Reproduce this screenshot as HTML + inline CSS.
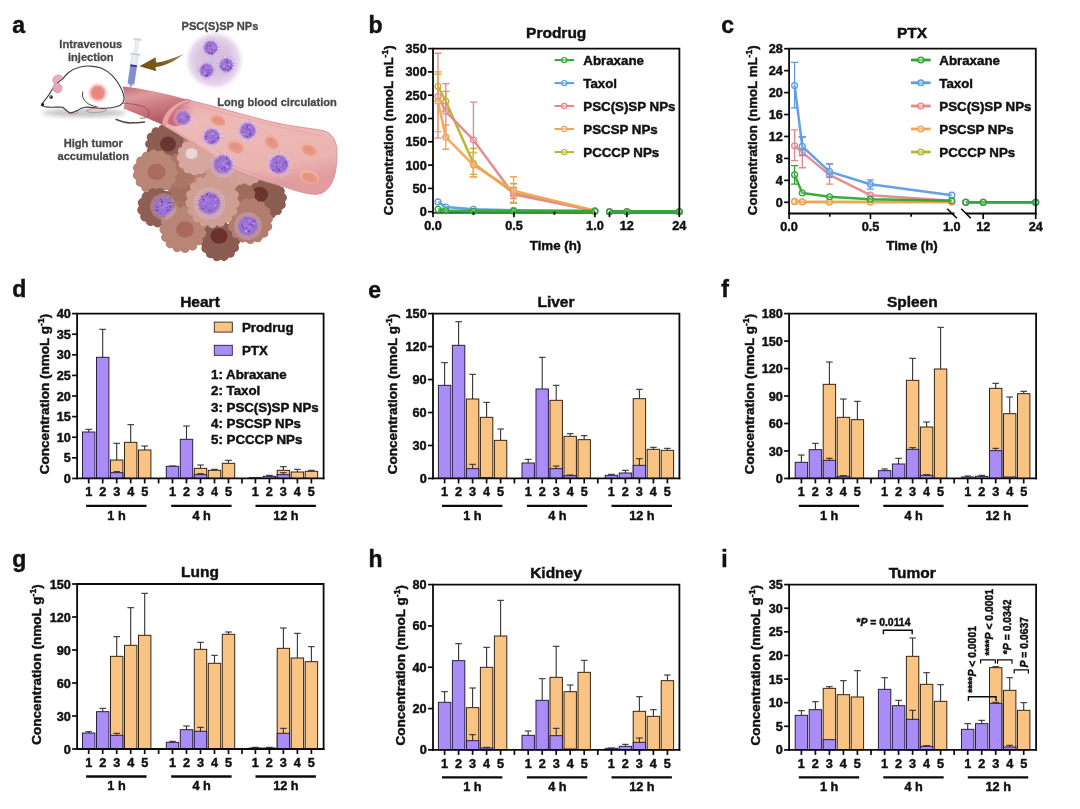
<!DOCTYPE html>
<html lang="en"><head><meta charset="utf-8"><title>Figure</title>
<style>html,body{margin:0;padding:0;background:#fff}svg{display:block}text{stroke:#111;stroke-width:.45px}text.g{stroke:#484848;stroke-width:.3px}</style></head>
<body>
<svg width="1080" height="809" viewBox="0 0 1080 809" font-family="'Liberation Sans', Arial, Helvetica, sans-serif" font-weight="bold">
<rect width="1080" height="809" fill="#fff"/>
<defs>
<radialGradient id="npg" cx="0.45" cy="0.45" r="0.6"><stop offset="0" stop-color="#a27ad8"/><stop offset="0.7" stop-color="#976ccf"/><stop offset="1" stop-color="#b08edc"/></radialGradient>
<radialGradient id="rbcg" cx="0.4" cy="0.4" r="0.7"><stop offset="0" stop-color="#e68e7e"/><stop offset="1" stop-color="#ea9e8e"/></radialGradient>
<radialGradient id="halo" cx="0.5" cy="0.5" r="0.5"><stop offset="0" stop-color="#d6bede"/><stop offset="0.55" stop-color="#dac4e2"/><stop offset="0.8" stop-color="#e7d8ec"/><stop offset="1" stop-color="#f7f0f8" stop-opacity="0"/></radialGradient>
<radialGradient id="spot" cx="0.5" cy="0.5" r="0.5"><stop offset="0" stop-color="#e8807c"/><stop offset="0.55" stop-color="#ea8a86"/><stop offset="1" stop-color="#f6c8c6" stop-opacity="0"/></radialGradient>
<linearGradient id="tube" x1="0" y1="0" x2="0.35" y2="1"><stop offset="0" stop-color="#c26872"/><stop offset="0.3" stop-color="#dd9a9c"/><stop offset="0.55" stop-color="#cf7f86"/><stop offset="1" stop-color="#b35a66"/></linearGradient>
<linearGradient id="lumen" x1="0" y1="0" x2="0.3" y2="1"><stop offset="0" stop-color="#e6a7a7"/><stop offset="0.25" stop-color="#edbab7"/><stop offset="0.8" stop-color="#ebb4b1"/><stop offset="1" stop-color="#e09c9e"/></linearGradient>
<linearGradient id="arrowg" x1="1" y1="0" x2="0" y2="0"><stop offset="0" stop-color="#a08a60"/><stop offset="0.5" stop-color="#7d5a1c"/><stop offset="1" stop-color="#74500f"/></linearGradient>
<linearGradient id="ringin" x1="0" y1="0.5" x2="1" y2="0.3"><stop offset="0" stop-color="#c9687a"/><stop offset="0.55" stop-color="#d27a88" stop-opacity="0.85"/><stop offset="1" stop-color="#e39aa0" stop-opacity="0.15"/></linearGradient>
<filter id="soft" x="-5%" y="-5%" width="110%" height="110%"><feGaussianBlur stdDeviation="0.45"/></filter>
<filter id="blur2" x="-20%" y="-20%" width="140%" height="140%"><feGaussianBlur stdDeviation="2"/></filter>
</defs>
<text x="12.2" y="33.3" font-size="23" fill="#111">a</text>
<g filter="url(#soft)">
<circle cx="214.4" cy="60.4" r="30.5" fill="url(#halo)"/>
<g opacity="1.0"><circle cx="210.8" cy="47.8" r="9.8" fill="#e6daf4" opacity="0.22"/>
<path d="M216.4 47.5L221.0 47.2M216.2 49.2L219.5 50.0M215.9 50.1L219.3 51.6M215.2 51.2L218.8 53.9M214.8 51.7L216.9 53.7M213.3 52.8L215.0 56.1M212.3 53.2L213.1 55.9M211.4 53.4L211.9 57.7M210.5 53.4L210.2 58.2M208.7 53.0L207.7 55.7M208.4 52.8L206.7 56.4M206.8 51.7L204.2 54.2M206.4 51.3L203.5 53.6M205.9 50.5L203.0 52.0M205.3 49.0L201.6 49.9M205.2 48.0L201.9 48.2M205.3 46.9L201.6 46.3M205.6 45.7L203.0 44.6M206.5 44.3L203.4 41.8M207.1 43.6L205.1 41.1M208.4 42.7L206.4 38.6M208.7 42.6L207.5 39.3M210.4 42.2L210.1 37.9M211.8 42.3L212.4 38.7M212.8 42.6L214.3 38.6M213.4 42.9L215.4 39.3M214.8 43.9L218.1 40.7M215.3 44.5L218.6 42.1M215.7 45.1L218.6 43.6M216.3 46.9L219.9 46.3" stroke="#b896e0" stroke-width="0.6" fill="none" opacity="0.8"/>
<path d="M218.1 47.8 L216.7 48.5 L218.3 49.7 L216.4 49.9 L217.4 51.3 L215.6 51.1 L216.5 52.8 L214.8 52.3 L215.1 54.0 L213.5 52.9 L213.5 54.9 L212.1 53.2 L211.7 54.9 L210.8 53.8 L209.8 55.7 L209.4 53.6 L208.2 54.8 L208.2 52.8 L206.5 54.0 L206.7 52.5 L205.0 53.0 L205.9 51.2 L203.8 51.5 L205.5 49.8 L203.4 49.6 L204.6 48.5 L203.2 47.8 L205.0 47.1 L203.7 46.0 L205.3 45.7 L203.7 44.1 L206.2 44.7 L204.9 42.6 L206.8 43.2 L206.3 41.3 L208.0 42.4 L208.0 40.5 L209.4 42.1 L209.9 40.2 L210.8 42.0 L211.7 40.7 L212.3 41.8 L213.5 40.7 L213.4 42.8 L215.1 41.6 L214.7 43.4 L216.4 42.9 L215.5 44.5 L217.5 44.3 L216.4 45.7 L218.2 46.0 L216.6 47.1Z" fill="url(#npg)"/>
<circle cx="213.7" cy="48.3" r="0.6" fill="#6438ae"/><circle cx="211.6" cy="49.5" r="0.7" fill="#7a4cc4"/><circle cx="212.1" cy="45.0" r="0.9" fill="#b486dc"/><circle cx="216.0" cy="50.3" r="0.7" fill="#7a4cc4"/><circle cx="210.9" cy="44.7" r="0.5" fill="#6438ae"/><circle cx="212.1" cy="50.8" r="0.6" fill="#7646c0"/><circle cx="208.3" cy="47.4" r="0.6" fill="#b486dc"/><circle cx="209.4" cy="52.8" r="0.7" fill="#6a3cb6"/><circle cx="214.6" cy="48.4" r="0.7" fill="#bc94e6"/><circle cx="210.6" cy="50.9" r="0.8" fill="#bc94e6"/><circle cx="214.8" cy="46.9" r="0.9" fill="#bc94e6"/><circle cx="213.1" cy="48.1" r="0.8" fill="#bc94e6"/><circle cx="206.7" cy="49.3" r="0.7" fill="#7a4cc4"/><circle cx="211.9" cy="53.8" r="0.9" fill="#6438ae"/><circle cx="206.6" cy="49.2" r="0.5" fill="#b486dc"/><circle cx="207.7" cy="46.2" r="0.8" fill="#6a3cb6"/><circle cx="210.6" cy="45.6" r="0.6" fill="#6a3cb6"/><circle cx="208.8" cy="53.2" r="0.6" fill="#7646c0"/>
</g>
<g opacity="1.0"><circle cx="226.4" cy="65.2" r="9.8" fill="#e6daf4" opacity="0.22"/>
<path d="M232.0 65.6L236.8 66.0M231.9 66.0L234.9 66.4M231.4 67.7L235.3 69.7M230.8 68.6L233.6 70.7M230.1 69.4L232.8 72.5M229.1 70.1L230.7 72.8M228.2 70.5L229.3 73.9M226.8 70.8L227.1 75.7M225.4 70.7L224.7 74.6M224.7 70.5L223.7 73.7M224.0 70.2L222.7 72.8M222.7 69.4L220.4 72.0M221.9 68.6L218.2 71.4M221.3 67.5L217.6 69.1M221.0 66.6L218.2 67.3M220.8 65.4L217.7 65.4M220.9 64.0L216.1 63.0M221.3 62.8L218.5 61.4M222.1 61.6L218.6 58.8M222.8 60.9L219.8 57.3M223.8 60.2L221.7 56.3M224.5 59.9L222.9 55.3M226.2 59.6L226.1 56.5M227.2 59.7L227.8 55.4M228.1 59.9L229.3 56.1M229.2 60.3L231.6 56.2M230.1 61.0L233.2 57.7M230.9 61.8L234.6 59.0M231.7 63.3L235.2 61.9M231.9 64.1L236.5 63.2" stroke="#b896e0" stroke-width="0.6" fill="none" opacity="0.8"/>
<path d="M234.2 65.2 L232.2 65.9 L233.5 66.9 L231.8 67.2 L233.3 68.8 L231.0 68.4 L232.3 70.5 L230.2 69.5 L230.9 71.7 L229.1 70.3 L229.2 72.7 L227.8 71.1 L227.3 72.7 L226.4 71.1 L225.5 72.8 L225.0 71.0 L223.8 72.1 L223.8 70.2 L222.1 71.4 L222.3 69.8 L220.7 70.3 L221.8 68.4 L219.4 68.8 L220.8 67.3 L218.7 67.1 L220.8 65.9 L218.6 65.2 L220.9 64.5 L218.9 63.4 L221.1 63.2 L219.9 61.8 L221.3 61.7 L221.0 60.4 L222.5 60.8 L221.9 58.7 L223.8 60.2 L223.8 58.4 L224.9 59.2 L225.5 57.8 L226.4 59.2 L227.3 58.1 L227.8 59.6 L229.0 58.4 L229.2 59.9 L230.5 59.3 L230.5 60.6 L231.7 60.5 L231.4 61.8 L232.7 61.9 L231.7 63.2 L234.0 63.3 L232.0 64.5Z" fill="url(#npg)"/>
<circle cx="228.5" cy="69.9" r="0.7" fill="#6a3cb6"/><circle cx="227.2" cy="62.3" r="0.9" fill="#6a3cb6"/><circle cx="223.7" cy="69.2" r="0.8" fill="#6a3cb6"/><circle cx="225.4" cy="69.4" r="0.6" fill="#6438ae"/><circle cx="226.9" cy="59.9" r="0.9" fill="#7a4cc4"/><circle cx="222.4" cy="68.0" r="0.6" fill="#bc94e6"/><circle cx="230.7" cy="68.0" r="0.9" fill="#6a3cb6"/><circle cx="220.9" cy="67.1" r="0.6" fill="#6438ae"/><circle cx="227.2" cy="61.0" r="0.6" fill="#7a4cc4"/><circle cx="229.4" cy="64.4" r="0.8" fill="#cbaaec"/><circle cx="223.5" cy="61.0" r="0.9" fill="#b486dc"/><circle cx="227.5" cy="65.6" r="0.6" fill="#6a3cb6"/><circle cx="223.6" cy="66.1" r="0.9" fill="#b486dc"/><circle cx="232.0" cy="62.7" r="0.6" fill="#cbaaec"/><circle cx="228.0" cy="66.0" r="0.6" fill="#7a4cc4"/><circle cx="228.0" cy="60.3" r="0.6" fill="#cbaaec"/><circle cx="225.4" cy="70.5" r="0.6" fill="#cbaaec"/><circle cx="224.7" cy="66.3" r="0.8" fill="#bc94e6"/>
</g>
<g opacity="1.0"><circle cx="206.6" cy="70.3" r="9.8" fill="#e6daf4" opacity="0.22"/>
<path d="M212.2 70.1L216.1 69.9M212.1 71.4L216.1 72.1M211.7 72.7L214.3 73.9M211.4 73.2L215.3 75.6M210.5 74.3L212.8 76.7M209.0 75.4L210.6 78.8M208.0 75.7L209.0 79.4M207.1 75.9L207.3 79.0M205.9 75.9L205.3 80.4M204.8 75.6L203.5 79.8M203.7 75.1L202.1 77.6M202.7 74.3L199.9 77.2M202.2 73.7L199.9 75.5M201.4 72.3L197.8 73.6M201.1 71.3L196.5 72.1M201.0 70.1L196.3 69.9M201.1 69.2L196.7 68.4M201.5 68.1L197.1 66.2M202.3 66.7L200.0 64.8M202.6 66.4L200.3 64.1M204.2 65.3L202.6 61.9M205.0 64.9L204.0 61.7M206.0 64.7L205.6 61.1M207.1 64.7L207.4 60.7M208.4 65.0L209.9 60.5M209.5 65.5L212.0 61.5M210.6 66.4L214.0 62.9M211.2 67.1L213.8 65.4M211.8 68.3L216.4 66.6M212.1 69.5L216.1 68.9" stroke="#b896e0" stroke-width="0.6" fill="none" opacity="0.8"/>
<path d="M214.4 70.3 L212.2 71.0 L214.2 72.2 L212.1 72.4 L213.1 73.7 L211.2 73.5 L212.5 75.5 L210.7 75.0 L210.7 76.2 L209.4 75.7 L209.3 77.3 L207.9 75.8 L207.5 77.6 L206.6 76.4 L205.6 78.1 L205.3 75.7 L203.9 77.5 L204.0 75.2 L202.2 76.7 L202.8 74.6 L200.7 75.5 L201.5 73.8 L199.9 73.8 L200.8 72.5 L199.4 72.1 L201.1 71.0 L198.9 70.3 L201.1 69.6 L199.5 68.6 L201.2 68.2 L199.8 66.7 L202.0 67.1 L201.3 65.6 L202.5 65.7 L202.4 64.2 L203.7 64.8 L203.8 62.9 L205.2 64.7 L205.7 62.8 L206.6 64.4 L207.5 62.7 L208.0 64.5 L209.3 63.2 L209.4 65.0 L211.1 63.7 L210.5 65.9 L212.2 65.3 L211.6 66.9 L213.1 66.9 L212.0 68.3 L214.4 68.4 L212.5 69.6Z" fill="url(#npg)"/>
<circle cx="206.0" cy="70.1" r="0.7" fill="#6438ae"/><circle cx="205.1" cy="73.8" r="0.8" fill="#bc94e6"/><circle cx="211.1" cy="72.1" r="0.7" fill="#b486dc"/><circle cx="210.8" cy="67.9" r="0.6" fill="#cbaaec"/><circle cx="208.1" cy="70.5" r="0.8" fill="#7646c0"/><circle cx="206.6" cy="74.5" r="0.8" fill="#7646c0"/><circle cx="207.8" cy="72.7" r="0.8" fill="#7a4cc4"/><circle cx="203.8" cy="68.4" r="0.7" fill="#7a4cc4"/><circle cx="208.9" cy="64.7" r="0.8" fill="#bc94e6"/><circle cx="205.5" cy="73.0" r="0.9" fill="#bc94e6"/><circle cx="204.2" cy="74.8" r="0.8" fill="#6a3cb6"/><circle cx="209.4" cy="72.4" r="0.7" fill="#7a4cc4"/><circle cx="207.5" cy="75.8" r="0.9" fill="#6a3cb6"/><circle cx="204.0" cy="74.5" r="0.9" fill="#cbaaec"/><circle cx="205.9" cy="75.7" r="0.5" fill="#bc94e6"/><circle cx="204.4" cy="75.5" r="0.8" fill="#7a4cc4"/><circle cx="205.6" cy="75.7" r="0.8" fill="#7a4cc4"/><circle cx="203.1" cy="67.1" r="0.7" fill="#6438ae"/>
</g>
<path d="M203.5 196.0 L204.8 197.1 L205.3 198.3 L205.5 199.6 L205.3 200.8 L204.9 201.9 L204.2 202.9 L203.2 203.7 L201.5 204.1 L202.1 205.8 L202.0 207.1 L201.6 208.2 L200.9 209.2 L200.0 210.0 L198.9 210.6 L197.6 210.8 L195.9 210.4 L195.8 212.1 L195.0 213.2 L194.1 214.1 L193.1 214.6 L191.9 214.9 L190.7 214.9 L189.4 214.5 L188.1 213.4 L187.1 214.8 L186.0 215.5 L184.8 215.8 L183.6 215.8 L182.4 215.5 L181.3 214.9 L180.4 214.0 L179.8 212.3 L178.3 213.2 L177.0 213.2 L175.8 212.9 L174.7 212.4 L173.8 211.6 L173.1 210.6 L172.7 209.3 L172.9 207.6 L171.2 207.6 L170.0 207.1 L169.1 206.2 L168.4 205.3 L167.9 204.1 L167.8 202.9 L168.0 201.6 L169.0 200.2 L167.5 199.4 L166.7 198.3 L166.2 197.2 L166.1 196.0 L166.2 194.8 L166.7 193.7 L167.5 192.6 L169.0 191.8 L168.0 190.4 L167.8 189.1 L167.9 187.9 L168.4 186.7 L169.1 185.8 L170.0 184.9 L171.2 184.4 L172.9 184.4 L172.7 182.7 L173.1 181.4 L173.8 180.4 L174.7 179.6 L175.8 179.1 L177.0 178.8 L178.3 178.8 L179.8 179.7 L180.4 178.0 L181.3 177.1 L182.4 176.5 L183.6 176.2 L184.8 176.2 L186.0 176.5 L187.1 177.2 L188.1 178.6 L189.4 177.5 L190.7 177.1 L191.9 177.1 L193.1 177.4 L194.1 177.9 L195.0 178.8 L195.8 179.9 L195.9 181.6 L197.6 181.2 L198.9 181.4 L200.0 182.0 L200.9 182.8 L201.6 183.8 L202.0 184.9 L202.1 186.2 L201.5 187.9 L203.2 188.3 L204.2 189.1 L204.9 190.1 L205.3 191.2 L205.5 192.4 L205.3 193.7 L204.8 194.9 L203.5 196.0Z" fill="#a46e60"/>
<path d="M218.3 178.0 L218.6 179.0 L218.6 180.1 L218.4 181.1 L217.9 182.0 L217.2 182.8 L216.2 183.4 L216.2 184.5 L216.2 185.6 L216.0 186.7 L215.5 187.6 L214.8 188.3 L213.9 188.9 L212.9 189.3 L211.7 189.3 L211.2 190.3 L210.6 191.2 L209.9 192.0 L209.0 192.5 L208.0 192.8 L207.0 192.9 L205.9 192.7 L204.9 192.1 L204.0 192.7 L203.0 193.3 L202.0 193.6 L200.9 193.6 L199.9 193.4 L199.0 192.9 L198.2 192.2 L197.6 191.2 L196.5 191.2 L195.4 191.2 L194.3 191.0 L193.4 190.5 L192.7 189.8 L192.1 188.9 L191.7 187.9 L191.7 186.7 L190.7 186.2 L189.8 185.6 L189.0 184.9 L188.5 184.0 L188.2 183.0 L188.1 182.0 L188.3 180.9 L188.9 179.9 L188.3 179.0 L187.7 178.0 L187.4 177.0 L187.4 175.9 L187.6 174.9 L188.1 174.0 L188.8 173.2 L189.8 172.6 L189.8 171.5 L189.8 170.4 L190.0 169.3 L190.5 168.4 L191.2 167.7 L192.1 167.1 L193.1 166.7 L194.3 166.7 L194.8 165.7 L195.4 164.8 L196.1 164.0 L197.0 163.5 L198.0 163.2 L199.0 163.1 L200.1 163.3 L201.1 163.9 L202.0 163.3 L203.0 162.7 L204.0 162.4 L205.1 162.4 L206.1 162.6 L207.0 163.1 L207.8 163.8 L208.4 164.8 L209.5 164.8 L210.6 164.8 L211.7 165.0 L212.6 165.5 L213.3 166.2 L213.9 167.1 L214.3 168.1 L214.3 169.3 L215.3 169.8 L216.2 170.4 L217.0 171.1 L217.5 172.0 L217.8 173.0 L217.9 174.0 L217.7 175.1 L217.1 176.1 L217.7 177.0 L218.3 178.0Z" fill="#b98577"/>
<path d="M252.8 207.0 L252.7 208.1 L252.4 209.2 L251.8 210.1 L250.9 211.0 L250.7 212.0 L251.0 213.2 L250.9 214.3 L250.5 215.4 L249.9 216.3 L249.1 217.1 L248.1 217.6 L246.9 217.9 L246.3 218.7 L245.9 219.8 L245.2 220.8 L244.4 221.5 L243.4 222.0 L242.3 222.3 L241.2 222.3 L240.0 221.9 L239.0 222.2 L238.1 223.1 L237.1 223.5 L236.0 223.8 L234.9 223.7 L233.8 223.4 L232.9 222.8 L232.0 221.9 L231.0 221.7 L229.8 222.0 L228.7 221.9 L227.6 221.5 L226.7 220.9 L225.9 220.1 L225.4 219.1 L225.1 217.9 L224.3 217.3 L223.2 216.9 L222.2 216.2 L221.5 215.4 L221.0 214.4 L220.7 213.3 L220.7 212.2 L221.1 211.0 L220.8 210.0 L219.9 209.1 L219.5 208.1 L219.2 207.0 L219.3 205.9 L219.6 204.8 L220.2 203.9 L221.1 203.0 L221.3 202.0 L221.0 200.8 L221.1 199.7 L221.5 198.6 L222.1 197.7 L222.9 196.9 L223.9 196.4 L225.1 196.1 L225.7 195.3 L226.1 194.2 L226.8 193.2 L227.6 192.5 L228.6 192.0 L229.7 191.7 L230.8 191.7 L232.0 192.1 L233.0 191.8 L233.9 190.9 L234.9 190.5 L236.0 190.2 L237.1 190.3 L238.2 190.6 L239.1 191.2 L240.0 192.1 L241.0 192.3 L242.2 192.0 L243.3 192.1 L244.4 192.5 L245.3 193.1 L246.1 193.9 L246.6 194.9 L246.9 196.1 L247.7 196.7 L248.8 197.1 L249.8 197.8 L250.5 198.6 L251.0 199.6 L251.3 200.7 L251.3 201.8 L250.9 203.0 L251.2 204.0 L252.1 204.9 L252.5 205.9 L252.8 207.0Z" fill="#9b6558"/>
<path d="M260.6 184.0 L260.2 185.0 L259.5 186.0 L259.0 186.9 L259.6 188.1 L259.7 189.2 L259.6 190.3 L259.2 191.3 L258.6 192.2 L257.8 192.9 L256.7 193.4 L255.8 194.1 L255.8 195.3 L255.4 196.4 L254.8 197.3 L254.0 198.0 L253.0 198.5 L251.9 198.8 L250.7 198.7 L249.7 198.9 L249.1 200.0 L248.2 200.7 L247.3 201.3 L246.2 201.5 L245.1 201.5 L244.0 201.2 L243.0 200.6 L242.0 200.3 L240.9 201.0 L239.8 201.3 L238.7 201.3 L237.7 201.0 L236.7 200.5 L235.9 199.7 L235.3 198.7 L234.6 197.9 L233.3 198.1 L232.2 197.8 L231.2 197.3 L230.4 196.6 L229.8 195.7 L229.4 194.6 L229.3 193.4 L229.1 192.4 L227.9 191.9 L227.0 191.2 L226.4 190.3 L226.0 189.3 L225.9 188.2 L226.0 187.1 L226.5 186.0 L226.7 185.0 L225.9 184.0 L225.5 182.9 L225.4 181.9 L225.5 180.8 L225.9 179.8 L226.5 178.9 L227.5 178.1 L228.1 177.3 L227.9 176.1 L228.0 174.9 L228.4 173.9 L229.0 173.0 L229.8 172.3 L230.8 171.8 L232.0 171.6 L232.9 171.2 L233.3 169.9 L233.9 169.0 L234.7 168.3 L235.7 167.8 L236.7 167.5 L237.9 167.5 L239.0 167.9 L240.1 168.0 L240.9 167.0 L241.9 166.5 L243.0 166.2 L244.1 166.2 L245.1 166.5 L246.1 167.0 L247.0 167.9 L247.8 168.4 L249.1 168.0 L250.2 168.0 L251.3 168.3 L252.2 168.8 L253.0 169.5 L253.6 170.4 L254.0 171.6 L254.5 172.5 L255.8 172.7 L256.8 173.2 L257.6 173.9 L258.2 174.8 L258.6 175.8 L258.7 176.9 L258.5 178.1 L258.6 179.2 L259.6 179.9 L260.3 180.8 L260.6 181.9 L260.8 182.9 L260.6 184.0Z" fill="#d2a197"/>
<path d="M198.8 149.0 L198.2 149.9 L198.8 150.8 L199.0 151.8 L199.0 152.8 L198.8 153.8 L198.3 154.6 L197.6 155.4 L196.8 155.9 L195.8 156.3 L195.8 157.5 L195.4 158.4 L194.9 159.3 L194.2 159.9 L193.3 160.4 L192.4 160.6 L191.3 160.7 L190.3 160.5 L189.7 161.4 L188.8 162.0 L187.9 162.4 L187.0 162.6 L186.0 162.5 L185.1 162.2 L184.2 161.7 L183.4 161.0 L182.3 161.4 L181.3 161.5 L180.4 161.3 L179.5 161.0 L178.7 160.4 L178.0 159.6 L177.6 158.7 L177.3 157.7 L176.2 157.5 L175.3 157.0 L174.6 156.3 L174.0 155.5 L173.7 154.6 L173.6 153.6 L173.7 152.6 L174.0 151.6 L173.2 150.8 L172.7 150.0 L172.4 149.0 L172.4 148.0 L172.6 147.1 L173.0 146.2 L173.7 145.4 L174.5 144.7 L174.2 143.6 L174.3 142.6 L174.6 141.7 L175.1 140.8 L175.8 140.1 L176.6 139.6 L177.6 139.3 L178.7 139.2 L179.0 138.1 L179.6 137.3 L180.4 136.7 L181.2 136.2 L182.2 136.0 L183.2 136.0 L184.2 136.3 L185.1 136.8 L186.0 136.0 L187.0 135.7 L187.9 135.6 L188.9 135.7 L189.8 136.0 L190.6 136.6 L191.3 137.3 L191.9 138.3 L193.0 138.1 L194.0 138.3 L194.9 138.7 L195.6 139.4 L196.2 140.1 L196.6 141.0 L196.8 142.1 L196.7 143.1 L197.8 143.6 L198.5 144.3 L199.0 145.2 L199.3 146.1 L199.4 147.1 L199.2 148.1 L198.8 149.0Z" fill="#b27c6e"/>
<path d="M237.9 178.0 L238.2 178.9 L238.4 179.8 L238.3 180.7 L238.0 181.5 L237.5 182.3 L236.9 183.0 L235.9 183.4 L236.0 184.4 L235.8 185.3 L235.4 186.2 L234.9 186.9 L234.2 187.5 L233.4 187.9 L232.5 188.0 L231.4 187.9 L230.9 188.8 L230.3 189.5 L229.5 190.0 L228.7 190.3 L227.8 190.4 L226.9 190.3 L226.0 189.9 L225.2 189.2 L224.3 189.7 L223.4 190.0 L222.5 190.0 L221.6 189.8 L220.8 189.4 L220.1 188.8 L219.5 188.0 L219.3 187.0 L218.2 187.0 L217.3 186.7 L216.6 186.2 L215.9 185.5 L215.5 184.8 L215.2 183.9 L215.1 183.0 L215.5 181.9 L214.6 181.3 L214.0 180.6 L213.6 179.8 L213.5 178.9 L213.5 178.0 L213.7 177.1 L214.2 176.3 L215.0 175.6 L214.6 174.7 L214.5 173.7 L214.6 172.8 L215.0 172.0 L215.5 171.2 L216.1 170.6 L217.0 170.2 L218.1 170.1 L218.2 169.0 L218.7 168.2 L219.2 167.5 L220.0 167.0 L220.8 166.6 L221.7 166.5 L222.6 166.5 L223.6 167.0 L224.3 166.3 L225.1 165.8 L226.0 165.5 L226.9 165.5 L227.8 165.6 L228.6 166.0 L229.4 166.5 L229.9 167.5 L230.9 167.2 L231.9 167.2 L232.8 167.5 L233.5 167.9 L234.2 168.5 L234.7 169.3 L235.0 170.2 L235.0 171.3 L236.0 171.6 L236.8 172.1 L237.4 172.8 L237.8 173.6 L238.0 174.5 L238.0 175.4 L237.8 176.3 L237.2 177.2 L237.9 178.0Z" fill="#d0a096"/>
<path d="M225.4 166.0 L225.5 166.9 L225.4 167.8 L225.0 168.6 L224.5 169.4 L223.7 170.0 L223.6 170.9 L223.5 171.8 L223.2 172.7 L222.8 173.5 L222.1 174.1 L221.4 174.6 L220.5 174.9 L219.5 175.0 L218.9 175.6 L218.3 176.3 L217.5 176.9 L216.7 177.2 L215.8 177.4 L214.9 177.3 L214.0 177.0 L213.2 176.5 L212.3 176.6 L211.4 176.9 L210.5 176.9 L209.6 176.6 L208.8 176.2 L208.1 175.7 L207.5 174.9 L207.2 174.0 L206.4 173.6 L205.5 173.3 L204.8 172.7 L204.2 172.0 L203.8 171.2 L203.5 170.3 L203.5 169.4 L203.8 168.5 L203.4 167.7 L202.9 166.9 L202.6 166.0 L202.5 165.1 L202.6 164.2 L203.0 163.4 L203.5 162.6 L204.3 162.0 L204.4 161.1 L204.5 160.2 L204.8 159.3 L205.2 158.5 L205.9 157.9 L206.6 157.4 L207.5 157.1 L208.5 157.0 L209.1 156.4 L209.7 155.7 L210.5 155.1 L211.3 154.8 L212.2 154.6 L213.1 154.7 L214.0 155.0 L214.8 155.5 L215.7 155.4 L216.6 155.1 L217.5 155.1 L218.4 155.4 L219.2 155.8 L219.9 156.3 L220.5 157.1 L220.8 158.0 L221.6 158.4 L222.5 158.7 L223.2 159.3 L223.8 160.0 L224.2 160.8 L224.5 161.7 L224.5 162.6 L224.2 163.5 L224.6 164.3 L225.1 165.1 L225.4 166.0Z" fill="#cb9a8f"/>
<path d="M193.6 214.0 L193.4 215.0 L193.0 215.9 L192.3 216.7 L192.1 217.5 L192.3 218.6 L192.2 219.6 L191.9 220.5 L191.4 221.4 L190.8 222.1 L189.9 222.6 L188.9 222.9 L188.2 223.5 L187.9 224.5 L187.3 225.3 L186.5 225.9 L185.7 226.4 L184.7 226.6 L183.7 226.6 L182.7 226.3 L181.8 226.4 L180.9 227.1 L180.0 227.4 L179.0 227.6 L178.1 227.5 L177.1 227.1 L176.3 226.6 L175.6 225.8 L174.8 225.4 L173.7 225.5 L172.7 225.3 L171.8 224.9 L171.1 224.3 L170.5 223.5 L170.1 222.6 L169.9 221.6 L169.4 220.8 L168.5 220.3 L167.8 219.6 L167.3 218.8 L166.9 217.8 L166.9 216.9 L167.0 215.9 L167.4 214.9 L167.4 214.0 L166.9 213.1 L166.7 212.1 L166.7 211.1 L166.9 210.2 L167.4 209.3 L168.0 208.5 L168.9 208.0 L169.4 207.2 L169.5 206.1 L169.8 205.2 L170.4 204.4 L171.1 203.7 L171.9 203.2 L172.9 202.9 L174.0 202.9 L174.8 202.6 L175.4 201.7 L176.2 201.1 L177.1 200.7 L178.1 200.5 L179.0 200.6 L180.0 200.9 L180.9 201.4 L181.8 201.6 L182.8 201.2 L183.8 201.1 L184.8 201.3 L185.7 201.6 L186.4 202.2 L187.1 202.9 L187.6 203.9 L188.2 204.5 L189.3 204.7 L190.2 205.2 L190.9 205.8 L191.4 206.6 L191.8 207.6 L192.0 208.5 L191.8 209.6 L192.1 210.5 L192.8 211.2 L193.3 212.1 L193.6 213.0 L193.6 214.0Z" fill="#a97163"/>
<path d="M217.2 226.0 L216.7 227.0 L216.2 227.9 L216.7 229.0 L216.8 230.1 L216.7 231.1 L216.3 232.1 L215.8 233.0 L215.0 233.7 L214.0 234.2 L213.1 234.7 L212.9 235.9 L212.4 236.9 L211.8 237.7 L210.9 238.3 L210.0 238.8 L208.9 239.0 L207.8 238.9 L206.8 238.8 L206.0 239.7 L205.1 240.3 L204.0 240.6 L203.0 240.7 L202.0 240.5 L201.0 240.1 L200.1 239.4 L199.2 238.8 L198.1 239.1 L197.0 239.1 L196.0 238.8 L195.1 238.3 L194.3 237.6 L193.7 236.8 L193.3 235.7 L192.9 234.7 L191.8 234.4 L190.9 233.8 L190.2 233.0 L189.7 232.1 L189.4 231.1 L189.3 230.0 L189.6 228.9 L189.8 227.9 L189.0 227.0 L188.6 226.0 L188.4 225.0 L188.5 223.9 L188.8 222.9 L189.3 222.0 L190.1 221.2 L190.9 220.5 L190.7 219.3 L190.9 218.2 L191.3 217.2 L191.9 216.4 L192.7 215.7 L193.7 215.2 L194.8 215.0 L195.8 214.8 L196.3 213.7 L197.0 212.9 L197.9 212.3 L198.9 211.9 L199.9 211.8 L201.0 211.9 L202.0 212.3 L203.0 212.7 L204.0 212.0 L205.1 211.7 L206.1 211.7 L207.1 211.9 L208.1 212.4 L208.9 213.0 L209.6 214.0 L210.2 214.8 L211.4 214.8 L212.4 215.1 L213.3 215.7 L214.1 216.4 L214.6 217.3 L215.0 218.3 L215.0 219.4 L215.1 220.5 L216.1 221.1 L216.8 221.9 L217.3 222.9 L217.5 223.9 L217.5 225.0 L217.2 226.0Z" fill="#a06859"/>
<path d="M181.7 144.0 L182.8 145.1 L183.3 146.3 L183.5 147.5 L183.3 148.6 L182.9 149.7 L182.2 150.7 L181.2 151.5 L179.8 152.0 L180.2 153.5 L180.1 154.8 L179.7 155.9 L179.0 156.9 L178.1 157.6 L177.0 158.2 L175.8 158.4 L174.3 158.2 L174.0 159.7 L173.3 160.8 L172.4 161.6 L171.4 162.1 L170.2 162.4 L169.0 162.4 L167.8 162.0 L166.6 161.1 L165.6 162.3 L164.5 163.0 L163.3 163.3 L162.2 163.2 L161.0 163.0 L160.0 162.4 L159.1 161.5 L158.4 160.1 L157.0 160.8 L155.7 160.8 L154.5 160.5 L153.5 160.0 L152.6 159.2 L152.0 158.2 L151.5 157.0 L151.6 155.4 L150.0 155.3 L148.9 154.8 L148.0 154.0 L147.3 153.0 L146.9 151.9 L146.8 150.7 L147.0 149.4 L147.8 148.1 L146.4 147.3 L145.7 146.3 L145.2 145.2 L145.1 144.0 L145.3 142.8 L145.7 141.7 L146.5 140.7 L147.8 139.9 L146.9 138.5 L146.8 137.3 L146.9 136.1 L147.3 135.0 L148.0 134.0 L148.9 133.3 L150.1 132.7 L151.6 132.6 L151.5 131.0 L151.9 129.8 L152.6 128.8 L153.5 128.0 L154.5 127.5 L155.7 127.2 L157.0 127.3 L158.4 127.9 L159.0 126.4 L160.0 125.6 L161.0 125.0 L162.2 124.8 L163.3 124.8 L164.5 125.1 L165.6 125.7 L166.6 126.9 L167.8 125.9 L169.0 125.6 L170.2 125.6 L171.4 125.9 L172.4 126.4 L173.3 127.2 L174.0 128.3 L174.3 129.8 L175.8 129.5 L177.1 129.8 L178.1 130.4 L179.0 131.1 L179.7 132.1 L180.1 133.3 L180.2 134.5 L179.8 136.0 L181.3 136.5 L182.2 137.3 L182.9 138.3 L183.3 139.4 L183.5 140.5 L183.3 141.7 L182.8 142.9 L181.7 144.0Z" fill="#8c5d53"/>
<ellipse cx="168" cy="144" rx="8" ry="7.4" fill="#6b3630"/>
<path d="M196.3 171.0 L196.6 172.1 L196.7 173.1 L196.5 174.2 L196.0 175.2 L195.2 176.1 L194.0 176.7 L194.3 177.9 L194.3 179.1 L194.1 180.1 L193.7 181.1 L193.0 181.9 L192.1 182.6 L191.0 183.0 L189.7 183.0 L189.3 184.2 L188.8 185.3 L188.1 186.1 L187.3 186.8 L186.3 187.2 L185.2 187.3 L184.1 187.2 L182.8 186.6 L182.0 187.5 L181.1 188.2 L180.1 188.6 L179.0 188.8 L177.9 188.7 L176.9 188.3 L175.9 187.7 L175.2 186.6 L174.0 187.0 L172.9 187.2 L171.7 187.1 L170.7 186.8 L169.8 186.2 L169.1 185.4 L168.5 184.4 L168.3 183.0 L167.2 182.8 L166.0 182.5 L165.1 181.9 L164.3 181.1 L163.8 180.2 L163.5 179.1 L163.5 178.0 L164.0 176.7 L163.0 176.0 L162.2 175.1 L161.6 174.2 L161.3 173.1 L161.3 172.1 L161.5 171.0 L162.1 170.0 L163.0 169.1 L162.5 168.0 L162.2 166.9 L162.1 165.7 L162.3 164.7 L162.8 163.7 L163.5 162.9 L164.5 162.2 L165.8 161.9 L165.8 160.7 L166.0 159.5 L166.5 158.5 L167.2 157.7 L168.1 157.0 L169.1 156.6 L170.2 156.5 L171.5 156.8 L172.1 155.7 L172.9 154.8 L173.7 154.1 L174.7 153.7 L175.8 153.5 L176.9 153.7 L178.0 154.1 L179.0 154.9 L180.0 154.3 L181.1 153.8 L182.2 153.6 L183.3 153.7 L184.3 154.1 L185.2 154.7 L186.0 155.5 L186.5 156.8 L187.7 156.7 L188.8 156.7 L189.9 157.1 L190.8 157.7 L191.5 158.5 L192.1 159.4 L192.4 160.5 L192.2 161.9 L193.3 162.3 L194.3 162.9 L195.1 163.7 L195.7 164.7 L195.9 165.7 L196.0 166.8 L195.7 167.9 L195.0 169.1 L195.7 170.0 L196.3 171.0Z" fill="#ad7566"/>
<path d="M177.5 172.0 L177.5 173.2 L177.1 174.3 L176.4 175.4 L175.2 176.3 L175.2 177.4 L175.7 178.7 L175.8 180.0 L175.6 181.2 L175.0 182.2 L174.2 183.1 L173.1 183.8 L171.7 184.2 L171.3 185.2 L171.2 186.6 L170.8 187.8 L170.1 188.7 L169.2 189.5 L168.0 190.0 L166.8 190.1 L165.3 189.9 L164.5 190.7 L163.9 191.9 L163.0 192.8 L162.0 193.4 L160.8 193.7 L159.6 193.7 L158.4 193.4 L157.2 192.6 L156.1 192.9 L155.0 193.8 L153.8 194.3 L152.6 194.4 L151.5 194.2 L150.4 193.7 L149.4 192.9 L148.6 191.7 L147.5 191.5 L146.1 191.9 L144.9 191.9 L143.7 191.5 L142.8 190.9 L142.0 190.0 L141.4 188.8 L141.2 187.4 L140.2 186.8 L138.8 186.6 L137.7 186.0 L136.8 185.2 L136.1 184.2 L135.8 183.1 L135.7 181.8 L136.1 180.4 L135.5 179.5 L134.3 178.7 L133.5 177.8 L133.0 176.7 L132.8 175.5 L132.9 174.3 L133.4 173.1 L134.3 172.0 L134.1 170.9 L133.3 169.7 L133.0 168.5 L133.0 167.3 L133.3 166.2 L133.9 165.1 L134.8 164.2 L136.1 163.6 L136.3 162.5 L136.1 161.1 L136.3 159.9 L136.8 158.8 L137.5 157.8 L138.5 157.1 L139.7 156.7 L141.2 156.6 L141.8 155.7 L142.2 154.4 L142.9 153.3 L143.7 152.5 L144.8 152.0 L146.0 151.7 L147.2 151.8 L148.6 152.3 L149.6 151.8 L150.5 150.7 L151.5 150.0 L152.6 149.6 L153.8 149.5 L155.0 149.8 L156.1 150.4 L157.2 151.4 L158.3 151.3 L159.5 150.7 L160.8 150.5 L162.0 150.6 L163.1 151.0 L164.0 151.7 L164.8 152.7 L165.3 154.1 L166.4 154.4 L167.8 154.4 L169.0 154.7 L170.1 155.3 L170.9 156.1 L171.5 157.1 L171.8 158.4 L171.7 159.8 L172.6 160.6 L173.9 161.1 L174.9 161.9 L175.6 162.8 L176.0 163.9 L176.1 165.1 L175.9 166.4 L175.2 167.7 L175.7 168.7 L176.7 169.7 L177.3 170.8 L177.5 172.0Z" fill="#b98676"/>
<ellipse cx="156.5" cy="172" rx="9" ry="8.3" fill="#a96c5e"/>
<path d="M286.7 199.0 L286.2 200.1 L285.4 201.1 L285.0 202.1 L285.6 203.4 L285.8 204.6 L285.7 205.7 L285.4 206.8 L284.7 207.8 L283.8 208.6 L282.6 209.1 L281.8 209.8 L281.8 211.2 L281.5 212.4 L280.9 213.4 L280.1 214.2 L279.1 214.8 L277.9 215.1 L276.6 215.1 L275.6 215.4 L275.0 216.7 L274.2 217.6 L273.2 218.2 L272.2 218.6 L271.0 218.7 L269.8 218.5 L268.6 217.9 L267.6 217.7 L266.5 218.6 L265.4 219.1 L264.2 219.3 L263.1 219.1 L262.0 218.7 L261.0 218.0 L260.2 216.9 L259.3 216.3 L258.0 216.7 L256.8 216.6 L255.7 216.3 L254.7 215.7 L253.9 214.8 L253.3 213.7 L253.1 212.4 L252.5 211.5 L251.2 211.2 L250.1 210.7 L249.2 209.8 L248.6 208.9 L248.3 207.8 L248.2 206.6 L248.6 205.3 L248.5 204.2 L247.4 203.4 L246.7 202.4 L246.2 201.3 L246.1 200.1 L246.3 199.0 L246.8 197.9 L247.6 196.9 L248.0 195.9 L247.4 194.6 L247.2 193.4 L247.3 192.3 L247.6 191.2 L248.3 190.2 L249.2 189.4 L250.4 188.9 L251.2 188.2 L251.2 186.8 L251.5 185.6 L252.1 184.6 L252.9 183.8 L253.9 183.2 L255.1 182.9 L256.4 182.9 L257.4 182.6 L258.0 181.3 L258.8 180.4 L259.8 179.8 L260.8 179.4 L262.0 179.3 L263.2 179.5 L264.4 180.1 L265.4 180.3 L266.5 179.4 L267.6 178.9 L268.8 178.7 L269.9 178.9 L271.0 179.3 L272.0 180.0 L272.8 181.1 L273.7 181.7 L275.0 181.3 L276.2 181.4 L277.3 181.7 L278.3 182.3 L279.1 183.2 L279.7 184.3 L279.9 185.6 L280.5 186.5 L281.8 186.8 L282.9 187.3 L283.8 188.2 L284.4 189.1 L284.7 190.2 L284.8 191.4 L284.4 192.7 L284.5 193.8 L285.6 194.6 L286.3 195.6 L286.8 196.7 L286.9 197.9 L286.7 199.0Z" fill="#8b5d53"/>
<ellipse cx="259.5" cy="194.5" rx="8.5" ry="7.8" fill="#6a352e"/>
<path d="M254.8 195.0 L254.4 195.8 L254.9 196.7 L255.0 197.6 L254.9 198.5 L254.6 199.4 L254.2 200.2 L253.6 200.9 L252.8 201.4 L251.9 201.8 L251.8 202.8 L251.3 203.6 L250.7 204.3 L250.0 204.8 L249.2 205.2 L248.3 205.4 L247.3 205.3 L246.4 205.1 L245.7 205.9 L244.9 206.3 L244.0 206.5 L243.1 206.5 L242.2 206.3 L241.4 205.9 L240.7 205.3 L240.0 204.6 L239.0 204.8 L238.1 204.6 L237.3 204.3 L236.5 203.8 L235.9 203.1 L235.5 202.3 L235.2 201.4 L235.1 200.4 L234.2 200.0 L233.6 199.3 L233.1 198.5 L232.8 197.7 L232.7 196.8 L232.8 195.9 L233.2 195.0 L233.6 194.2 L233.1 193.3 L233.0 192.4 L233.1 191.5 L233.4 190.6 L233.8 189.8 L234.4 189.1 L235.2 188.6 L236.1 188.2 L236.2 187.2 L236.7 186.4 L237.3 185.7 L238.0 185.2 L238.8 184.8 L239.7 184.6 L240.7 184.7 L241.6 184.9 L242.3 184.1 L243.1 183.7 L244.0 183.5 L244.9 183.5 L245.8 183.7 L246.6 184.1 L247.3 184.7 L248.0 185.4 L249.0 185.2 L249.9 185.4 L250.7 185.7 L251.5 186.2 L252.1 186.9 L252.5 187.7 L252.8 188.6 L252.9 189.6 L253.8 190.0 L254.4 190.7 L254.9 191.5 L255.2 192.3 L255.3 193.2 L255.2 194.1 L254.8 195.0Z" fill="#a06a5c"/>
<path d="M212.3 157.0 L212.9 158.1 L213.1 159.2 L213.0 160.3 L212.7 161.4 L212.1 162.3 L211.3 163.2 L209.9 163.7 L210.3 165.1 L210.3 166.3 L210.0 167.4 L209.4 168.3 L208.7 169.1 L207.7 169.7 L206.5 170.0 L205.1 169.8 L204.8 171.3 L204.3 172.3 L203.5 173.1 L202.5 173.7 L201.5 174.1 L200.3 174.1 L199.2 173.9 L197.9 173.0 L197.1 174.2 L196.1 174.9 L195.0 175.2 L193.9 175.3 L192.8 175.1 L191.8 174.6 L190.8 173.9 L190.2 172.6 L188.9 173.2 L187.7 173.3 L186.5 173.1 L185.5 172.7 L184.6 172.0 L183.9 171.1 L183.5 170.0 L183.5 168.5 L182.0 168.5 L180.9 168.0 L180.0 167.4 L179.3 166.5 L178.8 165.5 L178.6 164.4 L178.7 163.2 L179.4 161.8 L178.2 161.1 L177.4 160.2 L176.9 159.2 L176.7 158.1 L176.8 157.0 L177.1 155.9 L177.7 154.9 L179.0 154.1 L178.2 152.9 L177.9 151.7 L178.0 150.5 L178.3 149.5 L178.8 148.5 L179.6 147.7 L180.7 147.1 L182.2 146.9 L182.0 145.5 L182.3 144.3 L182.9 143.4 L183.7 142.6 L184.6 142.0 L185.7 141.6 L186.9 141.6 L188.3 142.1 L188.9 140.8 L189.7 139.9 L190.6 139.3 L191.7 139.0 L192.8 138.9 L193.9 139.1 L195.0 139.6 L196.0 140.7 L197.1 139.8 L198.2 139.4 L199.4 139.3 L200.5 139.5 L201.5 139.9 L202.4 140.6 L203.1 141.6 L203.4 143.1 L204.8 142.7 L206.0 142.9 L207.1 143.4 L208.0 144.0 L208.7 144.9 L209.1 145.9 L209.3 147.1 L208.9 148.6 L210.3 148.9 L211.3 149.7 L212.0 150.5 L212.5 151.5 L212.7 152.6 L212.6 153.8 L212.3 154.9 L211.3 156.0 L212.3 157.0Z" fill="#d6a79f"/>
<ellipse cx="191.5" cy="153.5" rx="6" ry="5.5" fill="#ead6cf"/>
<path d="M176.7 207.5 L176.9 208.7 L176.7 209.9 L176.2 211.0 L175.5 212.1 L174.3 212.9 L174.4 214.1 L174.6 215.4 L174.5 216.7 L174.0 217.8 L173.3 218.8 L172.4 219.6 L171.2 220.1 L169.8 220.3 L169.4 221.4 L168.9 222.7 L168.2 223.7 L167.3 224.5 L166.2 225.1 L165.0 225.3 L163.8 225.3 L162.4 224.8 L161.5 225.6 L160.5 226.5 L159.4 227.1 L158.2 227.4 L157.0 227.4 L155.8 227.0 L154.7 226.4 L153.7 225.3 L152.5 225.6 L151.3 225.9 L150.0 225.9 L148.8 225.7 L147.8 225.1 L146.9 224.2 L146.2 223.2 L145.8 221.7 L144.6 221.4 L143.3 221.2 L142.2 220.6 L141.3 219.8 L140.7 218.8 L140.3 217.6 L140.1 216.3 L140.5 214.9 L139.6 214.1 L138.6 213.2 L137.8 212.2 L137.4 211.1 L137.3 209.9 L137.5 208.7 L138.0 207.5 L138.9 206.4 L138.5 205.3 L138.0 204.0 L137.8 202.8 L138.0 201.6 L138.4 200.5 L139.2 199.5 L140.1 198.7 L141.5 198.1 L141.7 196.9 L141.8 195.6 L142.2 194.4 L142.9 193.4 L143.8 192.6 L144.9 192.1 L146.2 191.8 L147.6 192.0 L148.3 191.0 L149.1 189.9 L150.0 189.1 L151.1 188.5 L152.2 188.2 L153.5 188.3 L154.7 188.6 L155.9 189.4 L157.0 188.9 L158.2 188.2 L159.4 187.9 L160.6 187.9 L161.8 188.2 L162.8 188.8 L163.8 189.7 L164.4 191.0 L165.7 191.0 L167.0 191.0 L168.2 191.3 L169.3 191.8 L170.2 192.6 L170.8 193.7 L171.2 194.9 L171.2 196.3 L172.3 196.9 L173.5 197.5 L174.5 198.3 L175.2 199.3 L175.6 200.5 L175.7 201.7 L175.5 202.9 L174.8 204.2 L175.5 205.3 L176.3 206.3 L176.7 207.5Z" fill="#8f5f54"/>
<path d="M240.4 241.0 L240.1 242.1 L239.6 243.2 L238.6 244.2 L238.4 245.2 L238.9 246.5 L239.0 247.7 L238.9 248.8 L238.4 249.9 L237.7 250.8 L236.7 251.5 L235.4 251.9 L234.8 252.8 L234.7 254.1 L234.3 255.3 L233.6 256.2 L232.7 257.0 L231.7 257.4 L230.5 257.7 L229.1 257.5 L228.2 258.0 L227.5 259.2 L226.7 260.0 L225.7 260.6 L224.5 260.9 L223.4 260.9 L222.2 260.6 L221.1 259.8 L220.0 259.9 L218.9 260.7 L217.7 261.1 L216.6 261.1 L215.5 260.9 L214.4 260.4 L213.5 259.6 L212.8 258.4 L211.8 258.0 L210.5 258.2 L209.3 258.1 L208.2 257.6 L207.3 257.0 L206.6 256.0 L206.1 254.9 L205.9 253.6 L205.2 252.8 L203.9 252.4 L202.9 251.7 L202.1 250.9 L201.6 249.9 L201.4 248.7 L201.4 247.5 L201.9 246.2 L201.6 245.2 L200.6 244.3 L199.9 243.3 L199.6 242.1 L199.6 241.0 L199.9 239.9 L200.4 238.8 L201.4 237.8 L201.6 236.8 L201.1 235.5 L201.0 234.3 L201.1 233.2 L201.6 232.1 L202.3 231.2 L203.3 230.5 L204.6 230.1 L205.2 229.2 L205.3 227.9 L205.7 226.7 L206.4 225.8 L207.3 225.0 L208.3 224.6 L209.5 224.3 L210.9 224.5 L211.8 224.0 L212.5 222.8 L213.3 222.0 L214.3 221.4 L215.5 221.1 L216.6 221.1 L217.8 221.4 L218.9 222.2 L220.0 222.1 L221.1 221.3 L222.3 220.9 L223.4 220.9 L224.5 221.1 L225.6 221.6 L226.5 222.4 L227.2 223.6 L228.2 224.0 L229.5 223.8 L230.7 223.9 L231.8 224.4 L232.7 225.0 L233.4 226.0 L233.9 227.1 L234.1 228.4 L234.8 229.2 L236.1 229.6 L237.1 230.3 L237.9 231.1 L238.4 232.1 L238.6 233.3 L238.6 234.5 L238.1 235.8 L238.4 236.8 L239.4 237.7 L240.1 238.7 L240.4 239.9 L240.4 241.0Z" fill="#8a5b51"/>
<ellipse cx="219" cy="236" rx="8.5" ry="7.8" fill="#6a3029"/>
<path d="M272.4 221.0 L271.5 222.1 L270.9 223.2 L271.8 224.5 L272.2 225.7 L272.2 227.0 L271.9 228.1 L271.3 229.2 L270.4 230.1 L269.2 230.8 L268.2 231.5 L268.5 233.0 L268.3 234.3 L267.9 235.5 L267.1 236.4 L266.1 237.1 L265.0 237.6 L263.5 237.7 L262.4 238.0 L262.0 239.5 L261.3 240.6 L260.4 241.5 L259.4 242.1 L258.2 242.3 L256.9 242.3 L255.6 241.8 L254.4 241.6 L253.5 242.8 L252.4 243.6 L251.2 244.0 L250.0 244.0 L248.8 243.8 L247.7 243.2 L246.6 242.3 L245.6 241.6 L244.3 242.3 L243.0 242.6 L241.8 242.5 L240.6 242.1 L239.6 241.3 L238.8 240.4 L238.3 239.1 L237.6 238.0 L236.1 238.2 L234.8 237.9 L233.7 237.3 L232.9 236.4 L232.3 235.4 L231.9 234.1 L231.9 232.7 L231.8 231.5 L230.3 231.0 L229.3 230.2 L228.5 229.2 L228.1 228.1 L227.9 226.9 L228.1 225.6 L228.7 224.4 L229.1 223.2 L228.0 222.2 L227.3 221.0 L227.0 219.8 L227.1 218.6 L227.4 217.4 L228.1 216.4 L229.2 215.4 L230.0 214.5 L229.4 213.1 L229.3 211.8 L229.5 210.6 L230.0 209.5 L230.9 208.6 L231.9 207.9 L233.3 207.5 L234.4 206.9 L234.4 205.4 L234.8 204.1 L235.5 203.1 L236.5 202.4 L237.6 201.9 L238.8 201.6 L240.2 201.8 L241.4 201.8 L242.1 200.4 L243.0 199.4 L244.0 198.8 L245.2 198.5 L246.4 198.4 L247.7 198.8 L248.9 199.5 L250.0 200.0 L251.2 199.0 L252.4 198.4 L253.6 198.3 L254.8 198.5 L255.9 198.9 L256.9 199.7 L257.7 200.9 L258.6 201.8 L260.0 201.3 L261.3 201.4 L262.5 201.7 L263.5 202.4 L264.4 203.3 L265.0 204.4 L265.2 205.8 L265.6 206.9 L267.2 207.1 L268.3 207.7 L269.3 208.5 L270.0 209.5 L270.3 210.6 L270.4 211.9 L270.1 213.3 L270.0 214.5 L271.3 215.3 L272.2 216.3 L272.7 217.4 L272.9 218.6 L272.8 219.8 L272.4 221.0Z" fill="#b27c6e"/>
<path d="M204.1 229.5 L205.4 230.7 L206.0 231.9 L206.2 233.2 L206.1 234.4 L205.6 235.6 L204.9 236.6 L203.8 237.5 L202.3 238.1 L203.0 239.7 L203.0 241.0 L202.7 242.3 L202.1 243.4 L201.2 244.2 L200.1 244.9 L198.7 245.2 L197.1 245.2 L197.1 246.9 L196.6 248.2 L195.8 249.2 L194.8 249.9 L193.6 250.4 L192.4 250.5 L191.0 250.3 L189.5 249.5 L188.8 251.1 L187.8 252.1 L186.7 252.7 L185.5 252.9 L184.2 252.9 L183.0 252.5 L181.8 251.7 L180.8 250.5 L179.5 251.6 L178.2 252.1 L176.9 252.2 L175.7 251.9 L174.6 251.4 L173.6 250.5 L172.9 249.3 L172.5 247.8 L170.8 248.3 L169.4 248.2 L168.2 247.7 L167.2 247.0 L166.4 246.1 L165.9 244.9 L165.7 243.5 L165.9 241.9 L164.2 241.7 L163.0 241.0 L162.1 240.2 L161.5 239.1 L161.1 237.9 L161.1 236.6 L161.5 235.3 L162.4 233.9 L160.9 233.0 L160.0 231.9 L159.6 230.7 L159.4 229.5 L159.6 228.3 L160.1 227.1 L161.0 226.0 L162.4 225.1 L161.4 223.7 L161.0 222.4 L161.1 221.1 L161.5 219.9 L162.1 218.9 L163.1 218.0 L164.3 217.4 L165.9 217.1 L165.6 215.4 L165.8 214.1 L166.4 212.9 L167.2 212.0 L168.3 211.3 L169.5 210.9 L170.9 210.8 L172.5 211.2 L172.8 209.5 L173.6 208.4 L174.6 207.6 L175.7 207.1 L176.9 206.9 L178.2 207.0 L179.5 207.5 L180.8 208.5 L181.8 207.1 L183.0 206.4 L184.2 206.1 L185.5 206.1 L186.7 206.4 L187.8 207.0 L188.8 208.0 L189.5 209.5 L191.0 208.6 L192.4 208.4 L193.7 208.6 L194.8 209.1 L195.8 209.9 L196.5 210.9 L197.0 212.2 L197.1 213.8 L198.8 213.7 L200.2 214.1 L201.2 214.7 L202.1 215.6 L202.6 216.7 L202.9 218.0 L202.8 219.4 L202.3 220.9 L203.9 221.5 L205.0 222.4 L205.7 223.4 L206.1 224.6 L206.1 225.8 L205.9 227.1 L205.2 228.3 L204.1 229.5Z" fill="#b98676"/>
<ellipse cx="185" cy="229.5" rx="9" ry="8.3" fill="#a96a5d"/>
<path d="M239.0 201.0 L239.5 202.2 L239.6 203.5 L239.4 204.7 L238.7 205.9 L237.7 206.9 L236.0 207.7 L236.8 209.1 L237.2 210.6 L237.2 211.9 L236.9 213.1 L236.2 214.2 L235.2 215.1 L233.9 215.7 L232.0 215.8 L232.2 217.4 L232.1 218.9 L231.6 220.1 L230.9 221.1 L229.8 221.9 L228.6 222.3 L227.2 222.4 L225.4 221.8 L225.0 223.4 L224.3 224.8 L223.4 225.7 L222.3 226.4 L221.1 226.7 L219.8 226.7 L218.4 226.2 L217.0 225.1 L216.0 226.4 L214.9 227.4 L213.7 228.0 L212.5 228.2 L211.2 228.1 L210.0 227.6 L208.9 226.7 L208.0 225.1 L206.6 226.0 L205.2 226.5 L203.9 226.6 L202.7 226.4 L201.5 225.8 L200.6 224.9 L199.9 223.6 L199.6 221.8 L198.0 222.2 L196.5 222.2 L195.2 221.8 L194.1 221.1 L193.3 220.2 L192.8 219.0 L192.6 217.6 L193.0 215.8 L191.3 215.5 L189.9 215.0 L188.9 214.2 L188.1 213.1 L187.7 212.0 L187.6 210.6 L187.9 209.2 L189.0 207.7 L187.5 206.9 L186.4 205.9 L185.7 204.7 L185.4 203.5 L185.4 202.3 L185.8 201.0 L186.6 199.8 L188.1 198.7 L187.1 197.5 L186.4 196.1 L186.2 194.8 L186.3 193.5 L186.8 192.4 L187.6 191.4 L188.8 190.5 L190.6 190.1 L190.1 188.5 L189.9 187.0 L190.2 185.7 L190.8 184.6 L191.6 183.7 L192.8 183.0 L194.2 182.7 L196.0 182.9 L196.1 181.3 L196.5 179.8 L197.2 178.7 L198.2 177.8 L199.3 177.3 L200.6 177.1 L202.0 177.3 L203.7 178.2 L204.4 176.7 L205.2 175.5 L206.3 174.7 L207.5 174.2 L208.8 174.1 L210.0 174.4 L211.3 175.1 L212.5 176.5 L213.7 175.4 L214.9 174.6 L216.2 174.2 L217.5 174.2 L218.7 174.6 L219.8 175.3 L220.7 176.4 L221.3 178.2 L222.9 177.5 L224.3 177.2 L225.7 177.4 L226.8 177.8 L227.8 178.6 L228.6 179.7 L229.1 181.1 L229.0 182.9 L230.6 182.9 L232.1 183.1 L233.3 183.7 L234.2 184.6 L234.9 185.7 L235.2 186.9 L235.1 188.4 L234.4 190.1 L236.0 190.6 L237.2 191.4 L238.1 192.4 L238.7 193.5 L238.9 194.8 L238.7 196.1 L238.2 197.4 L236.9 198.7 L238.1 199.8 L239.0 201.0Z" fill="#cf9e93"/>
<g opacity="1.0"><circle cx="163.5" cy="206.5" r="13.3" fill="#e6daf4" opacity="0.22"/>
<path d="M171.1 206.4L176.5 206.4M170.8 208.6L175.7 210.0M170.4 209.6L175.4 211.8M169.9 210.7L174.3 213.5M168.5 212.3L172.4 216.8M167.7 212.8L170.3 216.7M166.3 213.6L168.6 219.2M164.1 214.1L164.3 218.0M162.1 214.0L160.9 220.4M161.0 213.7L159.1 218.9M160.1 213.3L158.3 216.7M158.4 212.1L155.7 215.1M157.6 211.3L154.1 214.1M156.8 210.1L152.3 212.5M156.1 208.2L150.0 209.5M155.9 206.5L150.3 206.5M156.1 204.9L150.5 203.7M156.5 203.5L152.3 201.6M157.7 201.6L152.7 197.2M158.7 200.6L155.1 196.1M159.5 200.0L157.2 196.2M160.9 199.4L159.5 195.6M163.0 198.9L162.7 194.0M164.7 199.0L165.5 194.2M166.4 199.5L168.7 193.7M166.8 199.6L168.7 195.7M168.9 201.2L172.6 197.6M170.0 202.5L174.2 199.9M170.2 202.9L175.2 200.3M171.0 205.3L175.5 204.5" stroke="#b896e0" stroke-width="0.6" fill="none" opacity="0.8"/>
<path d="M173.3 206.5 L171.3 207.4 L174.0 209.1 L171.2 209.4 L172.2 211.0 L169.9 210.9 L170.8 213.0 L168.5 212.2 L169.5 215.2 L167.1 213.3 L167.2 216.2 L165.4 214.2 L164.7 216.3 L163.5 214.7 L162.3 216.2 L161.6 214.4 L160.0 215.7 L159.8 213.5 L157.9 214.7 L158.4 212.3 L155.4 213.7 L156.7 211.2 L154.6 211.2 L155.7 209.5 L153.9 208.9 L155.7 207.4 L152.8 206.5 L155.4 205.5 L154.0 204.2 L155.6 203.5 L154.7 201.9 L157.1 202.1 L155.6 199.5 L158.3 200.6 L157.8 198.3 L160.0 199.8 L160.0 197.4 L161.6 198.7 L162.3 196.6 L163.5 198.4 L164.7 196.5 L165.4 198.8 L167.3 196.4 L167.2 199.4 L169.4 198.0 L169.0 200.3 L170.9 200.0 L169.8 202.2 L173.0 201.5 L171.2 203.6 L173.2 204.1 L171.1 205.6Z" fill="url(#npg)"/>
<circle cx="163.0" cy="198.4" r="0.6" fill="#cbaaec"/><circle cx="168.3" cy="202.1" r="0.7" fill="#6a3cb6"/><circle cx="168.1" cy="210.3" r="0.6" fill="#b486dc"/><circle cx="162.3" cy="202.4" r="0.9" fill="#6438ae"/><circle cx="157.5" cy="206.8" r="0.9" fill="#6a3cb6"/><circle cx="167.6" cy="210.6" r="0.8" fill="#6438ae"/><circle cx="160.2" cy="203.6" r="0.9" fill="#bc94e6"/><circle cx="163.5" cy="204.3" r="0.7" fill="#bc94e6"/><circle cx="166.8" cy="207.8" r="0.7" fill="#6438ae"/><circle cx="166.0" cy="206.1" r="0.6" fill="#cbaaec"/><circle cx="170.2" cy="205.7" r="0.8" fill="#6438ae"/><circle cx="169.6" cy="204.4" r="0.9" fill="#cbaaec"/><circle cx="169.4" cy="202.8" r="0.9" fill="#6a3cb6"/><circle cx="161.6" cy="205.2" r="0.5" fill="#7646c0"/><circle cx="160.0" cy="214.1" r="0.5" fill="#6438ae"/><circle cx="162.3" cy="207.8" r="0.9" fill="#b486dc"/><circle cx="161.4" cy="199.4" r="0.9" fill="#7646c0"/><circle cx="168.5" cy="209.4" r="0.5" fill="#7a4cc4"/><circle cx="157.1" cy="210.2" r="0.9" fill="#6438ae"/><circle cx="170.3" cy="207.1" r="0.7" fill="#6a3cb6"/><circle cx="161.7" cy="205.0" r="0.8" fill="#7646c0"/><circle cx="168.7" cy="201.6" r="0.7" fill="#b486dc"/><circle cx="161.6" cy="201.2" r="0.7" fill="#6438ae"/><circle cx="169.8" cy="210.1" r="0.5" fill="#6438ae"/>
</g>
<g opacity="1.0"><circle cx="209.5" cy="203.5" r="16.1" fill="#e6daf4" opacity="0.22"/>
<path d="M218.7 203.5L225.6 203.4M218.4 205.7L223.4 206.8M218.2 206.6L223.7 208.5M217.1 208.6L223.3 212.8M215.4 210.5L219.8 215.6M214.0 211.5L217.4 217.5M212.8 212.1L215.1 217.8M211.0 212.6L212.2 220.2M209.2 212.7L208.9 220.1M207.3 212.4L205.6 219.2M205.1 211.6L202.2 216.9M203.0 210.0L199.7 213.3M202.5 209.4L196.5 214.4M201.1 207.2L196.6 209.2M200.4 204.7L192.6 205.7M200.3 204.1L194.3 204.4M200.4 202.1L194.8 201.3M201.2 199.6L196.5 197.4M202.2 197.9L198.5 194.9M203.0 197.0L197.7 191.8M204.8 195.6L201.7 190.4M206.8 194.7L205.0 188.7M208.4 194.4L207.8 189.7M210.8 194.4L211.9 186.5M213.0 195.0L215.6 188.6M213.9 195.4L216.7 190.3M215.9 196.9L220.6 191.9M216.6 197.6L220.8 194.2M217.8 199.6L223.6 196.9M218.6 202.0L224.8 201.0" stroke="#b896e0" stroke-width="0.6" fill="none" opacity="0.8"/>
<path d="M221.2 203.5 L219.5 204.7 L221.5 206.4 L218.6 206.9 L220.1 209.1 L217.4 208.9 L218.7 211.6 L216.1 211.0 L216.2 213.2 L214.0 212.1 L213.7 214.7 L211.9 213.1 L210.9 215.1 L209.5 212.9 L208.0 215.6 L207.2 213.0 L205.3 214.5 L205.0 212.0 L202.7 213.4 L203.3 210.5 L200.2 211.7 L201.1 209.3 L198.5 209.3 L200.0 207.1 L197.9 206.4 L199.4 204.7 L197.3 203.5 L200.3 202.4 L197.1 200.4 L200.0 199.9 L199.2 198.1 L201.8 198.2 L199.9 195.0 L203.2 196.4 L202.7 193.6 L205.3 195.5 L205.3 192.5 L207.2 194.0 L207.9 190.5 L209.5 193.3 L211.0 191.2 L211.7 194.7 L213.8 192.1 L214.1 194.7 L216.8 192.9 L216.0 196.1 L218.5 195.5 L217.5 198.0 L220.5 197.7 L218.7 200.0 L221.2 200.6 L219.6 202.3Z" fill="url(#npg)"/>
<circle cx="212.7" cy="201.0" r="0.6" fill="#7a4cc4"/><circle cx="215.1" cy="205.2" r="0.9" fill="#b486dc"/><circle cx="206.7" cy="195.5" r="0.6" fill="#7646c0"/><circle cx="207.8" cy="203.3" r="0.5" fill="#6a3cb6"/><circle cx="215.9" cy="210.5" r="0.7" fill="#bc94e6"/><circle cx="211.6" cy="210.1" r="0.5" fill="#6438ae"/><circle cx="202.6" cy="196.6" r="0.9" fill="#7a4cc4"/><circle cx="215.9" cy="205.1" r="0.5" fill="#cbaaec"/><circle cx="211.4" cy="196.0" r="0.7" fill="#7646c0"/><circle cx="205.4" cy="198.7" r="0.6" fill="#b486dc"/><circle cx="207.1" cy="194.2" r="0.9" fill="#6a3cb6"/><circle cx="215.8" cy="199.6" r="0.9" fill="#cbaaec"/><circle cx="211.7" cy="195.3" r="0.6" fill="#7646c0"/><circle cx="217.2" cy="200.1" r="0.7" fill="#6438ae"/><circle cx="205.9" cy="200.5" r="0.8" fill="#b486dc"/><circle cx="205.6" cy="206.6" r="0.7" fill="#7646c0"/><circle cx="214.6" cy="206.4" r="0.8" fill="#b486dc"/><circle cx="206.3" cy="211.3" r="0.8" fill="#b486dc"/><circle cx="205.1" cy="198.4" r="0.6" fill="#bc94e6"/><circle cx="202.8" cy="204.0" r="0.6" fill="#b486dc"/><circle cx="203.8" cy="199.7" r="0.9" fill="#6a3cb6"/><circle cx="210.3" cy="203.2" r="0.7" fill="#7646c0"/><circle cx="214.4" cy="196.7" r="0.6" fill="#6438ae"/><circle cx="215.8" cy="200.0" r="0.8" fill="#bc94e6"/><circle cx="203.2" cy="203.5" r="0.7" fill="#b486dc"/><circle cx="209.5" cy="210.4" r="0.9" fill="#7a4cc4"/><circle cx="210.4" cy="197.1" r="0.8" fill="#7a4cc4"/><circle cx="202.9" cy="208.6" r="0.8" fill="#6a3cb6"/><circle cx="201.6" cy="200.7" r="0.7" fill="#b486dc"/>
</g>
<g opacity="1.0"><circle cx="248" cy="226" r="14.0" fill="#e6daf4" opacity="0.22"/>
<path d="M256.0 225.7L262.0 225.5M255.8 227.9L262.1 229.4M255.5 228.9L259.8 230.6M254.7 230.3L258.7 232.9M253.1 232.1L255.9 235.5M252.0 232.9L254.3 237.0M250.7 233.5L252.5 238.5M248.4 234.0L248.7 239.8M247.8 234.0L247.7 238.8M246.0 233.7L244.3 240.1M243.7 232.7L240.2 238.1M242.3 231.7L237.9 236.1M241.2 230.2L235.8 233.6M240.8 229.5L234.9 232.4M240.2 227.7L234.1 229.0M240.0 225.9L234.7 225.9M240.1 224.5L234.9 223.5M240.6 223.0L236.6 221.3M241.8 221.0L236.8 217.0M243.1 219.7L239.4 214.8M244.1 219.0L241.0 213.6M245.1 218.5L242.9 212.9M247.1 218.1L246.6 213.6M248.5 218.0L248.8 212.5M250.2 218.3L251.6 213.1M252.1 219.1L254.8 214.7M253.0 219.7L256.4 215.5M254.3 221.0L258.0 218.1M255.1 222.4L259.7 220.1M255.7 223.8L261.4 222.2" stroke="#b896e0" stroke-width="0.6" fill="none" opacity="0.8"/>
<path d="M259.4 226.0 L256.2 227.0 L258.8 228.7 L256.3 229.1 L257.0 230.7 L254.6 230.6 L256.4 233.4 L253.8 232.5 L254.2 235.0 L251.7 233.1 L251.8 236.0 L250.1 234.5 L249.4 237.2 L248.0 234.7 L246.7 236.3 L245.9 234.5 L244.2 235.9 L244.0 233.6 L242.1 234.5 L242.1 232.6 L239.8 233.3 L240.9 230.9 L238.8 230.8 L240.0 229.0 L237.4 228.6 L239.6 227.0 L237.4 226.0 L239.4 225.0 L237.7 223.5 L240.3 223.1 L238.8 221.2 L240.9 221.1 L240.3 219.2 L242.6 219.9 L242.2 217.6 L244.0 218.4 L244.1 215.8 L246.0 217.8 L246.8 215.9 L248.0 217.7 L249.3 215.5 L249.9 218.2 L251.6 216.5 L252.1 218.1 L253.9 217.5 L253.4 219.9 L255.9 219.0 L255.0 221.2 L257.1 221.2 L255.8 223.0 L258.3 223.5 L256.7 224.9Z" fill="url(#npg)"/>
<circle cx="253.1" cy="226.2" r="0.7" fill="#6438ae"/><circle cx="242.0" cy="225.4" r="0.8" fill="#7646c0"/><circle cx="249.6" cy="220.9" r="0.8" fill="#bc94e6"/><circle cx="247.7" cy="221.5" r="0.8" fill="#7a4cc4"/><circle cx="249.2" cy="231.6" r="0.6" fill="#7a4cc4"/><circle cx="248.2" cy="230.7" r="0.6" fill="#7646c0"/><circle cx="243.6" cy="228.2" r="0.7" fill="#6a3cb6"/><circle cx="248.3" cy="219.2" r="0.5" fill="#7a4cc4"/><circle cx="246.0" cy="231.5" r="0.9" fill="#cbaaec"/><circle cx="245.6" cy="230.1" r="0.7" fill="#bc94e6"/><circle cx="249.2" cy="227.6" r="0.7" fill="#bc94e6"/><circle cx="249.0" cy="230.8" r="0.7" fill="#6a3cb6"/><circle cx="246.4" cy="228.3" r="0.7" fill="#6438ae"/><circle cx="254.2" cy="219.9" r="0.5" fill="#6438ae"/><circle cx="245.6" cy="234.3" r="0.5" fill="#bc94e6"/><circle cx="253.1" cy="221.9" r="0.6" fill="#6a3cb6"/><circle cx="254.6" cy="220.8" r="0.8" fill="#6a3cb6"/><circle cx="242.7" cy="226.7" r="0.7" fill="#7a4cc4"/><circle cx="248.8" cy="224.3" r="0.6" fill="#7a4cc4"/><circle cx="253.8" cy="223.5" r="0.9" fill="#cbaaec"/><circle cx="249.9" cy="231.2" r="0.5" fill="#6438ae"/><circle cx="250.4" cy="224.2" r="0.6" fill="#6438ae"/><circle cx="248.3" cy="220.7" r="0.7" fill="#bc94e6"/><circle cx="252.7" cy="224.9" r="0.5" fill="#6a3cb6"/><circle cx="251.3" cy="224.5" r="0.5" fill="#6438ae"/><circle cx="246.3" cy="218.0" r="0.9" fill="#7a4cc4"/>
</g>
<path d="M186 99.5 C215 106 250 117 272 122 C295 127 312 128.5 323 130.5 C333 133 337.5 142 337 155 C336.5 172 334 188 321 193.5 C313 196 299 192 283 186.5 C262 180.5 247 176 234 169 C218 160 196 145 183 137 C174 131.5 168 128 162 124.5 C160 112 172 101 186 99.5Z" fill="url(#lumen)" stroke="#dd8f92" stroke-width="0.9"/>
<path d="M190 104 C225 113 262 124 322 136" fill="none" stroke="#e6a3a3" stroke-width="0.8"/>
<path d="M167 125.5 C190 139 214 157 238 168 C268 179 298 189 318 190.5" fill="none" stroke="#e09a9c" stroke-width="0.8"/>
<path d="M122.5 86.6 C140 88.2 165 93.5 187 99.5 C176 102 163 113 162 124.5 C150 119.5 135 113 123.5 108.6 C125.5 101 125 93 122.5 86.6Z" fill="url(#tube)"/>
<path d="M187 99.5 C176 101 162.5 112 162 124.5 C164.5 126 167 124 168.5 121 C170 112 179 104 189.5 102 C191 100.5 189.5 99.5 187 99.5Z" fill="#e8a3a6" stroke="#c9606c" stroke-width="0.7"/>
<path d="M189 101.5 C179 104 169.5 113 168 123.5 C176 130 189 124 193.5 112 C195 107 194 102.5 189 101.5Z" fill="url(#ringin)"/>
<g transform="translate(218,120) rotate(20)"><ellipse rx="8.5" ry="5.8" fill="#efb2a2"/><ellipse cx="0.6" cy="0.8" rx="7.0" ry="4.5" fill="url(#rbcg)"/></g>
<g transform="translate(235.8,146.8) rotate(18)"><ellipse rx="9.5" ry="6.8" fill="#efb2a2"/><ellipse cx="0.6" cy="0.8" rx="7.8" ry="5.3" fill="url(#rbcg)"/></g>
<g transform="translate(272,142) rotate(40)"><ellipse rx="8.6" ry="6.4" fill="#efb2a2"/><ellipse cx="0.6" cy="0.8" rx="7.1" ry="5.0" fill="url(#rbcg)"/></g>
<g transform="translate(309,149.5) rotate(25)"><ellipse rx="8.6" ry="6.2" fill="#efb2a2"/><ellipse cx="0.6" cy="0.8" rx="7.1" ry="4.8" fill="url(#rbcg)"/></g>
<g transform="translate(309.5,177) rotate(20)"><ellipse rx="10" ry="6.6" fill="#efb2a2"/><ellipse cx="0.6" cy="0.8" rx="8.2" ry="5.1" fill="url(#rbcg)"/></g>
<g opacity="0.9"><circle cx="183.5" cy="118" r="9.8" fill="#e6daf4" opacity="0.22"/>
<path d="M189.1 117.7L193.3 117.5M189.0 119.3L192.7 120.2M188.7 120.0L192.9 121.7M187.9 121.5L190.9 123.9M187.2 122.2L189.4 124.6M186.7 122.6L188.7 125.6M185.2 123.3L186.0 126.2M183.8 123.6L184.0 126.9M183.2 123.6L183.0 126.5M181.4 123.2L179.7 127.2M180.4 122.7L178.2 126.1M180.1 122.4L177.9 125.2M179.0 121.3L176.5 123.1M178.2 119.9L174.9 121.1M178.1 119.5L173.7 120.6M177.9 118.3L173.2 118.6M178.0 116.9L174.1 116.1M178.3 115.9L174.8 114.4M178.8 114.9L176.4 113.4M180.0 113.6L177.9 111.1M180.9 113.0L179.4 110.2M182.2 112.6L181.1 108.0M183.1 112.4L182.9 108.0M184.2 112.4L184.7 108.1M184.9 112.6L185.9 108.9M186.5 113.3L188.3 110.6M187.5 114.1L190.9 110.9M188.0 114.6L190.8 112.5M188.6 115.7L191.9 114.2M189.1 117.3L192.6 116.8" stroke="#b896e0" stroke-width="0.6" fill="none" opacity="0.8"/>
<path d="M190.6 118.0 L189.1 118.7 L191.0 119.9 L189.3 120.2 L190.2 121.5 L188.3 121.3 L189.2 123.0 L187.5 122.5 L187.7 124.0 L186.3 123.3 L186.2 125.1 L184.9 123.8 L184.4 125.2 L183.5 123.6 L182.6 125.4 L182.0 124.0 L180.9 124.9 L180.7 123.3 L179.3 124.1 L179.8 122.2 L178.1 122.8 L178.5 121.5 L176.6 121.6 L178.1 120.1 L176.0 119.8 L177.5 118.7 L175.6 118.0 L177.3 117.3 L176.2 116.2 L177.7 115.8 L176.4 114.3 L178.6 114.6 L177.6 112.8 L179.6 113.6 L179.3 111.9 L180.9 113.0 L180.7 110.6 L182.1 112.5 L182.6 110.9 L183.5 111.9 L184.4 110.2 L184.9 112.3 L186.3 110.6 L186.1 113.1 L187.7 112.0 L187.3 113.7 L189.1 113.0 L188.1 114.8 L189.8 114.7 L188.9 116.0 L191.2 116.1 L189.7 117.3Z" fill="url(#npg)"/>
<circle cx="183.4" cy="113.7" r="0.6" fill="#b486dc"/><circle cx="178.3" cy="117.2" r="0.5" fill="#bc94e6"/><circle cx="186.5" cy="115.8" r="0.6" fill="#7646c0"/><circle cx="180.3" cy="115.6" r="0.8" fill="#7a4cc4"/><circle cx="181.2" cy="118.3" r="0.8" fill="#bc94e6"/><circle cx="183.6" cy="117.4" r="0.8" fill="#b486dc"/><circle cx="188.2" cy="118.7" r="0.8" fill="#7a4cc4"/><circle cx="187.3" cy="116.9" r="0.8" fill="#7a4cc4"/><circle cx="189.2" cy="116.5" r="0.6" fill="#6a3cb6"/><circle cx="181.4" cy="119.6" r="0.8" fill="#7a4cc4"/><circle cx="187.1" cy="122.4" r="0.8" fill="#bc94e6"/><circle cx="181.5" cy="123.6" r="0.7" fill="#bc94e6"/><circle cx="181.6" cy="116.2" r="0.9" fill="#bc94e6"/><circle cx="182.4" cy="113.6" r="0.5" fill="#b486dc"/><circle cx="178.2" cy="117.8" r="0.5" fill="#6a3cb6"/><circle cx="179.1" cy="121.7" r="0.7" fill="#6438ae"/><circle cx="185.9" cy="122.6" r="0.6" fill="#b486dc"/><circle cx="179.3" cy="114.7" r="0.6" fill="#bc94e6"/>
</g>
<g opacity="1.0"><circle cx="212" cy="136.8" r="11.2" fill="#e6daf4" opacity="0.22"/>
<path d="M218.4 137.3L221.9 137.5M218.3 137.7L223.9 138.4M218.0 139.1L221.2 140.4M217.1 140.7L220.3 143.1M216.0 141.8L218.3 144.8M214.8 142.6L216.5 146.1M213.9 142.9L215.5 148.1M212.5 143.2L212.9 148.6M211.1 143.1L210.7 146.4M209.7 142.8L208.0 147.0M209.0 142.4L207.2 145.7M207.5 141.3L204.2 144.5M206.6 140.2L202.3 142.9M206.0 139.0L201.7 140.5M205.7 137.9L201.1 138.8M205.6 137.0L200.1 137.3M205.7 135.7L200.7 134.8M206.4 133.8L202.2 131.5M206.6 133.3L202.3 130.5M207.8 131.9L205.5 129.2M208.4 131.5L205.9 127.8M209.6 130.9L207.5 125.9M211.3 130.4L210.9 126.0M212.6 130.4L213.0 125.7M214.4 130.9L215.8 127.2M215.1 131.2L217.3 127.2M216.1 131.9L219.1 128.4M217.2 133.1L220.7 130.6M217.9 134.4L222.0 132.7M218.2 135.1L223.5 133.5" stroke="#b896e0" stroke-width="0.6" fill="none" opacity="0.8"/>
<path d="M220.5 136.8 L218.6 137.6 L220.3 138.8 L218.6 139.3 L220.1 141.0 L217.5 140.6 L218.4 142.5 L216.2 141.6 L217.1 144.2 L215.0 142.5 L215.1 144.9 L213.6 143.2 L213.0 145.2 L212.0 143.4 L211.0 145.1 L210.5 143.0 L208.9 144.9 L208.8 143.0 L207.0 144.0 L207.7 141.6 L205.4 142.7 L206.8 140.4 L204.4 140.8 L205.5 139.3 L203.2 139.0 L205.4 137.6 L203.0 136.8 L205.3 136.0 L203.6 134.7 L205.7 134.4 L203.9 132.5 L206.3 132.9 L205.6 131.1 L207.4 131.6 L207.0 129.6 L208.9 131.0 L208.8 128.4 L210.3 130.0 L210.9 128.1 L212.0 129.7 L213.0 128.7 L213.6 130.3 L215.1 128.6 L215.1 131.0 L216.7 130.0 L216.6 131.7 L218.4 131.1 L217.4 133.1 L219.2 133.0 L218.6 134.3 L220.2 134.8 L218.4 136.0Z" fill="url(#npg)"/>
<circle cx="212.7" cy="140.3" r="0.9" fill="#bc94e6"/><circle cx="218.0" cy="137.7" r="0.8" fill="#6438ae"/><circle cx="213.1" cy="140.8" r="0.8" fill="#6438ae"/><circle cx="212.7" cy="135.6" r="0.7" fill="#7a4cc4"/><circle cx="209.7" cy="134.6" r="0.8" fill="#b486dc"/><circle cx="207.5" cy="140.9" r="0.8" fill="#cbaaec"/><circle cx="211.8" cy="143.4" r="0.6" fill="#6a3cb6"/><circle cx="216.8" cy="134.6" r="0.6" fill="#b486dc"/><circle cx="211.5" cy="137.9" r="0.6" fill="#7646c0"/><circle cx="216.7" cy="138.1" r="0.5" fill="#7a4cc4"/><circle cx="212.4" cy="133.6" r="0.9" fill="#cbaaec"/><circle cx="213.9" cy="134.0" r="0.7" fill="#bc94e6"/><circle cx="209.8" cy="139.6" r="0.9" fill="#b486dc"/><circle cx="216.3" cy="137.0" r="0.8" fill="#bc94e6"/><circle cx="215.9" cy="131.1" r="0.8" fill="#b486dc"/><circle cx="207.8" cy="141.7" r="0.7" fill="#bc94e6"/><circle cx="211.7" cy="141.9" r="0.7" fill="#7a4cc4"/><circle cx="206.1" cy="136.4" r="0.9" fill="#6438ae"/><circle cx="213.6" cy="141.0" r="0.9" fill="#7a4cc4"/><circle cx="217.1" cy="139.5" r="0.7" fill="#b486dc"/>
</g>
<g opacity="1.0"><circle cx="247.8" cy="130.7" r="11.2" fill="#e6daf4" opacity="0.22"/>
<path d="M254.2 131.1L259.6 131.5M254.0 132.4L257.2 133.3M253.6 133.4L257.4 135.2M253.0 134.5L255.8 136.6M252.3 135.2L255.3 138.3M251.2 136.1L253.6 139.7M250.2 136.6L251.5 139.8M248.3 137.1L248.6 141.3M247.1 137.1L246.6 142.0M246.0 136.8L245.0 140.0M244.4 136.1L241.9 140.0M243.4 135.3L240.2 138.8M242.4 134.1L238.9 136.2M241.9 133.1L238.1 134.6M241.5 132.0L236.8 132.9M241.4 130.9L238.0 131.0M241.5 129.4L236.7 128.4M242.0 128.0L238.1 126.2M242.7 126.8L239.8 124.6M243.3 126.2L240.5 123.4M244.9 125.0L243.2 121.7M245.5 124.7L244.2 121.6M246.7 124.4L246.0 120.6M248.5 124.3L249.1 119.2M249.6 124.6L250.8 120.6M250.8 125.1L252.7 121.6M252.3 126.1L255.5 122.9M252.8 126.7L255.5 124.6M253.8 128.4L258.3 126.6M254.1 129.7L257.8 129.1" stroke="#b896e0" stroke-width="0.6" fill="none" opacity="0.8"/>
<path d="M256.5 130.7 L254.8 131.6 L256.3 132.8 L254.4 133.2 L255.1 134.6 L253.6 134.7 L253.9 136.1 L252.2 135.7 L252.4 137.4 L251.0 136.9 L250.9 139.0 L249.5 137.6 L248.9 139.6 L247.8 137.8 L246.8 139.3 L246.1 137.6 L244.6 139.0 L244.7 136.5 L242.6 138.2 L243.4 135.7 L241.6 136.2 L242.6 134.3 L240.2 134.7 L241.7 133.0 L239.0 132.9 L240.8 131.6 L239.5 130.7 L241.4 129.9 L239.4 128.6 L241.8 128.4 L240.1 126.7 L242.1 126.7 L241.5 125.1 L243.4 125.7 L242.7 123.2 L244.7 124.8 L244.8 122.8 L246.1 123.9 L246.7 121.8 L247.8 123.7 L248.9 121.9 L249.4 124.2 L250.9 122.4 L251.0 124.5 L252.8 123.5 L252.1 125.8 L254.1 125.1 L253.3 126.9 L255.7 126.6 L254.1 128.3 L256.2 128.6 L254.7 129.9Z" fill="url(#npg)"/>
<circle cx="252.1" cy="134.2" r="0.6" fill="#6438ae"/><circle cx="247.2" cy="126.1" r="0.6" fill="#b486dc"/><circle cx="252.4" cy="133.2" r="0.7" fill="#bc94e6"/><circle cx="253.0" cy="126.2" r="0.9" fill="#b486dc"/><circle cx="247.2" cy="134.8" r="0.5" fill="#bc94e6"/><circle cx="247.8" cy="126.2" r="0.9" fill="#6a3cb6"/><circle cx="250.0" cy="134.9" r="0.7" fill="#6a3cb6"/><circle cx="244.6" cy="132.5" r="0.8" fill="#6438ae"/><circle cx="247.3" cy="127.8" r="0.7" fill="#7646c0"/><circle cx="249.5" cy="129.5" r="0.9" fill="#7a4cc4"/><circle cx="251.1" cy="127.9" r="0.5" fill="#cbaaec"/><circle cx="244.8" cy="128.4" r="0.6" fill="#7646c0"/><circle cx="249.0" cy="127.2" r="0.9" fill="#bc94e6"/><circle cx="244.3" cy="133.7" r="0.9" fill="#cbaaec"/><circle cx="248.0" cy="124.1" r="0.7" fill="#b486dc"/><circle cx="250.6" cy="132.4" r="0.6" fill="#7a4cc4"/><circle cx="250.4" cy="134.1" r="0.8" fill="#6a3cb6"/><circle cx="246.7" cy="136.8" r="0.5" fill="#6a3cb6"/><circle cx="247.4" cy="137.2" r="0.6" fill="#6438ae"/><circle cx="246.8" cy="129.6" r="0.9" fill="#7646c0"/>
</g>
<g opacity="1.0"><circle cx="223" cy="164.5" r="13.3" fill="#e6daf4" opacity="0.22"/>
<path d="M230.6 164.8L236.8 165.0M230.5 165.7L237.1 166.8M230.1 167.2L235.4 169.3M229.4 168.6L234.5 171.7M228.4 169.9L232.5 174.0M226.6 171.2L229.4 176.5M225.4 171.7L227.4 177.6M223.2 172.1L223.3 176.2M222.2 172.1L221.5 178.5M220.4 171.6L218.6 176.4M219.4 171.2L216.3 176.9M218.3 170.5L214.6 175.2M216.6 168.6L213.0 170.9M216.1 167.8L211.9 169.8M215.6 166.0L210.8 167.0M215.4 164.0L209.0 163.6M215.5 163.1L209.3 162.0M215.9 161.9L212.0 160.5M217.0 159.9L212.2 156.2M218.2 158.6L214.0 153.5M219.6 157.7L217.5 153.6M220.9 157.2L219.2 151.0M221.7 157.0L220.8 151.9M223.4 156.9L223.6 152.7M225.3 157.3L227.1 151.8M227.3 158.2L229.6 154.8M228.1 158.9L232.5 153.9M229.3 160.3L233.8 157.4M229.8 161.1L234.8 158.6M230.4 162.6L235.8 161.3" stroke="#b896e0" stroke-width="0.6" fill="none" opacity="0.8"/>
<path d="M233.4 164.5 L230.8 165.4 L233.3 167.0 L230.4 167.3 L232.1 169.3 L229.8 169.2 L230.4 171.1 L228.1 170.2 L228.9 173.0 L226.7 171.5 L226.8 174.5 L224.9 172.0 L224.2 174.5 L223.0 172.1 L221.8 174.6 L221.1 172.1 L219.4 174.0 L219.2 171.8 L217.5 172.5 L217.4 170.8 L215.1 171.5 L216.2 169.2 L213.9 169.3 L215.5 167.4 L213.1 166.9 L215.2 165.4 L213.1 164.5 L215.3 163.6 L213.3 162.1 L215.7 161.7 L213.5 159.5 L216.2 159.8 L215.2 157.6 L218.0 158.9 L217.3 156.3 L219.3 157.4 L219.3 154.7 L221.1 156.8 L221.7 154.2 L223.0 156.1 L224.2 154.6 L224.9 156.9 L226.8 154.6 L226.6 157.6 L229.0 155.8 L228.2 158.6 L230.2 158.1 L229.5 160.0 L231.6 160.0 L230.7 161.6 L233.4 161.9 L230.9 163.5Z" fill="url(#npg)"/>
<circle cx="226.1" cy="162.2" r="0.7" fill="#bc94e6"/><circle cx="224.3" cy="162.0" r="0.5" fill="#bc94e6"/><circle cx="228.7" cy="162.0" r="0.8" fill="#6a3cb6"/><circle cx="225.0" cy="168.9" r="0.6" fill="#7a4cc4"/><circle cx="224.3" cy="167.4" r="0.7" fill="#6a3cb6"/><circle cx="218.0" cy="161.0" r="0.7" fill="#7646c0"/><circle cx="222.8" cy="171.3" r="0.7" fill="#b486dc"/><circle cx="217.2" cy="170.0" r="0.8" fill="#b486dc"/><circle cx="225.4" cy="160.3" r="0.6" fill="#bc94e6"/><circle cx="225.3" cy="169.5" r="0.7" fill="#7a4cc4"/><circle cx="226.9" cy="159.1" r="0.6" fill="#6a3cb6"/><circle cx="220.5" cy="171.3" r="0.8" fill="#bc94e6"/><circle cx="228.0" cy="161.7" r="0.6" fill="#cbaaec"/><circle cx="229.2" cy="163.7" r="0.7" fill="#7646c0"/><circle cx="228.6" cy="164.2" r="0.9" fill="#7a4cc4"/><circle cx="226.3" cy="165.5" r="0.9" fill="#b486dc"/><circle cx="223.4" cy="163.7" r="0.6" fill="#cbaaec"/><circle cx="219.9" cy="158.0" r="0.6" fill="#7646c0"/><circle cx="222.6" cy="169.0" r="0.7" fill="#7646c0"/><circle cx="226.8" cy="163.0" r="0.8" fill="#6438ae"/><circle cx="221.9" cy="168.3" r="0.9" fill="#7a4cc4"/><circle cx="226.4" cy="157.1" r="0.7" fill="#7646c0"/><circle cx="227.5" cy="166.8" r="0.9" fill="#cbaaec"/><circle cx="219.5" cy="168.9" r="0.8" fill="#bc94e6"/>
</g>
<g opacity="1.0"><circle cx="279" cy="164.5" r="13.3" fill="#e6daf4" opacity="0.22"/>
<path d="M286.6 164.4L293.0 164.2M286.3 166.5L290.6 167.6M285.7 168.0L290.7 170.6M285.5 168.5L291.0 171.9M284.3 169.9L287.6 173.3M282.9 171.0L285.7 175.7M281.8 171.6L283.9 176.9M279.4 172.1L279.7 177.3M277.9 172.0L277.0 177.5M276.3 171.6L274.7 175.6M275.3 171.2L272.9 175.7M274.3 170.5L270.2 175.6M272.8 168.8L269.4 171.2M272.0 167.5L267.4 169.5M271.7 166.4L267.5 167.5M271.4 164.5L267.4 164.6M271.6 162.8L266.4 161.7M271.9 161.8L266.0 159.6M272.5 160.5L268.9 158.2M274.2 158.6L271.4 155.2M275.1 158.0L272.4 153.3M276.6 157.3L274.9 152.4M278.2 156.9L277.7 151.8M279.3 156.9L279.5 150.8M281.1 157.2L282.2 153.4M282.7 157.9L285.7 152.5M284.2 159.0L287.7 155.2M285.1 160.0L288.7 157.4M286.0 161.5L290.4 159.7M286.3 162.4L290.3 161.3" stroke="#b896e0" stroke-width="0.6" fill="none" opacity="0.8"/>
<path d="M288.8 164.5 L287.1 165.5 L289.4 167.1 L286.7 167.4 L287.8 169.1 L285.3 168.8 L287.1 171.7 L284.2 170.4 L284.6 172.6 L282.7 171.6 L282.7 174.2 L280.9 172.3 L280.2 174.6 L279.0 172.3 L277.8 174.7 L277.1 172.2 L275.3 174.3 L275.3 171.5 L273.3 172.8 L273.4 170.8 L271.7 171.0 L272.2 169.2 L270.0 169.2 L271.3 167.4 L268.8 167.0 L271.0 165.5 L268.6 164.5 L271.3 163.6 L269.6 162.2 L271.3 161.6 L270.2 159.9 L272.7 160.2 L271.0 157.4 L273.7 158.5 L273.5 156.5 L275.3 157.4 L275.5 155.3 L277.0 156.4 L277.8 154.6 L279.0 156.1 L280.3 154.2 L280.8 157.1 L282.6 155.0 L282.9 157.0 L285.0 155.9 L284.1 158.8 L286.6 157.8 L285.4 160.1 L287.6 160.0 L286.5 161.6 L289.2 162.0 L286.7 163.6Z" fill="url(#npg)"/>
<circle cx="271.7" cy="162.0" r="0.9" fill="#bc94e6"/><circle cx="284.9" cy="167.4" r="0.5" fill="#b486dc"/><circle cx="282.8" cy="171.0" r="0.6" fill="#b486dc"/><circle cx="281.4" cy="166.1" r="0.5" fill="#6438ae"/><circle cx="277.2" cy="171.8" r="0.6" fill="#7646c0"/><circle cx="282.1" cy="165.6" r="0.9" fill="#6a3cb6"/><circle cx="278.6" cy="164.5" r="0.6" fill="#b486dc"/><circle cx="276.5" cy="162.6" r="0.9" fill="#6a3cb6"/><circle cx="279.5" cy="170.1" r="0.9" fill="#6a3cb6"/><circle cx="277.6" cy="169.0" r="0.9" fill="#7a4cc4"/><circle cx="282.0" cy="169.0" r="0.6" fill="#b486dc"/><circle cx="281.5" cy="166.2" r="0.8" fill="#6438ae"/><circle cx="287.1" cy="165.1" r="0.6" fill="#6a3cb6"/><circle cx="277.0" cy="156.8" r="0.6" fill="#6438ae"/><circle cx="286.9" cy="163.3" r="0.5" fill="#7a4cc4"/><circle cx="273.1" cy="170.4" r="0.6" fill="#6438ae"/><circle cx="279.6" cy="163.1" r="0.8" fill="#7a4cc4"/><circle cx="284.6" cy="162.5" r="0.9" fill="#7a4cc4"/><circle cx="281.2" cy="165.6" r="0.9" fill="#cbaaec"/><circle cx="286.0" cy="162.4" r="0.9" fill="#7646c0"/><circle cx="278.8" cy="157.4" r="0.6" fill="#b486dc"/><circle cx="277.1" cy="166.6" r="0.9" fill="#7646c0"/><circle cx="278.2" cy="158.6" r="0.9" fill="#bc94e6"/><circle cx="281.7" cy="169.8" r="0.5" fill="#cbaaec"/>
</g>
<ellipse cx="84" cy="113" rx="42" ry="4" fill="#8a8a8a" opacity="0.5" filter="url(#blur2)"/>
<path d="M115.6 119.3 C122 122 127 123 131 122.9 C136 122.8 141 122.8 145 122" fill="none" stroke="#4a4a4a" stroke-width="1.5"/>
<path d="M122 103 C135 104 148 106 149 112 C149.5 117 145 119 140 118" fill="none" stroke="#8c4a55" stroke-width="0.8"/>
<path d="M68.3 112.2 C69 114.3 74 114.6 77.5 113 L77.5 110.5 L72 110Z M86 110.5 C88 113 98 113 105.5 111 C106.5 110 106.5 108.6 106 108 L96 107.5Z" fill="#f1c3cd" stroke="#777" stroke-width="0.5"/>
<ellipse cx="57.8" cy="79.4" rx="5.3" ry="4.3" fill="#e8b0bf" stroke="#b9909a" stroke-width="0.5" transform="rotate(-25 57.8 79.4)"/>
<path d="M41.9 104.4 C43.5 101.5 45.5 99.5 47.2 97.2 C49.5 94 51.5 90.5 53.5 87.5 C55.5 84.5 59 81.5 62.8 78.9 C64.5 76.5 66 74.8 68.3 72.8 C71.5 70 75 68.2 79.4 67.2 C83 66.3 87 65.9 90.6 66.1 C94.5 66.3 98.5 67 101.7 68.3 C106 70.2 110 73 112.8 76.1 C116 79.6 118.8 83.5 120.6 87.2 C122.2 90.3 123.5 93.3 123.9 96.1 C124.3 98.8 124 101.2 122.8 102.8 C121.3 104.9 119 106.1 116.1 106.7 C112.5 107.5 109 108 106 108.3 C102.5 108.6 99.5 108.4 96.5 108 C92.5 107.5 88.5 107 85 107.2 C82 107.6 79.5 109 77.2 110.6 C75 112 72 113 69.4 112.8 C67.5 111.5 65 109 62.8 107.2 C59 106.8 55 107.3 51.7 107.2 C49 107.2 46.5 107 45 106.7 C43 106.4 41.6 105.6 41.9 104.4Z" fill="#fff" stroke="#404040" stroke-width="1.15"/>
<path d="M82.8 91.5 C82.2 95 82.6 97.5 83.9 99.4 C85.5 102 88 103.8 90.6 105 C92.8 106 95 106.7 97.5 107" fill="none" stroke="#444" stroke-width="1"/>
<ellipse cx="57.4" cy="87.9" rx="4.6" ry="4.9" fill="#e7a7b8" stroke="#b08890" stroke-width="0.5" transform="rotate(-20 57.4 87.9)"/>
<circle cx="51.1" cy="97.1" r="1.8" fill="#222"/><circle cx="50.7" cy="96.7" r="0.55" fill="#fff"/>
<circle cx="42.6" cy="104.6" r="1.6" fill="#1a1a1a"/>
<circle cx="97.8" cy="92.8" r="10.8" fill="url(#spot)"/>
<g transform="translate(137.5,38.6) rotate(8.2)"><rect x="-3.7" y="0" width="7.4" height="1.7" rx="0.6" fill="#d4d6dd" stroke="#b9bcc6" stroke-width="0.3"/><rect x="-1.6" y="1.5" width="3.2" height="14.2" fill="#eceef2" stroke="#c6c9d2" stroke-width="0.35"/><rect x="-4.8" y="15.2" width="9.6" height="1.5" rx="0.5" fill="#cfd2da" stroke="#b5b8c4" stroke-width="0.3"/><rect x="-3.3" y="16.4" width="6.6" height="29.6" rx="0.8" fill="#e9ebf0" stroke="#c3c7d2" stroke-width="0.4"/><rect x="-3.3" y="27.4" width="6.6" height="18.6" rx="0.8" fill="#858cd2"/><rect x="-3.3" y="26.4" width="6.6" height="2" fill="#3b3f7a"/><rect x="-1.5" y="46" width="3" height="2" fill="#9aa0c8"/><rect x="-0.45" y="48" width="0.9" height="3.2" fill="#8890b0"/></g>
<path d="M183.6 54 C172 58.5 164 62 156 62.6 L155.6 57.2 L139.5 66.3 L156.4 71.2 L155.3 67.2 C166 66 175 61 183.6 54Z" fill="url(#arrowg)"/>
</g>
<text x="90.8" y="48.2" text-anchor="middle" fill="#484848" font-size="11.1" class="g">Intravenous</text>
<text x="90.8" y="61.3" text-anchor="middle" fill="#484848" font-size="11.1" class="g">injection</text>
<text x="220" y="30" text-anchor="middle" fill="#484848" font-size="11.1" class="g">PSC(S)SP NPs</text>
<text x="277" y="105.8" text-anchor="middle" fill="#484848" font-size="11.1" class="g">Long blood circulation</text>
<text x="93.3" y="147.3" text-anchor="middle" fill="#484848" font-size="11.1" class="g">High tumor</text>
<text x="93.3" y="160.2" text-anchor="middle" fill="#484848" font-size="11.1" class="g">accumulation</text>
<text x="368.40" y="33.30" font-size="23" text-anchor="start" fill="#111" >b</text>
<text x="556.20" y="37.80" font-size="15.5" text-anchor="middle" fill="#111" >Prodrug</text>
<line x1="432.10" y1="212.90" x2="597.50" y2="212.90" stroke="#1d5a20" stroke-width="1.8" />
<line x1="607.00" y1="212.90" x2="680.30" y2="212.90" stroke="#1d5a20" stroke-width="1.8" />
<path d="M438.00 100.79 V71.90 M434.40 100.79 h7.2 M434.40 71.90 h7.2" stroke="#b4b52c" stroke-width="1.3" fill="none"/>
<path d="M445.80 111.04 V91.47 M442.20 111.04 h7.2 M442.20 91.47 h7.2" stroke="#b4b52c" stroke-width="1.3" fill="none"/>
<path d="M473.40 174.42 V148.32 M469.80 174.42 h7.2 M469.80 148.32 h7.2" stroke="#b4b52c" stroke-width="1.3" fill="none"/>
<path d="M513.60 202.38 V183.74 M510.00 202.38 h7.2 M510.00 183.74 h7.2" stroke="#b4b52c" stroke-width="1.3" fill="none"/>
<polyline points="438.00,86.35 445.80,101.26 473.40,163.24 513.60,193.06 594.90,210.77" fill="none" stroke="#b4b52c" stroke-width="2.5" stroke-linejoin="round" stroke-opacity="0.95"/>
<polyline points="609.50,211.70 626.80,211.70 679.30,211.70" fill="none" stroke="#b4b52c" stroke-width="2.5" stroke-linejoin="round" stroke-opacity="0.95"/>
<circle cx="438.00" cy="86.35" r="2.9" fill="#fff" fill-opacity="0.2" stroke="#b4b52c" stroke-width="1.3"/>
<circle cx="445.80" cy="101.26" r="2.9" fill="#fff" fill-opacity="0.2" stroke="#b4b52c" stroke-width="1.3"/>
<circle cx="473.40" cy="163.24" r="2.9" fill="#fff" fill-opacity="0.2" stroke="#b4b52c" stroke-width="1.3"/>
<circle cx="513.60" cy="193.06" r="2.9" fill="#fff" fill-opacity="0.2" stroke="#b4b52c" stroke-width="1.3"/>
<circle cx="594.90" cy="210.77" r="2.9" fill="#fff" fill-opacity="0.2" stroke="#b4b52c" stroke-width="1.3"/>
<circle cx="609.50" cy="211.70" r="2.9" fill="#fff" fill-opacity="0.2" stroke="#b4b52c" stroke-width="1.3"/>
<circle cx="626.80" cy="211.70" r="2.9" fill="#fff" fill-opacity="0.2" stroke="#b4b52c" stroke-width="1.3"/>
<circle cx="679.30" cy="211.70" r="2.9" fill="#fff" fill-opacity="0.2" stroke="#b4b52c" stroke-width="1.3"/>
<path d="M438.00 138.07 V53.26 M434.40 138.07 h7.2 M434.40 53.26 h7.2" stroke="#e6868b" stroke-width="1.3" fill="none"/>
<path d="M445.80 137.14 V83.55 M442.20 137.14 h7.2 M442.20 83.55 h7.2" stroke="#e6868b" stroke-width="1.3" fill="none"/>
<path d="M473.40 176.75 V102.19 M469.80 176.75 h7.2 M469.80 102.19 h7.2" stroke="#e6868b" stroke-width="1.3" fill="none"/>
<path d="M513.60 198.65 V187.47 M510.00 198.65 h7.2 M510.00 187.47 h7.2" stroke="#e6868b" stroke-width="1.3" fill="none"/>
<polyline points="438.00,96.60 445.80,111.51 473.40,139.94 513.60,194.46 594.90,210.77" fill="none" stroke="#e6868b" stroke-width="2.5" stroke-linejoin="round" stroke-opacity="0.95"/>
<polyline points="609.50,211.70 626.80,211.70 679.30,211.70" fill="none" stroke="#e6868b" stroke-width="2.5" stroke-linejoin="round" stroke-opacity="0.95"/>
<circle cx="438.00" cy="96.60" r="2.9" fill="#fff" fill-opacity="0.2" stroke="#e6868b" stroke-width="1.3"/>
<circle cx="445.80" cy="111.51" r="2.9" fill="#fff" fill-opacity="0.2" stroke="#e6868b" stroke-width="1.3"/>
<circle cx="473.40" cy="139.94" r="2.9" fill="#fff" fill-opacity="0.2" stroke="#e6868b" stroke-width="1.3"/>
<circle cx="513.60" cy="194.46" r="2.9" fill="#fff" fill-opacity="0.2" stroke="#e6868b" stroke-width="1.3"/>
<circle cx="594.90" cy="210.77" r="2.9" fill="#fff" fill-opacity="0.2" stroke="#e6868b" stroke-width="1.3"/>
<circle cx="609.50" cy="211.70" r="2.9" fill="#fff" fill-opacity="0.2" stroke="#e6868b" stroke-width="1.3"/>
<circle cx="626.80" cy="211.70" r="2.9" fill="#fff" fill-opacity="0.2" stroke="#e6868b" stroke-width="1.3"/>
<circle cx="679.30" cy="211.70" r="2.9" fill="#fff" fill-opacity="0.2" stroke="#e6868b" stroke-width="1.3"/>
<path d="M438.00 131.55 V74.23 M434.40 131.55 h7.2 M434.40 74.23 h7.2" stroke="#f4a455" stroke-width="1.3" fill="none"/>
<path d="M445.80 149.26 V125.02 M442.20 149.26 h7.2 M442.20 125.02 h7.2" stroke="#f4a455" stroke-width="1.3" fill="none"/>
<path d="M473.40 176.75 V152.52 M469.80 176.75 h7.2 M469.80 152.52 h7.2" stroke="#f4a455" stroke-width="1.3" fill="none"/>
<path d="M513.60 203.31 V176.75 M510.00 203.31 h7.2 M510.00 176.75 h7.2" stroke="#f4a455" stroke-width="1.3" fill="none"/>
<polyline points="438.00,101.26 445.80,137.14 473.40,165.10 513.60,190.73 594.90,210.77" fill="none" stroke="#f4a455" stroke-width="2.5" stroke-linejoin="round" stroke-opacity="0.95"/>
<polyline points="609.50,211.70 626.80,211.70 679.30,211.70" fill="none" stroke="#f4a455" stroke-width="2.5" stroke-linejoin="round" stroke-opacity="0.95"/>
<circle cx="438.00" cy="101.26" r="2.9" fill="#fff" fill-opacity="0.2" stroke="#f4a455" stroke-width="1.3"/>
<circle cx="445.80" cy="137.14" r="2.9" fill="#fff" fill-opacity="0.2" stroke="#f4a455" stroke-width="1.3"/>
<circle cx="473.40" cy="165.10" r="2.9" fill="#fff" fill-opacity="0.2" stroke="#f4a455" stroke-width="1.3"/>
<circle cx="513.60" cy="190.73" r="2.9" fill="#fff" fill-opacity="0.2" stroke="#f4a455" stroke-width="1.3"/>
<circle cx="594.90" cy="210.77" r="2.9" fill="#fff" fill-opacity="0.2" stroke="#f4a455" stroke-width="1.3"/>
<circle cx="609.50" cy="211.70" r="2.9" fill="#fff" fill-opacity="0.2" stroke="#f4a455" stroke-width="1.3"/>
<circle cx="626.80" cy="211.70" r="2.9" fill="#fff" fill-opacity="0.2" stroke="#f4a455" stroke-width="1.3"/>
<circle cx="679.30" cy="211.70" r="2.9" fill="#fff" fill-opacity="0.2" stroke="#f4a455" stroke-width="1.3"/>
<polyline points="438.00,201.91 445.80,207.04 473.40,209.37 513.60,210.30 594.90,211.00" fill="none" stroke="#5b9be4" stroke-width="2.5" stroke-linejoin="round" stroke-opacity="0.95"/>
<polyline points="609.50,211.70 626.80,211.70 679.30,211.70" fill="none" stroke="#5b9be4" stroke-width="2.5" stroke-linejoin="round" stroke-opacity="0.95"/>
<circle cx="438.00" cy="201.91" r="2.9" fill="#fff" fill-opacity="0.2" stroke="#5b9be4" stroke-width="1.3"/>
<circle cx="445.80" cy="207.04" r="2.9" fill="#fff" fill-opacity="0.2" stroke="#5b9be4" stroke-width="1.3"/>
<circle cx="473.40" cy="209.37" r="2.9" fill="#fff" fill-opacity="0.2" stroke="#5b9be4" stroke-width="1.3"/>
<circle cx="513.60" cy="210.30" r="2.9" fill="#fff" fill-opacity="0.2" stroke="#5b9be4" stroke-width="1.3"/>
<circle cx="594.90" cy="211.00" r="2.9" fill="#fff" fill-opacity="0.2" stroke="#5b9be4" stroke-width="1.3"/>
<circle cx="609.50" cy="211.70" r="2.9" fill="#fff" fill-opacity="0.2" stroke="#5b9be4" stroke-width="1.3"/>
<circle cx="626.80" cy="211.70" r="2.9" fill="#fff" fill-opacity="0.2" stroke="#5b9be4" stroke-width="1.3"/>
<circle cx="679.30" cy="211.70" r="2.9" fill="#fff" fill-opacity="0.2" stroke="#5b9be4" stroke-width="1.3"/>
<polyline points="438.00,209.37 445.80,210.77 473.40,211.23 513.60,211.23 594.90,211.47" fill="none" stroke="#30a632" stroke-width="3.2" stroke-linejoin="round" stroke-opacity="0.95"/>
<polyline points="609.50,211.70 626.80,211.70 679.30,211.70" fill="none" stroke="#30a632" stroke-width="3.2" stroke-linejoin="round" stroke-opacity="0.95"/>
<circle cx="438.00" cy="209.37" r="2.9" fill="#fff" fill-opacity="0.2" stroke="#30a632" stroke-width="1.3"/>
<circle cx="445.80" cy="210.77" r="2.9" fill="#fff" fill-opacity="0.2" stroke="#30a632" stroke-width="1.3"/>
<circle cx="473.40" cy="211.23" r="2.9" fill="#fff" fill-opacity="0.2" stroke="#30a632" stroke-width="1.3"/>
<circle cx="513.60" cy="211.23" r="2.9" fill="#fff" fill-opacity="0.2" stroke="#30a632" stroke-width="1.3"/>
<circle cx="594.90" cy="211.47" r="2.9" fill="#fff" fill-opacity="0.2" stroke="#30a632" stroke-width="1.3"/>
<circle cx="609.50" cy="211.70" r="2.9" fill="#fff" fill-opacity="0.2" stroke="#30a632" stroke-width="1.3"/>
<circle cx="626.80" cy="211.70" r="2.9" fill="#fff" fill-opacity="0.2" stroke="#30a632" stroke-width="1.3"/>
<circle cx="679.30" cy="211.70" r="2.9" fill="#fff" fill-opacity="0.2" stroke="#30a632" stroke-width="1.3"/>
<path d="M433.0 213.79999999999998 V48.6 H679.4 V213.79999999999998" fill="none" stroke="#0a0a0a" stroke-width="1.8"/>
<line x1="428.00" y1="211.70" x2="433.00" y2="211.70" stroke="#0a0a0a" stroke-width="1.7" />
<text x="426.70" y="216.25" font-size="12.7" text-anchor="end" fill="#111" >0</text>
<line x1="428.00" y1="188.40" x2="433.00" y2="188.40" stroke="#0a0a0a" stroke-width="1.7" />
<text x="426.70" y="192.95" font-size="12.7" text-anchor="end" fill="#111" >50</text>
<line x1="428.00" y1="165.10" x2="433.00" y2="165.10" stroke="#0a0a0a" stroke-width="1.7" />
<text x="426.70" y="169.65" font-size="12.7" text-anchor="end" fill="#111" >100</text>
<line x1="428.00" y1="141.80" x2="433.00" y2="141.80" stroke="#0a0a0a" stroke-width="1.7" />
<text x="426.70" y="146.35" font-size="12.7" text-anchor="end" fill="#111" >150</text>
<line x1="428.00" y1="118.50" x2="433.00" y2="118.50" stroke="#0a0a0a" stroke-width="1.7" />
<text x="426.70" y="123.05" font-size="12.7" text-anchor="end" fill="#111" >200</text>
<line x1="428.00" y1="95.20" x2="433.00" y2="95.20" stroke="#0a0a0a" stroke-width="1.7" />
<text x="426.70" y="99.75" font-size="12.7" text-anchor="end" fill="#111" >250</text>
<line x1="428.00" y1="71.90" x2="433.00" y2="71.90" stroke="#0a0a0a" stroke-width="1.7" />
<text x="426.70" y="76.45" font-size="12.7" text-anchor="end" fill="#111" >300</text>
<line x1="428.00" y1="48.60" x2="433.00" y2="48.60" stroke="#0a0a0a" stroke-width="1.7" />
<text x="426.70" y="53.15" font-size="12.7" text-anchor="end" fill="#111" >350</text>
<line x1="433.00" y1="211.70" x2="433.00" y2="217.20" stroke="#0a0a0a" stroke-width="1.7" />
<text x="433.00" y="230.30" font-size="12.7" text-anchor="middle" fill="#111" >0.0</text>
<line x1="513.95" y1="211.70" x2="513.95" y2="217.20" stroke="#0a0a0a" stroke-width="1.7" />
<text x="513.95" y="230.30" font-size="12.7" text-anchor="middle" fill="#111" >0.5</text>
<line x1="594.90" y1="211.70" x2="594.90" y2="217.20" stroke="#0a0a0a" stroke-width="1.7" />
<text x="594.90" y="230.30" font-size="12.7" text-anchor="middle" fill="#111" >1.0</text>
<line x1="473.48" y1="211.70" x2="473.48" y2="214.90" stroke="#0a0a0a" stroke-width="1.7" />
<line x1="554.42" y1="211.70" x2="554.42" y2="214.90" stroke="#0a0a0a" stroke-width="1.7" />
<line x1="609.50" y1="211.70" x2="609.50" y2="217.20" stroke="#0a0a0a" stroke-width="1.7" />
<line x1="626.80" y1="211.70" x2="626.80" y2="217.20" stroke="#0a0a0a" stroke-width="1.7" />
<text x="626.80" y="230.30" font-size="12.7" text-anchor="middle" fill="#111" >12</text>
<line x1="679.30" y1="211.70" x2="679.30" y2="217.20" stroke="#0a0a0a" stroke-width="1.7" />
<text x="679.30" y="230.30" font-size="12.7" text-anchor="middle" fill="#111" >24</text>
<text x="555.50" y="250.30" font-size="13.3" text-anchor="middle" fill="#111" >Time (h)</text>
<text transform="translate(393.00,130.30) rotate(-90)" font-size="13.3" text-anchor="middle" fill="#111">Concentration (nmoL mL<tspan font-size="8.5" dy="-5">-1</tspan><tspan dy="5">)</tspan></text>
<line x1="554.50" y1="60.10" x2="574.10" y2="60.10" stroke="#30a632" stroke-width="2.0"/>
<circle cx="564.30" cy="60.10" r="2.60" fill="#fff" fill-opacity="0.4" stroke="#30a632" stroke-width="1.20"/>
<text x="583.30" y="64.80" font-size="13.3" text-anchor="start" fill="#111" >Abraxane</text>
<line x1="554.50" y1="83.10" x2="574.10" y2="83.10" stroke="#5b9be4" stroke-width="2.0"/>
<circle cx="564.30" cy="83.10" r="2.60" fill="#fff" fill-opacity="0.4" stroke="#5b9be4" stroke-width="1.20"/>
<text x="583.30" y="87.80" font-size="13.3" text-anchor="start" fill="#111" >Taxol</text>
<line x1="554.50" y1="106.00" x2="574.10" y2="106.00" stroke="#e6868b" stroke-width="2.0"/>
<circle cx="564.30" cy="106.00" r="2.60" fill="#fff" fill-opacity="0.4" stroke="#e6868b" stroke-width="1.20"/>
<text x="583.30" y="110.70" font-size="13.3" text-anchor="start" fill="#111" >PSC(S)SP NPs</text>
<line x1="554.50" y1="129.00" x2="574.10" y2="129.00" stroke="#f4a455" stroke-width="2.0"/>
<circle cx="564.30" cy="129.00" r="2.60" fill="#fff" fill-opacity="0.4" stroke="#f4a455" stroke-width="1.20"/>
<text x="583.30" y="133.70" font-size="13.3" text-anchor="start" fill="#111" >PSCSP NPs</text>
<line x1="554.50" y1="152.10" x2="574.10" y2="152.10" stroke="#b4b52c" stroke-width="2.0"/>
<circle cx="564.30" cy="152.10" r="2.60" fill="#fff" fill-opacity="0.4" stroke="#b4b52c" stroke-width="1.20"/>
<text x="583.30" y="156.80" font-size="13.3" text-anchor="start" fill="#111" >PCCCP NPs</text>
<text x="721.20" y="33.30" font-size="23" text-anchor="start" fill="#111" >c</text>
<text x="912.00" y="38.00" font-size="15.5" text-anchor="middle" fill="#111" >PTX</text>
<polyline points="794.60,201.75 802.30,202.03 829.50,202.03 870.30,202.03 951.80,202.03" fill="none" stroke="#b4b52c" stroke-width="2.5" stroke-linejoin="round" stroke-opacity="0.95"/>
<polyline points="965.80,202.30 983.20,202.30 1035.70,202.30" fill="none" stroke="#b4b52c" stroke-width="2.5" stroke-linejoin="round" stroke-opacity="0.95"/>
<circle cx="794.60" cy="201.75" r="2.9" fill="#fff" fill-opacity="0.2" stroke="#b4b52c" stroke-width="1.3"/>
<circle cx="802.30" cy="202.03" r="2.9" fill="#fff" fill-opacity="0.2" stroke="#b4b52c" stroke-width="1.3"/>
<circle cx="829.50" cy="202.03" r="2.9" fill="#fff" fill-opacity="0.2" stroke="#b4b52c" stroke-width="1.3"/>
<circle cx="870.30" cy="202.03" r="2.9" fill="#fff" fill-opacity="0.2" stroke="#b4b52c" stroke-width="1.3"/>
<circle cx="951.80" cy="202.03" r="2.9" fill="#fff" fill-opacity="0.2" stroke="#b4b52c" stroke-width="1.3"/>
<circle cx="965.80" cy="202.30" r="2.9" fill="#fff" fill-opacity="0.2" stroke="#b4b52c" stroke-width="1.3"/>
<circle cx="983.20" cy="202.30" r="2.9" fill="#fff" fill-opacity="0.2" stroke="#b4b52c" stroke-width="1.3"/>
<circle cx="1035.70" cy="202.30" r="2.9" fill="#fff" fill-opacity="0.2" stroke="#b4b52c" stroke-width="1.3"/>
<polyline points="794.60,201.20 802.30,201.75 829.50,202.03 870.30,202.03 951.80,202.03" fill="none" stroke="#f4a455" stroke-width="2.5" stroke-linejoin="round" stroke-opacity="0.95"/>
<polyline points="965.80,202.30 983.20,202.30 1035.70,202.30" fill="none" stroke="#f4a455" stroke-width="2.5" stroke-linejoin="round" stroke-opacity="0.95"/>
<circle cx="794.60" cy="201.20" r="2.9" fill="#fff" fill-opacity="0.2" stroke="#f4a455" stroke-width="1.3"/>
<circle cx="802.30" cy="201.75" r="2.9" fill="#fff" fill-opacity="0.2" stroke="#f4a455" stroke-width="1.3"/>
<circle cx="829.50" cy="202.03" r="2.9" fill="#fff" fill-opacity="0.2" stroke="#f4a455" stroke-width="1.3"/>
<circle cx="870.30" cy="202.03" r="2.9" fill="#fff" fill-opacity="0.2" stroke="#f4a455" stroke-width="1.3"/>
<circle cx="951.80" cy="202.03" r="2.9" fill="#fff" fill-opacity="0.2" stroke="#f4a455" stroke-width="1.3"/>
<circle cx="965.80" cy="202.30" r="2.9" fill="#fff" fill-opacity="0.2" stroke="#f4a455" stroke-width="1.3"/>
<circle cx="983.20" cy="202.30" r="2.9" fill="#fff" fill-opacity="0.2" stroke="#f4a455" stroke-width="1.3"/>
<circle cx="1035.70" cy="202.30" r="2.9" fill="#fff" fill-opacity="0.2" stroke="#f4a455" stroke-width="1.3"/>
<path d="M794.60 160.61 V129.89 M791.00 160.61 h7.2 M791.00 129.89 h7.2" stroke="#e6868b" stroke-width="1.3" fill="none"/>
<path d="M802.30 167.74 V137.02 M798.70 167.74 h7.2 M798.70 137.02 h7.2" stroke="#e6868b" stroke-width="1.3" fill="none"/>
<path d="M829.50 184.20 V163.90 M825.90 184.20 h7.2 M825.90 163.90 h7.2" stroke="#e6868b" stroke-width="1.3" fill="none"/>
<polyline points="794.60,145.80 802.30,152.38 829.50,174.87 870.30,195.17 951.80,200.65" fill="none" stroke="#e6868b" stroke-width="2.5" stroke-linejoin="round" stroke-opacity="0.95"/>
<polyline points="965.80,202.30 983.20,202.30 1035.70,202.30" fill="none" stroke="#e6868b" stroke-width="2.5" stroke-linejoin="round" stroke-opacity="0.95"/>
<circle cx="794.60" cy="145.80" r="2.9" fill="#fff" fill-opacity="0.2" stroke="#e6868b" stroke-width="1.3"/>
<circle cx="802.30" cy="152.38" r="2.9" fill="#fff" fill-opacity="0.2" stroke="#e6868b" stroke-width="1.3"/>
<circle cx="829.50" cy="174.87" r="2.9" fill="#fff" fill-opacity="0.2" stroke="#e6868b" stroke-width="1.3"/>
<circle cx="870.30" cy="195.17" r="2.9" fill="#fff" fill-opacity="0.2" stroke="#e6868b" stroke-width="1.3"/>
<circle cx="951.80" cy="200.65" r="2.9" fill="#fff" fill-opacity="0.2" stroke="#e6868b" stroke-width="1.3"/>
<circle cx="965.80" cy="202.30" r="2.9" fill="#fff" fill-opacity="0.2" stroke="#e6868b" stroke-width="1.3"/>
<circle cx="983.20" cy="202.30" r="2.9" fill="#fff" fill-opacity="0.2" stroke="#e6868b" stroke-width="1.3"/>
<circle cx="1035.70" cy="202.30" r="2.9" fill="#fff" fill-opacity="0.2" stroke="#e6868b" stroke-width="1.3"/>
<path d="M794.60 107.95 V62.41 M791.00 107.95 h7.2 M791.00 62.41 h7.2" stroke="#5b9be4" stroke-width="1.3" fill="none"/>
<path d="M802.30 155.67 V137.02 M798.70 155.67 h7.2 M798.70 137.02 h7.2" stroke="#5b9be4" stroke-width="1.3" fill="none"/>
<path d="M829.50 177.07 V163.90 M825.90 177.07 h7.2 M825.90 163.90 h7.2" stroke="#5b9be4" stroke-width="1.3" fill="none"/>
<path d="M870.30 189.13 V179.81 M866.70 189.13 h7.2 M866.70 179.81 h7.2" stroke="#5b9be4" stroke-width="1.3" fill="none"/>
<polyline points="794.60,85.45 802.30,146.35 829.50,171.58 870.30,184.20 951.80,195.17" fill="none" stroke="#5b9be4" stroke-width="2.5" stroke-linejoin="round" stroke-opacity="0.95"/>
<polyline points="965.80,202.30 983.20,202.30 1035.70,202.30" fill="none" stroke="#5b9be4" stroke-width="2.5" stroke-linejoin="round" stroke-opacity="0.95"/>
<circle cx="794.60" cy="85.45" r="2.9" fill="#fff" fill-opacity="0.2" stroke="#5b9be4" stroke-width="1.3"/>
<circle cx="802.30" cy="146.35" r="2.9" fill="#fff" fill-opacity="0.2" stroke="#5b9be4" stroke-width="1.3"/>
<circle cx="829.50" cy="171.58" r="2.9" fill="#fff" fill-opacity="0.2" stroke="#5b9be4" stroke-width="1.3"/>
<circle cx="870.30" cy="184.20" r="2.9" fill="#fff" fill-opacity="0.2" stroke="#5b9be4" stroke-width="1.3"/>
<circle cx="951.80" cy="195.17" r="2.9" fill="#fff" fill-opacity="0.2" stroke="#5b9be4" stroke-width="1.3"/>
<circle cx="965.80" cy="202.30" r="2.9" fill="#fff" fill-opacity="0.2" stroke="#5b9be4" stroke-width="1.3"/>
<circle cx="983.20" cy="202.30" r="2.9" fill="#fff" fill-opacity="0.2" stroke="#5b9be4" stroke-width="1.3"/>
<circle cx="1035.70" cy="202.30" r="2.9" fill="#fff" fill-opacity="0.2" stroke="#5b9be4" stroke-width="1.3"/>
<path d="M794.60 184.20 V165.55 M791.00 184.20 h7.2 M791.00 165.55 h7.2" stroke="#30a632" stroke-width="1.3" fill="none"/>
<polyline points="794.60,174.87 802.30,192.97 829.50,196.81 870.30,199.28 951.80,200.65" fill="none" stroke="#30a632" stroke-width="2.5" stroke-linejoin="round" stroke-opacity="0.95"/>
<polyline points="965.80,202.30 983.20,202.30 1035.70,202.30" fill="none" stroke="#30a632" stroke-width="2.5" stroke-linejoin="round" stroke-opacity="0.95"/>
<circle cx="794.60" cy="174.87" r="2.9" fill="#fff" fill-opacity="0.2" stroke="#30a632" stroke-width="1.3"/>
<circle cx="802.30" cy="192.97" r="2.9" fill="#fff" fill-opacity="0.2" stroke="#30a632" stroke-width="1.3"/>
<circle cx="829.50" cy="196.81" r="2.9" fill="#fff" fill-opacity="0.2" stroke="#30a632" stroke-width="1.3"/>
<circle cx="870.30" cy="199.28" r="2.9" fill="#fff" fill-opacity="0.2" stroke="#30a632" stroke-width="1.3"/>
<circle cx="951.80" cy="200.65" r="2.9" fill="#fff" fill-opacity="0.2" stroke="#30a632" stroke-width="1.3"/>
<circle cx="965.80" cy="202.30" r="2.9" fill="#fff" fill-opacity="0.2" stroke="#30a632" stroke-width="1.3"/>
<circle cx="983.20" cy="202.30" r="2.9" fill="#fff" fill-opacity="0.2" stroke="#30a632" stroke-width="1.3"/>
<circle cx="1035.70" cy="202.30" r="2.9" fill="#fff" fill-opacity="0.2" stroke="#30a632" stroke-width="1.3"/>
<path d="M789.1 214.4 V48.7 H1035.8 V214.4" fill="none" stroke="#0a0a0a" stroke-width="1.8"/>
<line x1="788.20" y1="213.50" x2="954.50" y2="213.50" stroke="#0a0a0a" stroke-width="1.8" />
<line x1="966.00" y1="213.50" x2="1036.70" y2="213.50" stroke="#0a0a0a" stroke-width="1.8" />
<line x1="947.20" y1="208.70" x2="956.90" y2="218.30" stroke="#0a0a0a" stroke-width="1.6" />
<line x1="961.20" y1="208.70" x2="970.80" y2="218.30" stroke="#0a0a0a" stroke-width="1.6" />
<line x1="784.10" y1="202.30" x2="789.10" y2="202.30" stroke="#0a0a0a" stroke-width="1.7" />
<text x="782.80" y="206.85" font-size="12.7" text-anchor="end" fill="#111" >0</text>
<line x1="784.10" y1="180.36" x2="789.10" y2="180.36" stroke="#0a0a0a" stroke-width="1.7" />
<text x="782.80" y="184.91" font-size="12.7" text-anchor="end" fill="#111" >4</text>
<line x1="784.10" y1="158.41" x2="789.10" y2="158.41" stroke="#0a0a0a" stroke-width="1.7" />
<text x="782.80" y="162.96" font-size="12.7" text-anchor="end" fill="#111" >8</text>
<line x1="784.10" y1="136.47" x2="789.10" y2="136.47" stroke="#0a0a0a" stroke-width="1.7" />
<text x="782.80" y="141.02" font-size="12.7" text-anchor="end" fill="#111" >12</text>
<line x1="784.10" y1="114.53" x2="789.10" y2="114.53" stroke="#0a0a0a" stroke-width="1.7" />
<text x="782.80" y="119.08" font-size="12.7" text-anchor="end" fill="#111" >16</text>
<line x1="784.10" y1="92.59" x2="789.10" y2="92.59" stroke="#0a0a0a" stroke-width="1.7" />
<text x="782.80" y="97.14" font-size="12.7" text-anchor="end" fill="#111" >20</text>
<line x1="784.10" y1="70.64" x2="789.10" y2="70.64" stroke="#0a0a0a" stroke-width="1.7" />
<text x="782.80" y="75.19" font-size="12.7" text-anchor="end" fill="#111" >24</text>
<line x1="784.10" y1="48.70" x2="789.10" y2="48.70" stroke="#0a0a0a" stroke-width="1.7" />
<text x="782.80" y="53.25" font-size="12.7" text-anchor="end" fill="#111" >28</text>
<line x1="789.10" y1="213.50" x2="789.10" y2="219.00" stroke="#0a0a0a" stroke-width="1.7" />
<text x="789.10" y="230.70" font-size="12.7" text-anchor="middle" fill="#111" >0.0</text>
<line x1="870.45" y1="213.50" x2="870.45" y2="219.00" stroke="#0a0a0a" stroke-width="1.7" />
<text x="870.45" y="230.70" font-size="12.7" text-anchor="middle" fill="#111" >0.5</text>
<text x="951.80" y="230.70" font-size="12.7" text-anchor="middle" fill="#111" >1.0</text>
<line x1="829.77" y1="213.50" x2="829.77" y2="216.70" stroke="#0a0a0a" stroke-width="1.7" />
<line x1="911.12" y1="213.50" x2="911.12" y2="216.70" stroke="#0a0a0a" stroke-width="1.7" />
<line x1="983.20" y1="213.50" x2="983.20" y2="219.00" stroke="#0a0a0a" stroke-width="1.7" />
<text x="983.20" y="230.70" font-size="12.7" text-anchor="middle" fill="#111" >12</text>
<line x1="1035.70" y1="213.50" x2="1035.70" y2="219.00" stroke="#0a0a0a" stroke-width="1.7" />
<text x="1035.70" y="230.70" font-size="12.7" text-anchor="middle" fill="#111" >24</text>
<text x="912.00" y="250.30" font-size="13.3" text-anchor="middle" fill="#111" >Time (h)</text>
<text transform="translate(756.70,130.30) rotate(-90)" font-size="13.3" text-anchor="middle" fill="#111">Concentration (nmoL mL<tspan font-size="8.5" dy="-5">-1</tspan><tspan dy="5">)</tspan></text>
<line x1="911.00" y1="60.00" x2="930.60" y2="60.00" stroke="#30a632" stroke-width="2.8"/>
<circle cx="920.80" cy="60.00" r="2.84" fill="#fff" fill-opacity="0.4" stroke="#30a632" stroke-width="1.40"/>
<text x="939.30" y="64.70" font-size="13.3" text-anchor="start" fill="#111" >Abraxane</text>
<line x1="911.00" y1="82.80" x2="930.60" y2="82.80" stroke="#5b9be4" stroke-width="2.8"/>
<circle cx="920.80" cy="82.80" r="2.84" fill="#fff" fill-opacity="0.4" stroke="#5b9be4" stroke-width="1.40"/>
<text x="939.30" y="87.50" font-size="13.3" text-anchor="start" fill="#111" >Taxol</text>
<line x1="911.00" y1="106.00" x2="930.60" y2="106.00" stroke="#e6868b" stroke-width="2.8"/>
<circle cx="920.80" cy="106.00" r="2.84" fill="#fff" fill-opacity="0.4" stroke="#e6868b" stroke-width="1.40"/>
<text x="939.30" y="110.70" font-size="13.3" text-anchor="start" fill="#111" >PSC(S)SP NPs</text>
<line x1="911.00" y1="129.00" x2="930.60" y2="129.00" stroke="#f4a455" stroke-width="2.8"/>
<circle cx="920.80" cy="129.00" r="2.84" fill="#fff" fill-opacity="0.4" stroke="#f4a455" stroke-width="1.40"/>
<text x="939.30" y="133.70" font-size="13.3" text-anchor="start" fill="#111" >PSCSP NPs</text>
<line x1="911.00" y1="152.00" x2="930.60" y2="152.00" stroke="#b4b52c" stroke-width="2.8"/>
<circle cx="920.80" cy="152.00" r="2.84" fill="#fff" fill-opacity="0.4" stroke="#b4b52c" stroke-width="1.40"/>
<text x="939.30" y="156.70" font-size="13.3" text-anchor="start" fill="#111" >PCCCP NPs</text>
<text x="12.20" y="297.40" font-size="23" text-anchor="start" fill="#111" >d</text>
<text x="200.00" y="306.60" font-size="15.5" text-anchor="middle" fill="#111" >Heart</text>
<line x1="88.70" y1="432.00" x2="88.70" y2="429.33" stroke="#333" stroke-width="1.1" />
<line x1="85.40" y1="429.33" x2="92.00" y2="429.33" stroke="#333" stroke-width="1.1" />
<rect x="82.50" y="432.00" width="12.4" height="46.45" fill="#a98cf6" stroke="#2a1f48" stroke-width="1"/>
<line x1="102.70" y1="357.33" x2="102.70" y2="329.33" stroke="#333" stroke-width="1.1" />
<line x1="99.40" y1="329.33" x2="106.00" y2="329.33" stroke="#333" stroke-width="1.1" />
<rect x="96.50" y="357.33" width="12.4" height="121.12" fill="#a98cf6" stroke="#2a1f48" stroke-width="1"/>
<line x1="116.70" y1="460.00" x2="116.70" y2="443.33" stroke="#333" stroke-width="1.1" />
<line x1="113.40" y1="443.33" x2="120.00" y2="443.33" stroke="#333" stroke-width="1.1" />
<rect x="110.50" y="460.00" width="12.4" height="18.45" fill="#f9c384" stroke="#352513" stroke-width="1"/>
<line x1="116.70" y1="472.67" x2="116.70" y2="471.67" stroke="#333" stroke-width="1.1" />
<line x1="113.40" y1="471.67" x2="120.00" y2="471.67" stroke="#333" stroke-width="1.1" />
<rect x="110.50" y="472.67" width="12.4" height="5.78" fill="#a98cf6" stroke="#2a1f48" stroke-width="1"/>
<line x1="130.70" y1="442.33" x2="130.70" y2="424.67" stroke="#333" stroke-width="1.1" />
<line x1="127.40" y1="424.67" x2="134.00" y2="424.67" stroke="#333" stroke-width="1.1" />
<rect x="124.50" y="442.33" width="12.4" height="36.12" fill="#f9c384" stroke="#352513" stroke-width="1"/>
<line x1="144.70" y1="450.00" x2="144.70" y2="446.00" stroke="#333" stroke-width="1.1" />
<line x1="141.40" y1="446.00" x2="148.00" y2="446.00" stroke="#333" stroke-width="1.1" />
<rect x="138.50" y="450.00" width="12.4" height="28.45" fill="#f9c384" stroke="#352513" stroke-width="1"/>
<line x1="172.50" y1="466.33" x2="172.50" y2="466.00" stroke="#333" stroke-width="1.1" />
<line x1="169.20" y1="466.00" x2="175.80" y2="466.00" stroke="#333" stroke-width="1.1" />
<rect x="166.30" y="466.33" width="12.4" height="12.12" fill="#a98cf6" stroke="#2a1f48" stroke-width="1"/>
<line x1="186.50" y1="439.33" x2="186.50" y2="426.00" stroke="#333" stroke-width="1.1" />
<line x1="183.20" y1="426.00" x2="189.80" y2="426.00" stroke="#333" stroke-width="1.1" />
<rect x="180.30" y="439.33" width="12.4" height="39.12" fill="#a98cf6" stroke="#2a1f48" stroke-width="1"/>
<line x1="200.50" y1="468.33" x2="200.50" y2="465.00" stroke="#333" stroke-width="1.1" />
<line x1="197.20" y1="465.00" x2="203.80" y2="465.00" stroke="#333" stroke-width="1.1" />
<rect x="194.30" y="468.33" width="12.4" height="10.12" fill="#f9c384" stroke="#352513" stroke-width="1"/>
<line x1="200.50" y1="474.67" x2="200.50" y2="473.67" stroke="#333" stroke-width="1.1" />
<line x1="197.20" y1="473.67" x2="203.80" y2="473.67" stroke="#333" stroke-width="1.1" />
<rect x="194.30" y="474.67" width="12.4" height="3.78" fill="#a98cf6" stroke="#2a1f48" stroke-width="1"/>
<line x1="214.50" y1="470.33" x2="214.50" y2="469.33" stroke="#333" stroke-width="1.1" />
<line x1="211.20" y1="469.33" x2="217.80" y2="469.33" stroke="#333" stroke-width="1.1" />
<rect x="208.30" y="470.33" width="12.4" height="8.12" fill="#f9c384" stroke="#352513" stroke-width="1"/>
<line x1="228.50" y1="463.33" x2="228.50" y2="460.33" stroke="#333" stroke-width="1.1" />
<line x1="225.20" y1="460.33" x2="231.80" y2="460.33" stroke="#333" stroke-width="1.1" />
<rect x="222.30" y="463.33" width="12.4" height="15.12" fill="#f9c384" stroke="#352513" stroke-width="1"/>
<rect x="249.20" y="477.67" width="12.4" height="0.78" fill="#a98cf6" stroke="#2a1f48" stroke-width="1"/>
<line x1="269.40" y1="476.33" x2="269.40" y2="475.33" stroke="#333" stroke-width="1.1" />
<line x1="266.10" y1="475.33" x2="272.70" y2="475.33" stroke="#333" stroke-width="1.1" />
<rect x="263.20" y="476.33" width="12.4" height="2.12" fill="#a98cf6" stroke="#2a1f48" stroke-width="1"/>
<line x1="283.40" y1="470.33" x2="283.40" y2="466.67" stroke="#333" stroke-width="1.1" />
<line x1="280.10" y1="466.67" x2="286.70" y2="466.67" stroke="#333" stroke-width="1.1" />
<rect x="277.20" y="470.33" width="12.4" height="8.12" fill="#f9c384" stroke="#352513" stroke-width="1"/>
<line x1="283.40" y1="474.67" x2="283.40" y2="472.67" stroke="#333" stroke-width="1.1" />
<line x1="280.10" y1="472.67" x2="286.70" y2="472.67" stroke="#333" stroke-width="1.1" />
<rect x="277.20" y="474.67" width="12.4" height="3.78" fill="#a98cf6" stroke="#2a1f48" stroke-width="1"/>
<line x1="297.40" y1="472.00" x2="297.40" y2="469.33" stroke="#333" stroke-width="1.1" />
<line x1="294.10" y1="469.33" x2="300.70" y2="469.33" stroke="#333" stroke-width="1.1" />
<rect x="291.20" y="472.00" width="12.4" height="6.45" fill="#f9c384" stroke="#352513" stroke-width="1"/>
<line x1="311.40" y1="471.33" x2="311.40" y2="470.33" stroke="#333" stroke-width="1.1" />
<line x1="308.10" y1="470.33" x2="314.70" y2="470.33" stroke="#333" stroke-width="1.1" />
<rect x="305.20" y="471.33" width="12.4" height="7.12" fill="#f9c384" stroke="#352513" stroke-width="1"/>
<path d="M77.10 479.35 V313.60 H323.60 V479.35" fill="none" stroke="#0a0a0a" stroke-width="1.8"/>
<line x1="76.20" y1="478.45" x2="324.50" y2="478.45" stroke="#0a0a0a" stroke-width="1.8" />
<line x1="72.10" y1="478.45" x2="77.10" y2="478.45" stroke="#0a0a0a" stroke-width="1.7" />
<text x="70.80" y="483.00" font-size="12.7" text-anchor="end" fill="#111" >0</text>
<line x1="72.10" y1="457.84" x2="77.10" y2="457.84" stroke="#0a0a0a" stroke-width="1.7" />
<text x="70.80" y="462.39" font-size="12.7" text-anchor="end" fill="#111" >5</text>
<line x1="72.10" y1="437.24" x2="77.10" y2="437.24" stroke="#0a0a0a" stroke-width="1.7" />
<text x="70.80" y="441.79" font-size="12.7" text-anchor="end" fill="#111" >10</text>
<line x1="72.10" y1="416.63" x2="77.10" y2="416.63" stroke="#0a0a0a" stroke-width="1.7" />
<text x="70.80" y="421.18" font-size="12.7" text-anchor="end" fill="#111" >15</text>
<line x1="72.10" y1="396.02" x2="77.10" y2="396.02" stroke="#0a0a0a" stroke-width="1.7" />
<text x="70.80" y="400.57" font-size="12.7" text-anchor="end" fill="#111" >20</text>
<line x1="72.10" y1="375.42" x2="77.10" y2="375.42" stroke="#0a0a0a" stroke-width="1.7" />
<text x="70.80" y="379.97" font-size="12.7" text-anchor="end" fill="#111" >25</text>
<line x1="72.10" y1="354.81" x2="77.10" y2="354.81" stroke="#0a0a0a" stroke-width="1.7" />
<text x="70.80" y="359.36" font-size="12.7" text-anchor="end" fill="#111" >30</text>
<line x1="72.10" y1="334.21" x2="77.10" y2="334.21" stroke="#0a0a0a" stroke-width="1.7" />
<text x="70.80" y="338.76" font-size="12.7" text-anchor="end" fill="#111" >35</text>
<line x1="72.10" y1="313.60" x2="77.10" y2="313.60" stroke="#0a0a0a" stroke-width="1.7" />
<text x="70.80" y="318.15" font-size="12.7" text-anchor="end" fill="#111" >40</text>
<line x1="88.70" y1="478.45" x2="88.70" y2="483.45" stroke="#0a0a0a" stroke-width="1.7" />
<text x="88.70" y="496.15" font-size="12.7" text-anchor="middle" fill="#111" >1</text>
<line x1="102.70" y1="478.45" x2="102.70" y2="483.45" stroke="#0a0a0a" stroke-width="1.7" />
<text x="102.70" y="496.15" font-size="12.7" text-anchor="middle" fill="#111" >2</text>
<line x1="116.70" y1="478.45" x2="116.70" y2="483.45" stroke="#0a0a0a" stroke-width="1.7" />
<text x="116.70" y="496.15" font-size="12.7" text-anchor="middle" fill="#111" >3</text>
<line x1="130.70" y1="478.45" x2="130.70" y2="483.45" stroke="#0a0a0a" stroke-width="1.7" />
<text x="130.70" y="496.15" font-size="12.7" text-anchor="middle" fill="#111" >4</text>
<line x1="144.70" y1="478.45" x2="144.70" y2="483.45" stroke="#0a0a0a" stroke-width="1.7" />
<text x="144.70" y="496.15" font-size="12.7" text-anchor="middle" fill="#111" >5</text>
<line x1="86.10" y1="505.95" x2="146.50" y2="505.95" stroke="#0a0a0a" stroke-width="2.3" />
<text x="116.50" y="519.75" font-size="12.7" text-anchor="middle" fill="#111" >1 h</text>
<line x1="172.50" y1="478.45" x2="172.50" y2="483.45" stroke="#0a0a0a" stroke-width="1.7" />
<text x="172.50" y="496.15" font-size="12.7" text-anchor="middle" fill="#111" >1</text>
<line x1="186.50" y1="478.45" x2="186.50" y2="483.45" stroke="#0a0a0a" stroke-width="1.7" />
<text x="186.50" y="496.15" font-size="12.7" text-anchor="middle" fill="#111" >2</text>
<line x1="200.50" y1="478.45" x2="200.50" y2="483.45" stroke="#0a0a0a" stroke-width="1.7" />
<text x="200.50" y="496.15" font-size="12.7" text-anchor="middle" fill="#111" >3</text>
<line x1="214.50" y1="478.45" x2="214.50" y2="483.45" stroke="#0a0a0a" stroke-width="1.7" />
<text x="214.50" y="496.15" font-size="12.7" text-anchor="middle" fill="#111" >4</text>
<line x1="228.50" y1="478.45" x2="228.50" y2="483.45" stroke="#0a0a0a" stroke-width="1.7" />
<text x="228.50" y="496.15" font-size="12.7" text-anchor="middle" fill="#111" >5</text>
<line x1="171.20" y1="505.95" x2="231.60" y2="505.95" stroke="#0a0a0a" stroke-width="2.3" />
<text x="201.60" y="519.75" font-size="12.7" text-anchor="middle" fill="#111" >4 h</text>
<line x1="255.40" y1="478.45" x2="255.40" y2="483.45" stroke="#0a0a0a" stroke-width="1.7" />
<text x="255.40" y="496.15" font-size="12.7" text-anchor="middle" fill="#111" >1</text>
<line x1="269.40" y1="478.45" x2="269.40" y2="483.45" stroke="#0a0a0a" stroke-width="1.7" />
<text x="269.40" y="496.15" font-size="12.7" text-anchor="middle" fill="#111" >2</text>
<line x1="283.40" y1="478.45" x2="283.40" y2="483.45" stroke="#0a0a0a" stroke-width="1.7" />
<text x="283.40" y="496.15" font-size="12.7" text-anchor="middle" fill="#111" >3</text>
<line x1="297.40" y1="478.45" x2="297.40" y2="483.45" stroke="#0a0a0a" stroke-width="1.7" />
<text x="297.40" y="496.15" font-size="12.7" text-anchor="middle" fill="#111" >4</text>
<line x1="311.40" y1="478.45" x2="311.40" y2="483.45" stroke="#0a0a0a" stroke-width="1.7" />
<text x="311.40" y="496.15" font-size="12.7" text-anchor="middle" fill="#111" >5</text>
<line x1="255.50" y1="505.95" x2="315.90" y2="505.95" stroke="#0a0a0a" stroke-width="2.3" />
<text x="285.90" y="519.75" font-size="12.7" text-anchor="middle" fill="#111" >12 h</text>
<line x1="158.60" y1="478.45" x2="158.60" y2="483.45" stroke="#0a0a0a" stroke-width="1.7" />
<line x1="241.95" y1="478.45" x2="241.95" y2="483.45" stroke="#0a0a0a" stroke-width="1.7" />
<text transform="translate(48.50,394.02) rotate(-90)" font-size="13.5" text-anchor="middle" fill="#111">Concentration (nmoL g<tspan font-size="8.5" dy="-5">-1</tspan><tspan dy="5">)</tspan></text>
<rect x="214.3" y="322.1" width="18" height="10" fill="#f9c384" stroke="#352513" stroke-width="0.9"/>
<text x="241.90" y="332.00" font-size="13.3" text-anchor="start" fill="#111" >Prodrug</text>
<rect x="214.3" y="345.3" width="18" height="10" fill="#a98cf6" stroke="#2a1f48" stroke-width="0.9"/>
<text x="241.90" y="355.00" font-size="13.3" text-anchor="start" fill="#111" >PTX</text>
<text x="211.00" y="378.80" font-size="13.3" text-anchor="start" fill="#111" >1: Abraxane</text>
<text x="211.00" y="395.15" font-size="13.3" text-anchor="start" fill="#111" >2: Taxol</text>
<text x="211.00" y="411.50" font-size="13.3" text-anchor="start" fill="#111" >3: PSC(S)SP NPs</text>
<text x="211.00" y="427.85" font-size="13.3" text-anchor="start" fill="#111" >4: PSCSP NPs</text>
<text x="211.00" y="444.20" font-size="13.3" text-anchor="start" fill="#111" >5: PCCCP NPs</text>
<text x="368.20" y="297.50" font-size="23" text-anchor="start" fill="#111" >e</text>
<text x="556.00" y="306.60" font-size="15.5" text-anchor="middle" fill="#111" >Liver</text>
<line x1="444.60" y1="385.33" x2="444.60" y2="362.67" stroke="#333" stroke-width="1.1" />
<line x1="441.30" y1="362.67" x2="447.90" y2="362.67" stroke="#333" stroke-width="1.1" />
<rect x="438.40" y="385.33" width="12.4" height="93.12" fill="#a98cf6" stroke="#2a1f48" stroke-width="1"/>
<line x1="458.60" y1="345.33" x2="458.60" y2="321.67" stroke="#333" stroke-width="1.1" />
<line x1="455.30" y1="321.67" x2="461.90" y2="321.67" stroke="#333" stroke-width="1.1" />
<rect x="452.40" y="345.33" width="12.4" height="133.12" fill="#a98cf6" stroke="#2a1f48" stroke-width="1"/>
<line x1="472.60" y1="399.00" x2="472.60" y2="374.33" stroke="#333" stroke-width="1.1" />
<line x1="469.30" y1="374.33" x2="475.90" y2="374.33" stroke="#333" stroke-width="1.1" />
<rect x="466.40" y="399.00" width="12.4" height="79.45" fill="#f9c384" stroke="#352513" stroke-width="1"/>
<line x1="472.60" y1="468.67" x2="472.60" y2="464.33" stroke="#333" stroke-width="1.1" />
<line x1="469.30" y1="464.33" x2="475.90" y2="464.33" stroke="#333" stroke-width="1.1" />
<rect x="466.40" y="468.67" width="12.4" height="9.78" fill="#a98cf6" stroke="#2a1f48" stroke-width="1"/>
<line x1="486.60" y1="417.33" x2="486.60" y2="402.33" stroke="#333" stroke-width="1.1" />
<line x1="483.30" y1="402.33" x2="489.90" y2="402.33" stroke="#333" stroke-width="1.1" />
<rect x="480.40" y="417.33" width="12.4" height="61.12" fill="#f9c384" stroke="#352513" stroke-width="1"/>
<rect x="480.40" y="477.67" width="12.4" height="0.78" fill="#a98cf6" stroke="#2a1f48" stroke-width="1"/>
<line x1="500.60" y1="440.33" x2="500.60" y2="429.00" stroke="#333" stroke-width="1.1" />
<line x1="497.30" y1="429.00" x2="503.90" y2="429.00" stroke="#333" stroke-width="1.1" />
<rect x="494.40" y="440.33" width="12.4" height="38.12" fill="#f9c384" stroke="#352513" stroke-width="1"/>
<line x1="528.20" y1="463.00" x2="528.20" y2="459.33" stroke="#333" stroke-width="1.1" />
<line x1="524.90" y1="459.33" x2="531.50" y2="459.33" stroke="#333" stroke-width="1.1" />
<rect x="522.00" y="463.00" width="12.4" height="15.45" fill="#a98cf6" stroke="#2a1f48" stroke-width="1"/>
<line x1="542.20" y1="389.00" x2="542.20" y2="357.33" stroke="#333" stroke-width="1.1" />
<line x1="538.90" y1="357.33" x2="545.50" y2="357.33" stroke="#333" stroke-width="1.1" />
<rect x="536.00" y="389.00" width="12.4" height="89.45" fill="#a98cf6" stroke="#2a1f48" stroke-width="1"/>
<line x1="556.20" y1="400.33" x2="556.20" y2="385.33" stroke="#333" stroke-width="1.1" />
<line x1="552.90" y1="385.33" x2="559.50" y2="385.33" stroke="#333" stroke-width="1.1" />
<rect x="550.00" y="400.33" width="12.4" height="78.12" fill="#f9c384" stroke="#352513" stroke-width="1"/>
<line x1="556.20" y1="468.67" x2="556.20" y2="466.00" stroke="#333" stroke-width="1.1" />
<line x1="552.90" y1="466.00" x2="559.50" y2="466.00" stroke="#333" stroke-width="1.1" />
<rect x="550.00" y="468.67" width="12.4" height="9.78" fill="#a98cf6" stroke="#2a1f48" stroke-width="1"/>
<line x1="570.20" y1="436.33" x2="570.20" y2="433.67" stroke="#333" stroke-width="1.1" />
<line x1="566.90" y1="433.67" x2="573.50" y2="433.67" stroke="#333" stroke-width="1.1" />
<rect x="564.00" y="436.33" width="12.4" height="42.12" fill="#f9c384" stroke="#352513" stroke-width="1"/>
<line x1="570.20" y1="475.67" x2="570.20" y2="475.00" stroke="#333" stroke-width="1.1" />
<line x1="566.90" y1="475.00" x2="573.50" y2="475.00" stroke="#333" stroke-width="1.1" />
<rect x="564.00" y="475.67" width="12.4" height="2.78" fill="#a98cf6" stroke="#2a1f48" stroke-width="1"/>
<line x1="584.20" y1="439.67" x2="584.20" y2="435.67" stroke="#333" stroke-width="1.1" />
<line x1="580.90" y1="435.67" x2="587.50" y2="435.67" stroke="#333" stroke-width="1.1" />
<rect x="578.00" y="439.67" width="12.4" height="38.78" fill="#f9c384" stroke="#352513" stroke-width="1"/>
<line x1="611.40" y1="475.33" x2="611.40" y2="474.33" stroke="#333" stroke-width="1.1" />
<line x1="608.10" y1="474.33" x2="614.70" y2="474.33" stroke="#333" stroke-width="1.1" />
<rect x="605.20" y="475.33" width="12.4" height="3.12" fill="#a98cf6" stroke="#2a1f48" stroke-width="1"/>
<line x1="625.40" y1="473.00" x2="625.40" y2="470.33" stroke="#333" stroke-width="1.1" />
<line x1="622.10" y1="470.33" x2="628.70" y2="470.33" stroke="#333" stroke-width="1.1" />
<rect x="619.20" y="473.00" width="12.4" height="5.45" fill="#a98cf6" stroke="#2a1f48" stroke-width="1"/>
<line x1="639.40" y1="398.67" x2="639.40" y2="389.33" stroke="#333" stroke-width="1.1" />
<line x1="636.10" y1="389.33" x2="642.70" y2="389.33" stroke="#333" stroke-width="1.1" />
<rect x="633.20" y="398.67" width="12.4" height="79.78" fill="#f9c384" stroke="#352513" stroke-width="1"/>
<line x1="639.40" y1="465.33" x2="639.40" y2="458.67" stroke="#333" stroke-width="1.1" />
<line x1="636.10" y1="458.67" x2="642.70" y2="458.67" stroke="#333" stroke-width="1.1" />
<rect x="633.20" y="465.33" width="12.4" height="13.12" fill="#a98cf6" stroke="#2a1f48" stroke-width="1"/>
<line x1="653.40" y1="449.33" x2="653.40" y2="447.33" stroke="#333" stroke-width="1.1" />
<line x1="650.10" y1="447.33" x2="656.70" y2="447.33" stroke="#333" stroke-width="1.1" />
<rect x="647.20" y="449.33" width="12.4" height="29.12" fill="#f9c384" stroke="#352513" stroke-width="1"/>
<line x1="667.40" y1="450.33" x2="667.40" y2="448.33" stroke="#333" stroke-width="1.1" />
<line x1="664.10" y1="448.33" x2="670.70" y2="448.33" stroke="#333" stroke-width="1.1" />
<rect x="661.20" y="450.33" width="12.4" height="28.12" fill="#f9c384" stroke="#352513" stroke-width="1"/>
<path d="M433.00 479.35 V313.60 H679.40 V479.35" fill="none" stroke="#0a0a0a" stroke-width="1.8"/>
<line x1="432.10" y1="478.45" x2="680.30" y2="478.45" stroke="#0a0a0a" stroke-width="1.8" />
<line x1="428.00" y1="478.45" x2="433.00" y2="478.45" stroke="#0a0a0a" stroke-width="1.7" />
<text x="426.70" y="483.00" font-size="12.7" text-anchor="end" fill="#111" >0</text>
<line x1="428.00" y1="445.48" x2="433.00" y2="445.48" stroke="#0a0a0a" stroke-width="1.7" />
<text x="426.70" y="450.03" font-size="12.7" text-anchor="end" fill="#111" >30</text>
<line x1="428.00" y1="412.51" x2="433.00" y2="412.51" stroke="#0a0a0a" stroke-width="1.7" />
<text x="426.70" y="417.06" font-size="12.7" text-anchor="end" fill="#111" >60</text>
<line x1="428.00" y1="379.54" x2="433.00" y2="379.54" stroke="#0a0a0a" stroke-width="1.7" />
<text x="426.70" y="384.09" font-size="12.7" text-anchor="end" fill="#111" >90</text>
<line x1="428.00" y1="346.57" x2="433.00" y2="346.57" stroke="#0a0a0a" stroke-width="1.7" />
<text x="426.70" y="351.12" font-size="12.7" text-anchor="end" fill="#111" >120</text>
<line x1="428.00" y1="313.60" x2="433.00" y2="313.60" stroke="#0a0a0a" stroke-width="1.7" />
<text x="426.70" y="318.15" font-size="12.7" text-anchor="end" fill="#111" >150</text>
<line x1="444.60" y1="478.45" x2="444.60" y2="483.45" stroke="#0a0a0a" stroke-width="1.7" />
<text x="444.60" y="496.15" font-size="12.7" text-anchor="middle" fill="#111" >1</text>
<line x1="458.60" y1="478.45" x2="458.60" y2="483.45" stroke="#0a0a0a" stroke-width="1.7" />
<text x="458.60" y="496.15" font-size="12.7" text-anchor="middle" fill="#111" >2</text>
<line x1="472.60" y1="478.45" x2="472.60" y2="483.45" stroke="#0a0a0a" stroke-width="1.7" />
<text x="472.60" y="496.15" font-size="12.7" text-anchor="middle" fill="#111" >3</text>
<line x1="486.60" y1="478.45" x2="486.60" y2="483.45" stroke="#0a0a0a" stroke-width="1.7" />
<text x="486.60" y="496.15" font-size="12.7" text-anchor="middle" fill="#111" >4</text>
<line x1="500.60" y1="478.45" x2="500.60" y2="483.45" stroke="#0a0a0a" stroke-width="1.7" />
<text x="500.60" y="496.15" font-size="12.7" text-anchor="middle" fill="#111" >5</text>
<line x1="442.00" y1="505.95" x2="502.40" y2="505.95" stroke="#0a0a0a" stroke-width="2.3" />
<text x="472.40" y="519.75" font-size="12.7" text-anchor="middle" fill="#111" >1 h</text>
<line x1="528.20" y1="478.45" x2="528.20" y2="483.45" stroke="#0a0a0a" stroke-width="1.7" />
<text x="528.20" y="496.15" font-size="12.7" text-anchor="middle" fill="#111" >1</text>
<line x1="542.20" y1="478.45" x2="542.20" y2="483.45" stroke="#0a0a0a" stroke-width="1.7" />
<text x="542.20" y="496.15" font-size="12.7" text-anchor="middle" fill="#111" >2</text>
<line x1="556.20" y1="478.45" x2="556.20" y2="483.45" stroke="#0a0a0a" stroke-width="1.7" />
<text x="556.20" y="496.15" font-size="12.7" text-anchor="middle" fill="#111" >3</text>
<line x1="570.20" y1="478.45" x2="570.20" y2="483.45" stroke="#0a0a0a" stroke-width="1.7" />
<text x="570.20" y="496.15" font-size="12.7" text-anchor="middle" fill="#111" >4</text>
<line x1="584.20" y1="478.45" x2="584.20" y2="483.45" stroke="#0a0a0a" stroke-width="1.7" />
<text x="584.20" y="496.15" font-size="12.7" text-anchor="middle" fill="#111" >5</text>
<line x1="526.90" y1="505.95" x2="587.30" y2="505.95" stroke="#0a0a0a" stroke-width="2.3" />
<text x="557.30" y="519.75" font-size="12.7" text-anchor="middle" fill="#111" >4 h</text>
<line x1="611.40" y1="478.45" x2="611.40" y2="483.45" stroke="#0a0a0a" stroke-width="1.7" />
<text x="611.40" y="496.15" font-size="12.7" text-anchor="middle" fill="#111" >1</text>
<line x1="625.40" y1="478.45" x2="625.40" y2="483.45" stroke="#0a0a0a" stroke-width="1.7" />
<text x="625.40" y="496.15" font-size="12.7" text-anchor="middle" fill="#111" >2</text>
<line x1="639.40" y1="478.45" x2="639.40" y2="483.45" stroke="#0a0a0a" stroke-width="1.7" />
<text x="639.40" y="496.15" font-size="12.7" text-anchor="middle" fill="#111" >3</text>
<line x1="653.40" y1="478.45" x2="653.40" y2="483.45" stroke="#0a0a0a" stroke-width="1.7" />
<text x="653.40" y="496.15" font-size="12.7" text-anchor="middle" fill="#111" >4</text>
<line x1="667.40" y1="478.45" x2="667.40" y2="483.45" stroke="#0a0a0a" stroke-width="1.7" />
<text x="667.40" y="496.15" font-size="12.7" text-anchor="middle" fill="#111" >5</text>
<line x1="611.50" y1="505.95" x2="671.90" y2="505.95" stroke="#0a0a0a" stroke-width="2.3" />
<text x="641.90" y="519.75" font-size="12.7" text-anchor="middle" fill="#111" >12 h</text>
<line x1="514.40" y1="478.45" x2="514.40" y2="483.45" stroke="#0a0a0a" stroke-width="1.7" />
<line x1="597.80" y1="478.45" x2="597.80" y2="483.45" stroke="#0a0a0a" stroke-width="1.7" />
<text transform="translate(397.00,394.02) rotate(-90)" font-size="13.5" text-anchor="middle" fill="#111">Concentration (nmoL g<tspan font-size="8.5" dy="-5">-1</tspan><tspan dy="5">)</tspan></text>
<text x="721.20" y="297.40" font-size="23" text-anchor="start" fill="#111" >f</text>
<text x="912.30" y="306.60" font-size="15.5" text-anchor="middle" fill="#111" >Spleen</text>
<line x1="801.40" y1="462.33" x2="801.40" y2="455.00" stroke="#333" stroke-width="1.1" />
<line x1="798.10" y1="455.00" x2="804.70" y2="455.00" stroke="#333" stroke-width="1.1" />
<rect x="795.20" y="462.33" width="12.4" height="16.12" fill="#a98cf6" stroke="#2a1f48" stroke-width="1"/>
<line x1="815.40" y1="449.67" x2="815.40" y2="443.33" stroke="#333" stroke-width="1.1" />
<line x1="812.10" y1="443.33" x2="818.70" y2="443.33" stroke="#333" stroke-width="1.1" />
<rect x="809.20" y="449.67" width="12.4" height="28.78" fill="#a98cf6" stroke="#2a1f48" stroke-width="1"/>
<line x1="829.40" y1="384.33" x2="829.40" y2="362.00" stroke="#333" stroke-width="1.1" />
<line x1="826.10" y1="362.00" x2="832.70" y2="362.00" stroke="#333" stroke-width="1.1" />
<rect x="823.20" y="384.33" width="12.4" height="94.12" fill="#f9c384" stroke="#352513" stroke-width="1"/>
<line x1="829.40" y1="460.33" x2="829.40" y2="458.33" stroke="#333" stroke-width="1.1" />
<line x1="826.10" y1="458.33" x2="832.70" y2="458.33" stroke="#333" stroke-width="1.1" />
<rect x="823.20" y="460.33" width="12.4" height="18.12" fill="#a98cf6" stroke="#2a1f48" stroke-width="1"/>
<line x1="843.40" y1="417.33" x2="843.40" y2="399.00" stroke="#333" stroke-width="1.1" />
<line x1="840.10" y1="399.00" x2="846.70" y2="399.00" stroke="#333" stroke-width="1.1" />
<rect x="837.20" y="417.33" width="12.4" height="61.12" fill="#f9c384" stroke="#352513" stroke-width="1"/>
<line x1="843.40" y1="476.33" x2="843.40" y2="475.67" stroke="#333" stroke-width="1.1" />
<line x1="840.10" y1="475.67" x2="846.70" y2="475.67" stroke="#333" stroke-width="1.1" />
<rect x="837.20" y="476.33" width="12.4" height="2.12" fill="#a98cf6" stroke="#2a1f48" stroke-width="1"/>
<line x1="857.40" y1="419.67" x2="857.40" y2="401.33" stroke="#333" stroke-width="1.1" />
<line x1="854.10" y1="401.33" x2="860.70" y2="401.33" stroke="#333" stroke-width="1.1" />
<rect x="851.20" y="419.67" width="12.4" height="58.78" fill="#f9c384" stroke="#352513" stroke-width="1"/>
<line x1="884.60" y1="470.67" x2="884.60" y2="469.00" stroke="#333" stroke-width="1.1" />
<line x1="881.30" y1="469.00" x2="887.90" y2="469.00" stroke="#333" stroke-width="1.1" />
<rect x="878.40" y="470.67" width="12.4" height="7.78" fill="#a98cf6" stroke="#2a1f48" stroke-width="1"/>
<line x1="898.60" y1="464.00" x2="898.60" y2="458.33" stroke="#333" stroke-width="1.1" />
<line x1="895.30" y1="458.33" x2="901.90" y2="458.33" stroke="#333" stroke-width="1.1" />
<rect x="892.40" y="464.00" width="12.4" height="14.45" fill="#a98cf6" stroke="#2a1f48" stroke-width="1"/>
<line x1="912.60" y1="380.33" x2="912.60" y2="358.33" stroke="#333" stroke-width="1.1" />
<line x1="909.30" y1="358.33" x2="915.90" y2="358.33" stroke="#333" stroke-width="1.1" />
<rect x="906.40" y="380.33" width="12.4" height="98.12" fill="#f9c384" stroke="#352513" stroke-width="1"/>
<line x1="912.60" y1="449.33" x2="912.60" y2="447.67" stroke="#333" stroke-width="1.1" />
<line x1="909.30" y1="447.67" x2="915.90" y2="447.67" stroke="#333" stroke-width="1.1" />
<rect x="906.40" y="449.33" width="12.4" height="29.12" fill="#a98cf6" stroke="#2a1f48" stroke-width="1"/>
<line x1="926.60" y1="427.00" x2="926.60" y2="422.00" stroke="#333" stroke-width="1.1" />
<line x1="923.30" y1="422.00" x2="929.90" y2="422.00" stroke="#333" stroke-width="1.1" />
<rect x="920.40" y="427.00" width="12.4" height="51.45" fill="#f9c384" stroke="#352513" stroke-width="1"/>
<line x1="926.60" y1="475.33" x2="926.60" y2="474.67" stroke="#333" stroke-width="1.1" />
<line x1="923.30" y1="474.67" x2="929.90" y2="474.67" stroke="#333" stroke-width="1.1" />
<rect x="920.40" y="475.33" width="12.4" height="3.12" fill="#a98cf6" stroke="#2a1f48" stroke-width="1"/>
<line x1="940.60" y1="369.00" x2="940.60" y2="327.33" stroke="#333" stroke-width="1.1" />
<line x1="937.30" y1="327.33" x2="943.90" y2="327.33" stroke="#333" stroke-width="1.1" />
<rect x="934.40" y="369.00" width="12.4" height="109.45" fill="#f9c384" stroke="#352513" stroke-width="1"/>
<line x1="967.70" y1="477.00" x2="967.70" y2="476.00" stroke="#333" stroke-width="1.1" />
<line x1="964.40" y1="476.00" x2="971.00" y2="476.00" stroke="#333" stroke-width="1.1" />
<rect x="961.50" y="477.00" width="12.4" height="1.45" fill="#a98cf6" stroke="#2a1f48" stroke-width="1"/>
<line x1="981.70" y1="476.33" x2="981.70" y2="475.33" stroke="#333" stroke-width="1.1" />
<line x1="978.40" y1="475.33" x2="985.00" y2="475.33" stroke="#333" stroke-width="1.1" />
<rect x="975.50" y="476.33" width="12.4" height="2.12" fill="#a98cf6" stroke="#2a1f48" stroke-width="1"/>
<line x1="995.70" y1="388.33" x2="995.70" y2="383.33" stroke="#333" stroke-width="1.1" />
<line x1="992.40" y1="383.33" x2="999.00" y2="383.33" stroke="#333" stroke-width="1.1" />
<rect x="989.50" y="388.33" width="12.4" height="90.12" fill="#f9c384" stroke="#352513" stroke-width="1"/>
<line x1="995.70" y1="450.67" x2="995.70" y2="448.33" stroke="#333" stroke-width="1.1" />
<line x1="992.40" y1="448.33" x2="999.00" y2="448.33" stroke="#333" stroke-width="1.1" />
<rect x="989.50" y="450.67" width="12.4" height="27.78" fill="#a98cf6" stroke="#2a1f48" stroke-width="1"/>
<line x1="1009.70" y1="413.67" x2="1009.70" y2="397.00" stroke="#333" stroke-width="1.1" />
<line x1="1006.40" y1="397.00" x2="1013.00" y2="397.00" stroke="#333" stroke-width="1.1" />
<rect x="1003.50" y="413.67" width="12.4" height="64.78" fill="#f9c384" stroke="#352513" stroke-width="1"/>
<rect x="1003.50" y="477.00" width="12.4" height="1.45" fill="#a98cf6" stroke="#2a1f48" stroke-width="1"/>
<line x1="1023.70" y1="393.67" x2="1023.70" y2="391.33" stroke="#333" stroke-width="1.1" />
<line x1="1020.40" y1="391.33" x2="1027.00" y2="391.33" stroke="#333" stroke-width="1.1" />
<rect x="1017.50" y="393.67" width="12.4" height="84.78" fill="#f9c384" stroke="#352513" stroke-width="1"/>
<path d="M789.10 479.35 V313.60 H1036.10 V479.35" fill="none" stroke="#0a0a0a" stroke-width="1.8"/>
<line x1="788.20" y1="478.45" x2="1037.00" y2="478.45" stroke="#0a0a0a" stroke-width="1.8" />
<line x1="784.10" y1="478.45" x2="789.10" y2="478.45" stroke="#0a0a0a" stroke-width="1.7" />
<text x="782.80" y="483.00" font-size="12.7" text-anchor="end" fill="#111" >0</text>
<line x1="784.10" y1="450.98" x2="789.10" y2="450.98" stroke="#0a0a0a" stroke-width="1.7" />
<text x="782.80" y="455.53" font-size="12.7" text-anchor="end" fill="#111" >30</text>
<line x1="784.10" y1="423.50" x2="789.10" y2="423.50" stroke="#0a0a0a" stroke-width="1.7" />
<text x="782.80" y="428.05" font-size="12.7" text-anchor="end" fill="#111" >60</text>
<line x1="784.10" y1="396.02" x2="789.10" y2="396.02" stroke="#0a0a0a" stroke-width="1.7" />
<text x="782.80" y="400.57" font-size="12.7" text-anchor="end" fill="#111" >90</text>
<line x1="784.10" y1="368.55" x2="789.10" y2="368.55" stroke="#0a0a0a" stroke-width="1.7" />
<text x="782.80" y="373.10" font-size="12.7" text-anchor="end" fill="#111" >120</text>
<line x1="784.10" y1="341.08" x2="789.10" y2="341.08" stroke="#0a0a0a" stroke-width="1.7" />
<text x="782.80" y="345.63" font-size="12.7" text-anchor="end" fill="#111" >150</text>
<line x1="784.10" y1="313.60" x2="789.10" y2="313.60" stroke="#0a0a0a" stroke-width="1.7" />
<text x="782.80" y="318.15" font-size="12.7" text-anchor="end" fill="#111" >180</text>
<line x1="801.40" y1="478.45" x2="801.40" y2="483.45" stroke="#0a0a0a" stroke-width="1.7" />
<text x="801.40" y="496.15" font-size="12.7" text-anchor="middle" fill="#111" >1</text>
<line x1="815.40" y1="478.45" x2="815.40" y2="483.45" stroke="#0a0a0a" stroke-width="1.7" />
<text x="815.40" y="496.15" font-size="12.7" text-anchor="middle" fill="#111" >2</text>
<line x1="829.40" y1="478.45" x2="829.40" y2="483.45" stroke="#0a0a0a" stroke-width="1.7" />
<text x="829.40" y="496.15" font-size="12.7" text-anchor="middle" fill="#111" >3</text>
<line x1="843.40" y1="478.45" x2="843.40" y2="483.45" stroke="#0a0a0a" stroke-width="1.7" />
<text x="843.40" y="496.15" font-size="12.7" text-anchor="middle" fill="#111" >4</text>
<line x1="857.40" y1="478.45" x2="857.40" y2="483.45" stroke="#0a0a0a" stroke-width="1.7" />
<text x="857.40" y="496.15" font-size="12.7" text-anchor="middle" fill="#111" >5</text>
<line x1="798.80" y1="505.95" x2="859.20" y2="505.95" stroke="#0a0a0a" stroke-width="2.3" />
<text x="829.20" y="519.75" font-size="12.7" text-anchor="middle" fill="#111" >1 h</text>
<line x1="884.60" y1="478.45" x2="884.60" y2="483.45" stroke="#0a0a0a" stroke-width="1.7" />
<text x="884.60" y="496.15" font-size="12.7" text-anchor="middle" fill="#111" >1</text>
<line x1="898.60" y1="478.45" x2="898.60" y2="483.45" stroke="#0a0a0a" stroke-width="1.7" />
<text x="898.60" y="496.15" font-size="12.7" text-anchor="middle" fill="#111" >2</text>
<line x1="912.60" y1="478.45" x2="912.60" y2="483.45" stroke="#0a0a0a" stroke-width="1.7" />
<text x="912.60" y="496.15" font-size="12.7" text-anchor="middle" fill="#111" >3</text>
<line x1="926.60" y1="478.45" x2="926.60" y2="483.45" stroke="#0a0a0a" stroke-width="1.7" />
<text x="926.60" y="496.15" font-size="12.7" text-anchor="middle" fill="#111" >4</text>
<line x1="940.60" y1="478.45" x2="940.60" y2="483.45" stroke="#0a0a0a" stroke-width="1.7" />
<text x="940.60" y="496.15" font-size="12.7" text-anchor="middle" fill="#111" >5</text>
<line x1="883.30" y1="505.95" x2="943.70" y2="505.95" stroke="#0a0a0a" stroke-width="2.3" />
<text x="913.70" y="519.75" font-size="12.7" text-anchor="middle" fill="#111" >4 h</text>
<line x1="967.70" y1="478.45" x2="967.70" y2="483.45" stroke="#0a0a0a" stroke-width="1.7" />
<text x="967.70" y="496.15" font-size="12.7" text-anchor="middle" fill="#111" >1</text>
<line x1="981.70" y1="478.45" x2="981.70" y2="483.45" stroke="#0a0a0a" stroke-width="1.7" />
<text x="981.70" y="496.15" font-size="12.7" text-anchor="middle" fill="#111" >2</text>
<line x1="995.70" y1="478.45" x2="995.70" y2="483.45" stroke="#0a0a0a" stroke-width="1.7" />
<text x="995.70" y="496.15" font-size="12.7" text-anchor="middle" fill="#111" >3</text>
<line x1="1009.70" y1="478.45" x2="1009.70" y2="483.45" stroke="#0a0a0a" stroke-width="1.7" />
<text x="1009.70" y="496.15" font-size="12.7" text-anchor="middle" fill="#111" >4</text>
<line x1="1023.70" y1="478.45" x2="1023.70" y2="483.45" stroke="#0a0a0a" stroke-width="1.7" />
<text x="1023.70" y="496.15" font-size="12.7" text-anchor="middle" fill="#111" >5</text>
<line x1="967.80" y1="505.95" x2="1028.20" y2="505.95" stroke="#0a0a0a" stroke-width="2.3" />
<text x="998.20" y="519.75" font-size="12.7" text-anchor="middle" fill="#111" >12 h</text>
<line x1="871.00" y1="478.45" x2="871.00" y2="483.45" stroke="#0a0a0a" stroke-width="1.7" />
<line x1="954.15" y1="478.45" x2="954.15" y2="483.45" stroke="#0a0a0a" stroke-width="1.7" />
<text transform="translate(753.60,394.02) rotate(-90)" font-size="13.5" text-anchor="middle" fill="#111">Concentration (nmoL g<tspan font-size="8.5" dy="-5">-1</tspan><tspan dy="5">)</tspan></text>
<text x="12.20" y="566.60" font-size="23" text-anchor="start" fill="#111" >g</text>
<text x="200.00" y="577.00" font-size="15.5" text-anchor="middle" fill="#111" >Lung</text>
<line x1="88.70" y1="733.00" x2="88.70" y2="731.67" stroke="#333" stroke-width="1.1" />
<line x1="85.40" y1="731.67" x2="92.00" y2="731.67" stroke="#333" stroke-width="1.1" />
<rect x="82.50" y="733.00" width="12.4" height="16.00" fill="#a98cf6" stroke="#2a1f48" stroke-width="1"/>
<line x1="102.70" y1="711.67" x2="102.70" y2="708.33" stroke="#333" stroke-width="1.1" />
<line x1="99.40" y1="708.33" x2="106.00" y2="708.33" stroke="#333" stroke-width="1.1" />
<rect x="96.50" y="711.67" width="12.4" height="37.33" fill="#a98cf6" stroke="#2a1f48" stroke-width="1"/>
<line x1="116.70" y1="656.33" x2="116.70" y2="636.67" stroke="#333" stroke-width="1.1" />
<line x1="113.40" y1="636.67" x2="120.00" y2="636.67" stroke="#333" stroke-width="1.1" />
<rect x="110.50" y="656.33" width="12.4" height="92.67" fill="#f9c384" stroke="#352513" stroke-width="1"/>
<line x1="116.70" y1="735.33" x2="116.70" y2="733.33" stroke="#333" stroke-width="1.1" />
<line x1="113.40" y1="733.33" x2="120.00" y2="733.33" stroke="#333" stroke-width="1.1" />
<rect x="110.50" y="735.33" width="12.4" height="13.67" fill="#a98cf6" stroke="#2a1f48" stroke-width="1"/>
<line x1="130.70" y1="645.33" x2="130.70" y2="607.67" stroke="#333" stroke-width="1.1" />
<line x1="127.40" y1="607.67" x2="134.00" y2="607.67" stroke="#333" stroke-width="1.1" />
<rect x="124.50" y="645.33" width="12.4" height="103.67" fill="#f9c384" stroke="#352513" stroke-width="1"/>
<line x1="144.70" y1="635.33" x2="144.70" y2="593.33" stroke="#333" stroke-width="1.1" />
<line x1="141.40" y1="593.33" x2="148.00" y2="593.33" stroke="#333" stroke-width="1.1" />
<rect x="138.50" y="635.33" width="12.4" height="113.67" fill="#f9c384" stroke="#352513" stroke-width="1"/>
<line x1="172.50" y1="742.33" x2="172.50" y2="741.33" stroke="#333" stroke-width="1.1" />
<line x1="169.20" y1="741.33" x2="175.80" y2="741.33" stroke="#333" stroke-width="1.1" />
<rect x="166.30" y="742.33" width="12.4" height="6.67" fill="#a98cf6" stroke="#2a1f48" stroke-width="1"/>
<line x1="186.50" y1="729.67" x2="186.50" y2="726.00" stroke="#333" stroke-width="1.1" />
<line x1="183.20" y1="726.00" x2="189.80" y2="726.00" stroke="#333" stroke-width="1.1" />
<rect x="180.30" y="729.67" width="12.4" height="19.33" fill="#a98cf6" stroke="#2a1f48" stroke-width="1"/>
<line x1="200.50" y1="649.33" x2="200.50" y2="642.33" stroke="#333" stroke-width="1.1" />
<line x1="197.20" y1="642.33" x2="203.80" y2="642.33" stroke="#333" stroke-width="1.1" />
<rect x="194.30" y="649.33" width="12.4" height="99.67" fill="#f9c384" stroke="#352513" stroke-width="1"/>
<line x1="200.50" y1="731.33" x2="200.50" y2="727.33" stroke="#333" stroke-width="1.1" />
<line x1="197.20" y1="727.33" x2="203.80" y2="727.33" stroke="#333" stroke-width="1.1" />
<rect x="194.30" y="731.33" width="12.4" height="17.67" fill="#a98cf6" stroke="#2a1f48" stroke-width="1"/>
<line x1="214.50" y1="663.33" x2="214.50" y2="655.33" stroke="#333" stroke-width="1.1" />
<line x1="211.20" y1="655.33" x2="217.80" y2="655.33" stroke="#333" stroke-width="1.1" />
<rect x="208.30" y="663.33" width="12.4" height="85.67" fill="#f9c384" stroke="#352513" stroke-width="1"/>
<line x1="228.50" y1="634.33" x2="228.50" y2="632.00" stroke="#333" stroke-width="1.1" />
<line x1="225.20" y1="632.00" x2="231.80" y2="632.00" stroke="#333" stroke-width="1.1" />
<rect x="222.30" y="634.33" width="12.4" height="114.67" fill="#f9c384" stroke="#352513" stroke-width="1"/>
<line x1="255.40" y1="748.00" x2="255.40" y2="747.33" stroke="#333" stroke-width="1.1" />
<line x1="252.10" y1="747.33" x2="258.70" y2="747.33" stroke="#333" stroke-width="1.1" />
<rect x="249.20" y="748.00" width="12.4" height="1.00" fill="#a98cf6" stroke="#2a1f48" stroke-width="1"/>
<line x1="269.40" y1="748.00" x2="269.40" y2="747.33" stroke="#333" stroke-width="1.1" />
<line x1="266.10" y1="747.33" x2="272.70" y2="747.33" stroke="#333" stroke-width="1.1" />
<rect x="263.20" y="748.00" width="12.4" height="1.00" fill="#a98cf6" stroke="#2a1f48" stroke-width="1"/>
<line x1="283.40" y1="648.33" x2="283.40" y2="628.00" stroke="#333" stroke-width="1.1" />
<line x1="280.10" y1="628.00" x2="286.70" y2="628.00" stroke="#333" stroke-width="1.1" />
<rect x="277.20" y="648.33" width="12.4" height="100.67" fill="#f9c384" stroke="#352513" stroke-width="1"/>
<line x1="283.40" y1="733.33" x2="283.40" y2="728.33" stroke="#333" stroke-width="1.1" />
<line x1="280.10" y1="728.33" x2="286.70" y2="728.33" stroke="#333" stroke-width="1.1" />
<rect x="277.20" y="733.33" width="12.4" height="15.67" fill="#a98cf6" stroke="#2a1f48" stroke-width="1"/>
<line x1="297.40" y1="658.00" x2="297.40" y2="633.33" stroke="#333" stroke-width="1.1" />
<line x1="294.10" y1="633.33" x2="300.70" y2="633.33" stroke="#333" stroke-width="1.1" />
<rect x="291.20" y="658.00" width="12.4" height="91.00" fill="#f9c384" stroke="#352513" stroke-width="1"/>
<line x1="311.40" y1="661.67" x2="311.40" y2="646.67" stroke="#333" stroke-width="1.1" />
<line x1="308.10" y1="646.67" x2="314.70" y2="646.67" stroke="#333" stroke-width="1.1" />
<rect x="305.20" y="661.67" width="12.4" height="87.33" fill="#f9c384" stroke="#352513" stroke-width="1"/>
<path d="M77.10 749.90 V584.00 H323.60 V749.90" fill="none" stroke="#0a0a0a" stroke-width="1.8"/>
<line x1="76.20" y1="749.00" x2="324.50" y2="749.00" stroke="#0a0a0a" stroke-width="1.8" />
<line x1="72.10" y1="749.00" x2="77.10" y2="749.00" stroke="#0a0a0a" stroke-width="1.7" />
<text x="70.80" y="753.55" font-size="12.7" text-anchor="end" fill="#111" >0</text>
<line x1="72.10" y1="716.00" x2="77.10" y2="716.00" stroke="#0a0a0a" stroke-width="1.7" />
<text x="70.80" y="720.55" font-size="12.7" text-anchor="end" fill="#111" >30</text>
<line x1="72.10" y1="683.00" x2="77.10" y2="683.00" stroke="#0a0a0a" stroke-width="1.7" />
<text x="70.80" y="687.55" font-size="12.7" text-anchor="end" fill="#111" >60</text>
<line x1="72.10" y1="650.00" x2="77.10" y2="650.00" stroke="#0a0a0a" stroke-width="1.7" />
<text x="70.80" y="654.55" font-size="12.7" text-anchor="end" fill="#111" >90</text>
<line x1="72.10" y1="617.00" x2="77.10" y2="617.00" stroke="#0a0a0a" stroke-width="1.7" />
<text x="70.80" y="621.55" font-size="12.7" text-anchor="end" fill="#111" >120</text>
<line x1="72.10" y1="584.00" x2="77.10" y2="584.00" stroke="#0a0a0a" stroke-width="1.7" />
<text x="70.80" y="588.55" font-size="12.7" text-anchor="end" fill="#111" >150</text>
<line x1="88.70" y1="749.00" x2="88.70" y2="754.00" stroke="#0a0a0a" stroke-width="1.7" />
<text x="88.70" y="766.70" font-size="12.7" text-anchor="middle" fill="#111" >1</text>
<line x1="102.70" y1="749.00" x2="102.70" y2="754.00" stroke="#0a0a0a" stroke-width="1.7" />
<text x="102.70" y="766.70" font-size="12.7" text-anchor="middle" fill="#111" >2</text>
<line x1="116.70" y1="749.00" x2="116.70" y2="754.00" stroke="#0a0a0a" stroke-width="1.7" />
<text x="116.70" y="766.70" font-size="12.7" text-anchor="middle" fill="#111" >3</text>
<line x1="130.70" y1="749.00" x2="130.70" y2="754.00" stroke="#0a0a0a" stroke-width="1.7" />
<text x="130.70" y="766.70" font-size="12.7" text-anchor="middle" fill="#111" >4</text>
<line x1="144.70" y1="749.00" x2="144.70" y2="754.00" stroke="#0a0a0a" stroke-width="1.7" />
<text x="144.70" y="766.70" font-size="12.7" text-anchor="middle" fill="#111" >5</text>
<line x1="86.10" y1="776.50" x2="146.50" y2="776.50" stroke="#0a0a0a" stroke-width="2.3" />
<text x="116.50" y="790.30" font-size="12.7" text-anchor="middle" fill="#111" >1 h</text>
<line x1="172.50" y1="749.00" x2="172.50" y2="754.00" stroke="#0a0a0a" stroke-width="1.7" />
<text x="172.50" y="766.70" font-size="12.7" text-anchor="middle" fill="#111" >1</text>
<line x1="186.50" y1="749.00" x2="186.50" y2="754.00" stroke="#0a0a0a" stroke-width="1.7" />
<text x="186.50" y="766.70" font-size="12.7" text-anchor="middle" fill="#111" >2</text>
<line x1="200.50" y1="749.00" x2="200.50" y2="754.00" stroke="#0a0a0a" stroke-width="1.7" />
<text x="200.50" y="766.70" font-size="12.7" text-anchor="middle" fill="#111" >3</text>
<line x1="214.50" y1="749.00" x2="214.50" y2="754.00" stroke="#0a0a0a" stroke-width="1.7" />
<text x="214.50" y="766.70" font-size="12.7" text-anchor="middle" fill="#111" >4</text>
<line x1="228.50" y1="749.00" x2="228.50" y2="754.00" stroke="#0a0a0a" stroke-width="1.7" />
<text x="228.50" y="766.70" font-size="12.7" text-anchor="middle" fill="#111" >5</text>
<line x1="171.20" y1="776.50" x2="231.60" y2="776.50" stroke="#0a0a0a" stroke-width="2.3" />
<text x="201.60" y="790.30" font-size="12.7" text-anchor="middle" fill="#111" >4 h</text>
<line x1="255.40" y1="749.00" x2="255.40" y2="754.00" stroke="#0a0a0a" stroke-width="1.7" />
<text x="255.40" y="766.70" font-size="12.7" text-anchor="middle" fill="#111" >1</text>
<line x1="269.40" y1="749.00" x2="269.40" y2="754.00" stroke="#0a0a0a" stroke-width="1.7" />
<text x="269.40" y="766.70" font-size="12.7" text-anchor="middle" fill="#111" >2</text>
<line x1="283.40" y1="749.00" x2="283.40" y2="754.00" stroke="#0a0a0a" stroke-width="1.7" />
<text x="283.40" y="766.70" font-size="12.7" text-anchor="middle" fill="#111" >3</text>
<line x1="297.40" y1="749.00" x2="297.40" y2="754.00" stroke="#0a0a0a" stroke-width="1.7" />
<text x="297.40" y="766.70" font-size="12.7" text-anchor="middle" fill="#111" >4</text>
<line x1="311.40" y1="749.00" x2="311.40" y2="754.00" stroke="#0a0a0a" stroke-width="1.7" />
<text x="311.40" y="766.70" font-size="12.7" text-anchor="middle" fill="#111" >5</text>
<line x1="255.50" y1="776.50" x2="315.90" y2="776.50" stroke="#0a0a0a" stroke-width="2.3" />
<text x="285.90" y="790.30" font-size="12.7" text-anchor="middle" fill="#111" >12 h</text>
<line x1="158.60" y1="749.00" x2="158.60" y2="754.00" stroke="#0a0a0a" stroke-width="1.7" />
<line x1="241.95" y1="749.00" x2="241.95" y2="754.00" stroke="#0a0a0a" stroke-width="1.7" />
<text transform="translate(41.20,664.50) rotate(-90)" font-size="13.5" text-anchor="middle" fill="#111">Concentration (nmoL g<tspan font-size="8.5" dy="-5">-1</tspan><tspan dy="5">)</tspan></text>
<text x="368.40" y="566.70" font-size="23" text-anchor="start" fill="#111" >h</text>
<text x="556.00" y="577.60" font-size="15.5" text-anchor="middle" fill="#111" >Kidney</text>
<line x1="444.60" y1="702.33" x2="444.60" y2="691.67" stroke="#333" stroke-width="1.1" />
<line x1="441.30" y1="691.67" x2="447.90" y2="691.67" stroke="#333" stroke-width="1.1" />
<rect x="438.40" y="702.33" width="12.4" height="47.57" fill="#a98cf6" stroke="#2a1f48" stroke-width="1"/>
<line x1="458.60" y1="660.67" x2="458.60" y2="643.67" stroke="#333" stroke-width="1.1" />
<line x1="455.30" y1="643.67" x2="461.90" y2="643.67" stroke="#333" stroke-width="1.1" />
<rect x="452.40" y="660.67" width="12.4" height="89.23" fill="#a98cf6" stroke="#2a1f48" stroke-width="1"/>
<line x1="472.60" y1="707.67" x2="472.60" y2="688.00" stroke="#333" stroke-width="1.1" />
<line x1="469.30" y1="688.00" x2="475.90" y2="688.00" stroke="#333" stroke-width="1.1" />
<rect x="466.40" y="707.67" width="12.4" height="42.23" fill="#f9c384" stroke="#352513" stroke-width="1"/>
<line x1="472.60" y1="740.67" x2="472.60" y2="734.67" stroke="#333" stroke-width="1.1" />
<line x1="469.30" y1="734.67" x2="475.90" y2="734.67" stroke="#333" stroke-width="1.1" />
<rect x="466.40" y="740.67" width="12.4" height="9.23" fill="#a98cf6" stroke="#2a1f48" stroke-width="1"/>
<line x1="486.60" y1="667.33" x2="486.60" y2="647.33" stroke="#333" stroke-width="1.1" />
<line x1="483.30" y1="647.33" x2="489.90" y2="647.33" stroke="#333" stroke-width="1.1" />
<rect x="480.40" y="667.33" width="12.4" height="82.57" fill="#f9c384" stroke="#352513" stroke-width="1"/>
<line x1="486.60" y1="748.00" x2="486.60" y2="747.33" stroke="#333" stroke-width="1.1" />
<line x1="483.30" y1="747.33" x2="489.90" y2="747.33" stroke="#333" stroke-width="1.1" />
<rect x="480.40" y="748.00" width="12.4" height="1.90" fill="#a98cf6" stroke="#2a1f48" stroke-width="1"/>
<line x1="500.60" y1="636.00" x2="500.60" y2="600.33" stroke="#333" stroke-width="1.1" />
<line x1="497.30" y1="600.33" x2="503.90" y2="600.33" stroke="#333" stroke-width="1.1" />
<rect x="494.40" y="636.00" width="12.4" height="113.90" fill="#f9c384" stroke="#352513" stroke-width="1"/>
<line x1="528.20" y1="735.33" x2="528.20" y2="731.00" stroke="#333" stroke-width="1.1" />
<line x1="524.90" y1="731.00" x2="531.50" y2="731.00" stroke="#333" stroke-width="1.1" />
<rect x="522.00" y="735.33" width="12.4" height="14.57" fill="#a98cf6" stroke="#2a1f48" stroke-width="1"/>
<line x1="542.20" y1="700.33" x2="542.20" y2="678.67" stroke="#333" stroke-width="1.1" />
<line x1="538.90" y1="678.67" x2="545.50" y2="678.67" stroke="#333" stroke-width="1.1" />
<rect x="536.00" y="700.33" width="12.4" height="49.57" fill="#a98cf6" stroke="#2a1f48" stroke-width="1"/>
<line x1="556.20" y1="677.33" x2="556.20" y2="646.33" stroke="#333" stroke-width="1.1" />
<line x1="552.90" y1="646.33" x2="559.50" y2="646.33" stroke="#333" stroke-width="1.1" />
<rect x="550.00" y="677.33" width="12.4" height="72.57" fill="#f9c384" stroke="#352513" stroke-width="1"/>
<line x1="556.20" y1="735.67" x2="556.20" y2="728.33" stroke="#333" stroke-width="1.1" />
<line x1="552.90" y1="728.33" x2="559.50" y2="728.33" stroke="#333" stroke-width="1.1" />
<rect x="550.00" y="735.67" width="12.4" height="14.23" fill="#a98cf6" stroke="#2a1f48" stroke-width="1"/>
<line x1="570.20" y1="691.67" x2="570.20" y2="685.00" stroke="#333" stroke-width="1.1" />
<line x1="566.90" y1="685.00" x2="573.50" y2="685.00" stroke="#333" stroke-width="1.1" />
<rect x="564.00" y="691.67" width="12.4" height="58.23" fill="#f9c384" stroke="#352513" stroke-width="1"/>
<rect x="564.00" y="749.00" width="12.4" height="0.90" fill="#a98cf6" stroke="#2a1f48" stroke-width="1"/>
<line x1="584.20" y1="672.33" x2="584.20" y2="660.33" stroke="#333" stroke-width="1.1" />
<line x1="580.90" y1="660.33" x2="587.50" y2="660.33" stroke="#333" stroke-width="1.1" />
<rect x="578.00" y="672.33" width="12.4" height="77.57" fill="#f9c384" stroke="#352513" stroke-width="1"/>
<line x1="611.40" y1="748.33" x2="611.40" y2="748.00" stroke="#333" stroke-width="1.1" />
<line x1="608.10" y1="748.00" x2="614.70" y2="748.00" stroke="#333" stroke-width="1.1" />
<rect x="605.20" y="748.33" width="12.4" height="1.57" fill="#a98cf6" stroke="#2a1f48" stroke-width="1"/>
<line x1="625.40" y1="746.33" x2="625.40" y2="744.33" stroke="#333" stroke-width="1.1" />
<line x1="622.10" y1="744.33" x2="628.70" y2="744.33" stroke="#333" stroke-width="1.1" />
<rect x="619.20" y="746.33" width="12.4" height="3.57" fill="#a98cf6" stroke="#2a1f48" stroke-width="1"/>
<line x1="639.40" y1="711.33" x2="639.40" y2="696.67" stroke="#333" stroke-width="1.1" />
<line x1="636.10" y1="696.67" x2="642.70" y2="696.67" stroke="#333" stroke-width="1.1" />
<rect x="633.20" y="711.33" width="12.4" height="38.57" fill="#f9c384" stroke="#352513" stroke-width="1"/>
<line x1="639.40" y1="742.33" x2="639.40" y2="738.00" stroke="#333" stroke-width="1.1" />
<line x1="636.10" y1="738.00" x2="642.70" y2="738.00" stroke="#333" stroke-width="1.1" />
<rect x="633.20" y="742.33" width="12.4" height="7.57" fill="#a98cf6" stroke="#2a1f48" stroke-width="1"/>
<line x1="653.40" y1="716.33" x2="653.40" y2="709.67" stroke="#333" stroke-width="1.1" />
<line x1="650.10" y1="709.67" x2="656.70" y2="709.67" stroke="#333" stroke-width="1.1" />
<rect x="647.20" y="716.33" width="12.4" height="33.57" fill="#f9c384" stroke="#352513" stroke-width="1"/>
<line x1="667.40" y1="680.67" x2="667.40" y2="675.00" stroke="#333" stroke-width="1.1" />
<line x1="664.10" y1="675.00" x2="670.70" y2="675.00" stroke="#333" stroke-width="1.1" />
<rect x="661.20" y="680.67" width="12.4" height="69.23" fill="#f9c384" stroke="#352513" stroke-width="1"/>
<path d="M433.00 750.80 V584.60 H679.40 V750.80" fill="none" stroke="#0a0a0a" stroke-width="1.8"/>
<line x1="432.10" y1="749.90" x2="680.30" y2="749.90" stroke="#0a0a0a" stroke-width="1.8" />
<line x1="428.00" y1="749.90" x2="433.00" y2="749.90" stroke="#0a0a0a" stroke-width="1.7" />
<text x="426.70" y="754.45" font-size="12.7" text-anchor="end" fill="#111" >0</text>
<line x1="428.00" y1="708.58" x2="433.00" y2="708.58" stroke="#0a0a0a" stroke-width="1.7" />
<text x="426.70" y="713.12" font-size="12.7" text-anchor="end" fill="#111" >20</text>
<line x1="428.00" y1="667.25" x2="433.00" y2="667.25" stroke="#0a0a0a" stroke-width="1.7" />
<text x="426.70" y="671.80" font-size="12.7" text-anchor="end" fill="#111" >40</text>
<line x1="428.00" y1="625.93" x2="433.00" y2="625.93" stroke="#0a0a0a" stroke-width="1.7" />
<text x="426.70" y="630.48" font-size="12.7" text-anchor="end" fill="#111" >60</text>
<line x1="428.00" y1="584.60" x2="433.00" y2="584.60" stroke="#0a0a0a" stroke-width="1.7" />
<text x="426.70" y="589.15" font-size="12.7" text-anchor="end" fill="#111" >80</text>
<line x1="444.60" y1="749.90" x2="444.60" y2="754.90" stroke="#0a0a0a" stroke-width="1.7" />
<text x="444.60" y="767.60" font-size="12.7" text-anchor="middle" fill="#111" >1</text>
<line x1="458.60" y1="749.90" x2="458.60" y2="754.90" stroke="#0a0a0a" stroke-width="1.7" />
<text x="458.60" y="767.60" font-size="12.7" text-anchor="middle" fill="#111" >2</text>
<line x1="472.60" y1="749.90" x2="472.60" y2="754.90" stroke="#0a0a0a" stroke-width="1.7" />
<text x="472.60" y="767.60" font-size="12.7" text-anchor="middle" fill="#111" >3</text>
<line x1="486.60" y1="749.90" x2="486.60" y2="754.90" stroke="#0a0a0a" stroke-width="1.7" />
<text x="486.60" y="767.60" font-size="12.7" text-anchor="middle" fill="#111" >4</text>
<line x1="500.60" y1="749.90" x2="500.60" y2="754.90" stroke="#0a0a0a" stroke-width="1.7" />
<text x="500.60" y="767.60" font-size="12.7" text-anchor="middle" fill="#111" >5</text>
<line x1="442.00" y1="777.40" x2="502.40" y2="777.40" stroke="#0a0a0a" stroke-width="2.3" />
<text x="472.40" y="791.20" font-size="12.7" text-anchor="middle" fill="#111" >1 h</text>
<line x1="528.20" y1="749.90" x2="528.20" y2="754.90" stroke="#0a0a0a" stroke-width="1.7" />
<text x="528.20" y="767.60" font-size="12.7" text-anchor="middle" fill="#111" >1</text>
<line x1="542.20" y1="749.90" x2="542.20" y2="754.90" stroke="#0a0a0a" stroke-width="1.7" />
<text x="542.20" y="767.60" font-size="12.7" text-anchor="middle" fill="#111" >2</text>
<line x1="556.20" y1="749.90" x2="556.20" y2="754.90" stroke="#0a0a0a" stroke-width="1.7" />
<text x="556.20" y="767.60" font-size="12.7" text-anchor="middle" fill="#111" >3</text>
<line x1="570.20" y1="749.90" x2="570.20" y2="754.90" stroke="#0a0a0a" stroke-width="1.7" />
<text x="570.20" y="767.60" font-size="12.7" text-anchor="middle" fill="#111" >4</text>
<line x1="584.20" y1="749.90" x2="584.20" y2="754.90" stroke="#0a0a0a" stroke-width="1.7" />
<text x="584.20" y="767.60" font-size="12.7" text-anchor="middle" fill="#111" >5</text>
<line x1="526.90" y1="777.40" x2="587.30" y2="777.40" stroke="#0a0a0a" stroke-width="2.3" />
<text x="557.30" y="791.20" font-size="12.7" text-anchor="middle" fill="#111" >4 h</text>
<line x1="611.40" y1="749.90" x2="611.40" y2="754.90" stroke="#0a0a0a" stroke-width="1.7" />
<text x="611.40" y="767.60" font-size="12.7" text-anchor="middle" fill="#111" >1</text>
<line x1="625.40" y1="749.90" x2="625.40" y2="754.90" stroke="#0a0a0a" stroke-width="1.7" />
<text x="625.40" y="767.60" font-size="12.7" text-anchor="middle" fill="#111" >2</text>
<line x1="639.40" y1="749.90" x2="639.40" y2="754.90" stroke="#0a0a0a" stroke-width="1.7" />
<text x="639.40" y="767.60" font-size="12.7" text-anchor="middle" fill="#111" >3</text>
<line x1="653.40" y1="749.90" x2="653.40" y2="754.90" stroke="#0a0a0a" stroke-width="1.7" />
<text x="653.40" y="767.60" font-size="12.7" text-anchor="middle" fill="#111" >4</text>
<line x1="667.40" y1="749.90" x2="667.40" y2="754.90" stroke="#0a0a0a" stroke-width="1.7" />
<text x="667.40" y="767.60" font-size="12.7" text-anchor="middle" fill="#111" >5</text>
<line x1="611.50" y1="777.40" x2="671.90" y2="777.40" stroke="#0a0a0a" stroke-width="2.3" />
<text x="641.90" y="791.20" font-size="12.7" text-anchor="middle" fill="#111" >12 h</text>
<line x1="514.40" y1="749.90" x2="514.40" y2="754.90" stroke="#0a0a0a" stroke-width="1.7" />
<line x1="597.80" y1="749.90" x2="597.80" y2="754.90" stroke="#0a0a0a" stroke-width="1.7" />
<text transform="translate(404.50,665.25) rotate(-90)" font-size="13.5" text-anchor="middle" fill="#111">Concentration (nmoL g<tspan font-size="8.5" dy="-5">-1</tspan><tspan dy="5">)</tspan></text>
<text x="721.20" y="566.70" font-size="23" text-anchor="start" fill="#111" >i</text>
<text x="912.30" y="577.60" font-size="15.5" text-anchor="middle" fill="#111" >Tumor</text>
<line x1="801.40" y1="715.33" x2="801.40" y2="710.67" stroke="#333" stroke-width="1.1" />
<line x1="798.10" y1="710.67" x2="804.70" y2="710.67" stroke="#333" stroke-width="1.1" />
<rect x="795.20" y="715.33" width="12.4" height="34.57" fill="#a98cf6" stroke="#2a1f48" stroke-width="1"/>
<line x1="815.40" y1="709.67" x2="815.40" y2="701.67" stroke="#333" stroke-width="1.1" />
<line x1="812.10" y1="701.67" x2="818.70" y2="701.67" stroke="#333" stroke-width="1.1" />
<rect x="809.20" y="709.67" width="12.4" height="40.23" fill="#a98cf6" stroke="#2a1f48" stroke-width="1"/>
<line x1="829.40" y1="688.33" x2="829.40" y2="686.67" stroke="#333" stroke-width="1.1" />
<line x1="826.10" y1="686.67" x2="832.70" y2="686.67" stroke="#333" stroke-width="1.1" />
<rect x="823.20" y="688.33" width="12.4" height="61.57" fill="#f9c384" stroke="#352513" stroke-width="1"/>
<rect x="823.20" y="739.67" width="12.4" height="10.23" fill="#a98cf6" stroke="#2a1f48" stroke-width="1"/>
<line x1="843.40" y1="694.67" x2="843.40" y2="680.67" stroke="#333" stroke-width="1.1" />
<line x1="840.10" y1="680.67" x2="846.70" y2="680.67" stroke="#333" stroke-width="1.1" />
<rect x="837.20" y="694.67" width="12.4" height="55.23" fill="#f9c384" stroke="#352513" stroke-width="1"/>
<line x1="857.40" y1="697.00" x2="857.40" y2="670.67" stroke="#333" stroke-width="1.1" />
<line x1="854.10" y1="670.67" x2="860.70" y2="670.67" stroke="#333" stroke-width="1.1" />
<rect x="851.20" y="697.00" width="12.4" height="52.90" fill="#f9c384" stroke="#352513" stroke-width="1"/>
<line x1="884.60" y1="689.33" x2="884.60" y2="677.67" stroke="#333" stroke-width="1.1" />
<line x1="881.30" y1="677.67" x2="887.90" y2="677.67" stroke="#333" stroke-width="1.1" />
<rect x="878.40" y="689.33" width="12.4" height="60.57" fill="#a98cf6" stroke="#2a1f48" stroke-width="1"/>
<line x1="898.60" y1="705.67" x2="898.60" y2="700.33" stroke="#333" stroke-width="1.1" />
<line x1="895.30" y1="700.33" x2="901.90" y2="700.33" stroke="#333" stroke-width="1.1" />
<rect x="892.40" y="705.67" width="12.4" height="44.23" fill="#a98cf6" stroke="#2a1f48" stroke-width="1"/>
<line x1="912.60" y1="656.33" x2="912.60" y2="638.00" stroke="#333" stroke-width="1.1" />
<line x1="909.30" y1="638.00" x2="915.90" y2="638.00" stroke="#333" stroke-width="1.1" />
<rect x="906.40" y="656.33" width="12.4" height="93.57" fill="#f9c384" stroke="#352513" stroke-width="1"/>
<line x1="912.60" y1="719.33" x2="912.60" y2="710.33" stroke="#333" stroke-width="1.1" />
<line x1="909.30" y1="710.33" x2="915.90" y2="710.33" stroke="#333" stroke-width="1.1" />
<rect x="906.40" y="719.33" width="12.4" height="30.57" fill="#a98cf6" stroke="#2a1f48" stroke-width="1"/>
<line x1="926.60" y1="684.33" x2="926.60" y2="672.67" stroke="#333" stroke-width="1.1" />
<line x1="923.30" y1="672.67" x2="929.90" y2="672.67" stroke="#333" stroke-width="1.1" />
<rect x="920.40" y="684.33" width="12.4" height="65.57" fill="#f9c384" stroke="#352513" stroke-width="1"/>
<line x1="926.60" y1="746.33" x2="926.60" y2="745.67" stroke="#333" stroke-width="1.1" />
<line x1="923.30" y1="745.67" x2="929.90" y2="745.67" stroke="#333" stroke-width="1.1" />
<rect x="920.40" y="746.33" width="12.4" height="3.57" fill="#a98cf6" stroke="#2a1f48" stroke-width="1"/>
<line x1="940.60" y1="701.33" x2="940.60" y2="684.67" stroke="#333" stroke-width="1.1" />
<line x1="937.30" y1="684.67" x2="943.90" y2="684.67" stroke="#333" stroke-width="1.1" />
<rect x="934.40" y="701.33" width="12.4" height="48.57" fill="#f9c384" stroke="#352513" stroke-width="1"/>
<line x1="967.70" y1="729.33" x2="967.70" y2="723.67" stroke="#333" stroke-width="1.1" />
<line x1="964.40" y1="723.67" x2="971.00" y2="723.67" stroke="#333" stroke-width="1.1" />
<rect x="961.50" y="729.33" width="12.4" height="20.57" fill="#a98cf6" stroke="#2a1f48" stroke-width="1"/>
<line x1="981.70" y1="723.67" x2="981.70" y2="720.33" stroke="#333" stroke-width="1.1" />
<line x1="978.40" y1="720.33" x2="985.00" y2="720.33" stroke="#333" stroke-width="1.1" />
<rect x="975.50" y="723.67" width="12.4" height="26.23" fill="#a98cf6" stroke="#2a1f48" stroke-width="1"/>
<line x1="995.70" y1="667.67" x2="995.70" y2="666.67" stroke="#333" stroke-width="1.1" />
<line x1="992.40" y1="666.67" x2="999.00" y2="666.67" stroke="#333" stroke-width="1.1" />
<rect x="989.50" y="667.67" width="12.4" height="82.23" fill="#f9c384" stroke="#352513" stroke-width="1"/>
<line x1="995.70" y1="703.33" x2="995.70" y2="702.33" stroke="#333" stroke-width="1.1" />
<line x1="992.40" y1="702.33" x2="999.00" y2="702.33" stroke="#333" stroke-width="1.1" />
<rect x="989.50" y="703.33" width="12.4" height="46.57" fill="#a98cf6" stroke="#2a1f48" stroke-width="1"/>
<line x1="1009.70" y1="690.33" x2="1009.70" y2="677.67" stroke="#333" stroke-width="1.1" />
<line x1="1006.40" y1="677.67" x2="1013.00" y2="677.67" stroke="#333" stroke-width="1.1" />
<rect x="1003.50" y="690.33" width="12.4" height="59.57" fill="#f9c384" stroke="#352513" stroke-width="1"/>
<line x1="1009.70" y1="747.00" x2="1009.70" y2="745.33" stroke="#333" stroke-width="1.1" />
<line x1="1006.40" y1="745.33" x2="1013.00" y2="745.33" stroke="#333" stroke-width="1.1" />
<rect x="1003.50" y="747.00" width="12.4" height="2.90" fill="#a98cf6" stroke="#2a1f48" stroke-width="1"/>
<line x1="1023.70" y1="710.33" x2="1023.70" y2="702.67" stroke="#333" stroke-width="1.1" />
<line x1="1020.40" y1="702.67" x2="1027.00" y2="702.67" stroke="#333" stroke-width="1.1" />
<rect x="1017.50" y="710.33" width="12.4" height="39.57" fill="#f9c384" stroke="#352513" stroke-width="1"/>
<path d="M789.10 750.80 V584.60 H1036.10 V750.80" fill="none" stroke="#0a0a0a" stroke-width="1.8"/>
<line x1="788.20" y1="749.90" x2="1037.00" y2="749.90" stroke="#0a0a0a" stroke-width="1.8" />
<line x1="784.10" y1="749.90" x2="789.10" y2="749.90" stroke="#0a0a0a" stroke-width="1.7" />
<text x="782.80" y="754.45" font-size="12.7" text-anchor="end" fill="#111" >0</text>
<line x1="784.10" y1="726.29" x2="789.10" y2="726.29" stroke="#0a0a0a" stroke-width="1.7" />
<text x="782.80" y="730.84" font-size="12.7" text-anchor="end" fill="#111" >5</text>
<line x1="784.10" y1="702.67" x2="789.10" y2="702.67" stroke="#0a0a0a" stroke-width="1.7" />
<text x="782.80" y="707.22" font-size="12.7" text-anchor="end" fill="#111" >10</text>
<line x1="784.10" y1="679.06" x2="789.10" y2="679.06" stroke="#0a0a0a" stroke-width="1.7" />
<text x="782.80" y="683.61" font-size="12.7" text-anchor="end" fill="#111" >15</text>
<line x1="784.10" y1="655.44" x2="789.10" y2="655.44" stroke="#0a0a0a" stroke-width="1.7" />
<text x="782.80" y="659.99" font-size="12.7" text-anchor="end" fill="#111" >20</text>
<line x1="784.10" y1="631.83" x2="789.10" y2="631.83" stroke="#0a0a0a" stroke-width="1.7" />
<text x="782.80" y="636.38" font-size="12.7" text-anchor="end" fill="#111" >25</text>
<line x1="784.10" y1="608.21" x2="789.10" y2="608.21" stroke="#0a0a0a" stroke-width="1.7" />
<text x="782.80" y="612.76" font-size="12.7" text-anchor="end" fill="#111" >30</text>
<line x1="784.10" y1="584.60" x2="789.10" y2="584.60" stroke="#0a0a0a" stroke-width="1.7" />
<text x="782.80" y="589.15" font-size="12.7" text-anchor="end" fill="#111" >35</text>
<line x1="801.40" y1="749.90" x2="801.40" y2="754.90" stroke="#0a0a0a" stroke-width="1.7" />
<text x="801.40" y="767.60" font-size="12.7" text-anchor="middle" fill="#111" >1</text>
<line x1="815.40" y1="749.90" x2="815.40" y2="754.90" stroke="#0a0a0a" stroke-width="1.7" />
<text x="815.40" y="767.60" font-size="12.7" text-anchor="middle" fill="#111" >2</text>
<line x1="829.40" y1="749.90" x2="829.40" y2="754.90" stroke="#0a0a0a" stroke-width="1.7" />
<text x="829.40" y="767.60" font-size="12.7" text-anchor="middle" fill="#111" >3</text>
<line x1="843.40" y1="749.90" x2="843.40" y2="754.90" stroke="#0a0a0a" stroke-width="1.7" />
<text x="843.40" y="767.60" font-size="12.7" text-anchor="middle" fill="#111" >4</text>
<line x1="857.40" y1="749.90" x2="857.40" y2="754.90" stroke="#0a0a0a" stroke-width="1.7" />
<text x="857.40" y="767.60" font-size="12.7" text-anchor="middle" fill="#111" >5</text>
<line x1="798.80" y1="777.40" x2="859.20" y2="777.40" stroke="#0a0a0a" stroke-width="2.3" />
<text x="829.20" y="791.20" font-size="12.7" text-anchor="middle" fill="#111" >1 h</text>
<line x1="884.60" y1="749.90" x2="884.60" y2="754.90" stroke="#0a0a0a" stroke-width="1.7" />
<text x="884.60" y="767.60" font-size="12.7" text-anchor="middle" fill="#111" >1</text>
<line x1="898.60" y1="749.90" x2="898.60" y2="754.90" stroke="#0a0a0a" stroke-width="1.7" />
<text x="898.60" y="767.60" font-size="12.7" text-anchor="middle" fill="#111" >2</text>
<line x1="912.60" y1="749.90" x2="912.60" y2="754.90" stroke="#0a0a0a" stroke-width="1.7" />
<text x="912.60" y="767.60" font-size="12.7" text-anchor="middle" fill="#111" >3</text>
<line x1="926.60" y1="749.90" x2="926.60" y2="754.90" stroke="#0a0a0a" stroke-width="1.7" />
<text x="926.60" y="767.60" font-size="12.7" text-anchor="middle" fill="#111" >4</text>
<line x1="940.60" y1="749.90" x2="940.60" y2="754.90" stroke="#0a0a0a" stroke-width="1.7" />
<text x="940.60" y="767.60" font-size="12.7" text-anchor="middle" fill="#111" >5</text>
<line x1="883.30" y1="777.40" x2="943.70" y2="777.40" stroke="#0a0a0a" stroke-width="2.3" />
<text x="913.70" y="791.20" font-size="12.7" text-anchor="middle" fill="#111" >4 h</text>
<line x1="967.70" y1="749.90" x2="967.70" y2="754.90" stroke="#0a0a0a" stroke-width="1.7" />
<text x="967.70" y="767.60" font-size="12.7" text-anchor="middle" fill="#111" >1</text>
<line x1="981.70" y1="749.90" x2="981.70" y2="754.90" stroke="#0a0a0a" stroke-width="1.7" />
<text x="981.70" y="767.60" font-size="12.7" text-anchor="middle" fill="#111" >2</text>
<line x1="995.70" y1="749.90" x2="995.70" y2="754.90" stroke="#0a0a0a" stroke-width="1.7" />
<text x="995.70" y="767.60" font-size="12.7" text-anchor="middle" fill="#111" >3</text>
<line x1="1009.70" y1="749.90" x2="1009.70" y2="754.90" stroke="#0a0a0a" stroke-width="1.7" />
<text x="1009.70" y="767.60" font-size="12.7" text-anchor="middle" fill="#111" >4</text>
<line x1="1023.70" y1="749.90" x2="1023.70" y2="754.90" stroke="#0a0a0a" stroke-width="1.7" />
<text x="1023.70" y="767.60" font-size="12.7" text-anchor="middle" fill="#111" >5</text>
<line x1="967.80" y1="777.40" x2="1028.20" y2="777.40" stroke="#0a0a0a" stroke-width="2.3" />
<text x="998.20" y="791.20" font-size="12.7" text-anchor="middle" fill="#111" >12 h</text>
<line x1="871.00" y1="749.90" x2="871.00" y2="754.90" stroke="#0a0a0a" stroke-width="1.7" />
<line x1="954.15" y1="749.90" x2="954.15" y2="754.90" stroke="#0a0a0a" stroke-width="1.7" />
<text transform="translate(759.50,665.25) rotate(-90)" font-size="13.5" text-anchor="middle" fill="#111">Concentration (nmoL g<tspan font-size="8.5" dy="-5">-1</tspan><tspan dy="5">)</tspan></text>
<text x="883.4" y="625.6" font-size="10.4" text-anchor="middle" fill="#111">*<tspan font-style="italic">P</tspan> = 0.0114</text>
<path d="M883.4 634.3 V630.2 H912.2 V634.3" fill="none" stroke="#0a0a0a" stroke-width="1.4"/>
<text transform="translate(976.3,692.8) rotate(-90)" font-size="10.4" text-anchor="start" fill="#111">****<tspan font-style="italic">P</tspan> &lt; 0.0001</text>
<path d="M968.4 701 V696.7 H996.1 V701" fill="none" stroke="#0a0a0a" stroke-width="1.4"/>
<text transform="translate(993.3,655.6) rotate(-90)" font-size="10.4" text-anchor="start" fill="#111">****<tspan font-style="italic">P</tspan> &lt; 0.0001</text>
<path d="M980.6 663.5 V659.9 H995.3 V663.5" fill="none" stroke="#0a0a0a" stroke-width="1.2"/>
<text transform="translate(1011.2,654.2) rotate(-90)" font-size="10.4" text-anchor="start" fill="#111">*<tspan font-style="italic">P</tspan> = 0.0342</text>
<path d="M997.5 663.8 V659.9 H1012 V663.8" fill="none" stroke="#0a0a0a" stroke-width="1.2"/>
<text transform="translate(1028.2,667.5) rotate(-90)" font-size="10.4" text-anchor="start" fill="#111"><tspan font-style="italic">P</tspan> = 0.0637</text>
<path d="M1014.2 673.5 V669.8 H1028.4 V673.5" fill="none" stroke="#0a0a0a" stroke-width="1.2"/>
</svg>
</body></html>
